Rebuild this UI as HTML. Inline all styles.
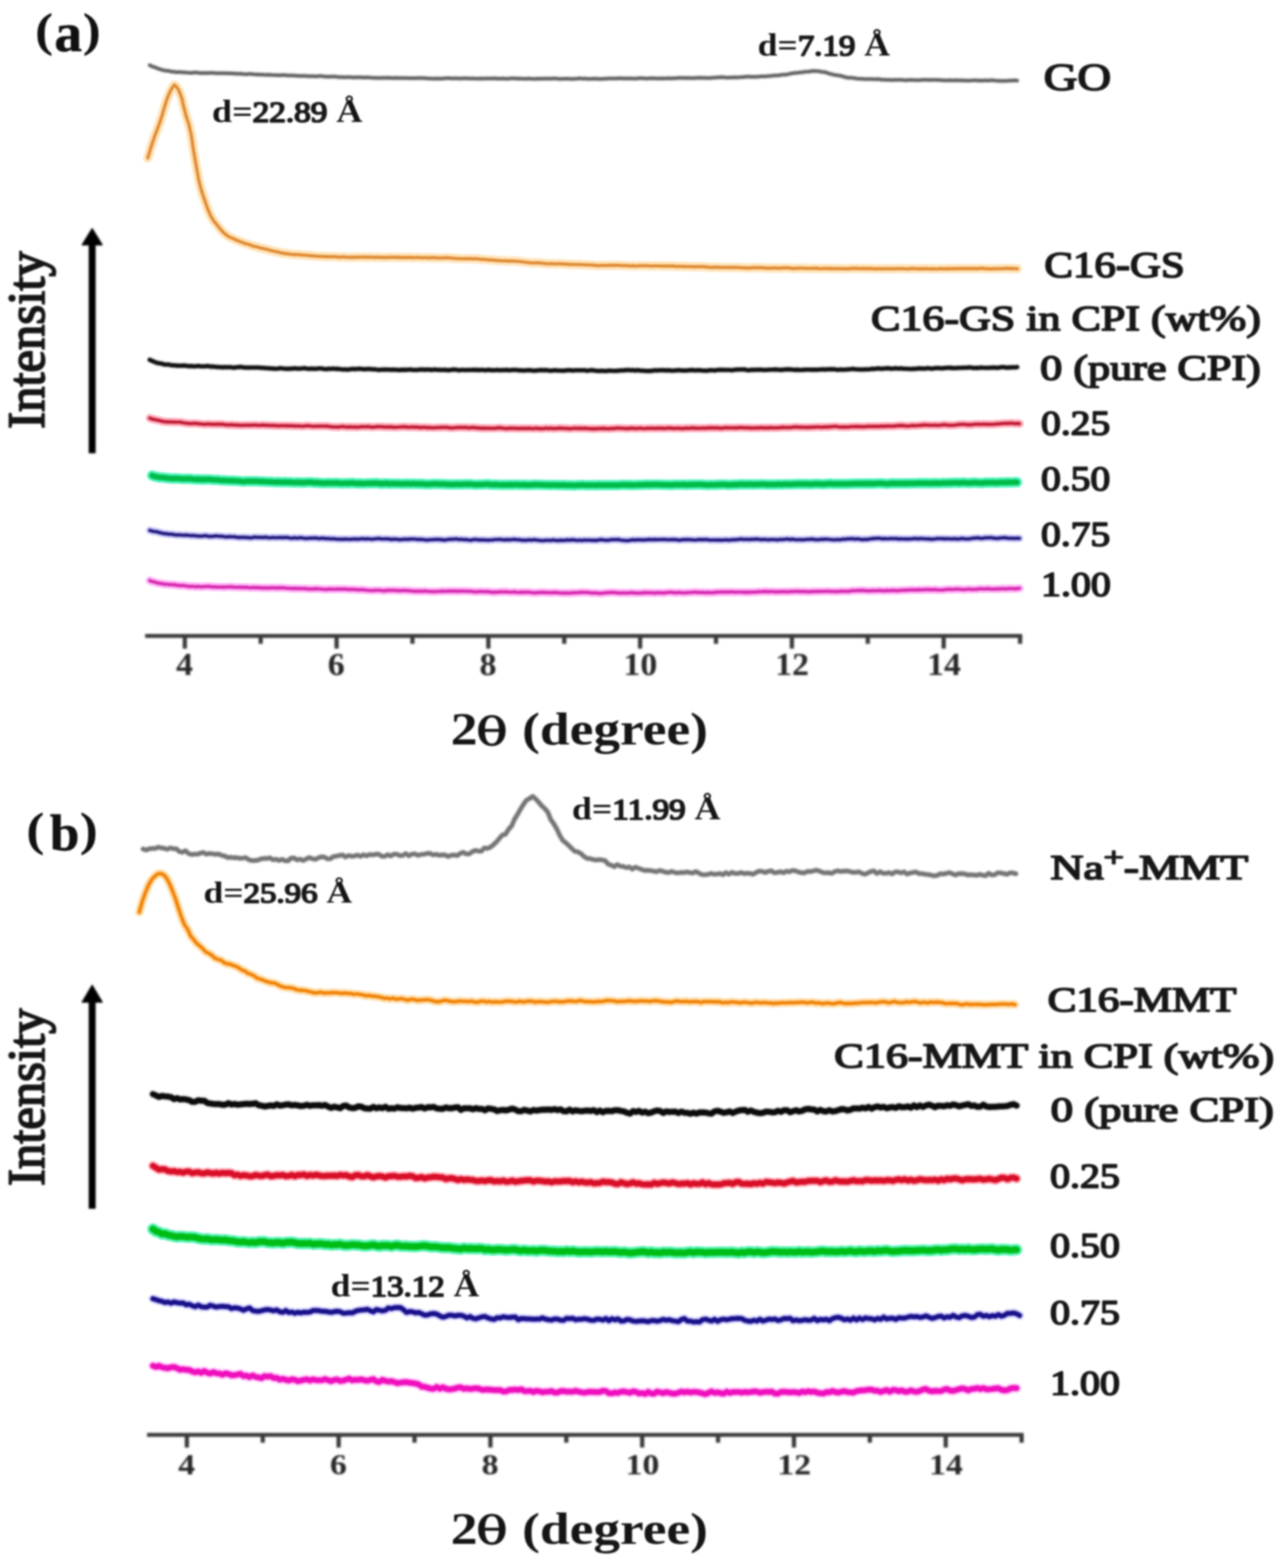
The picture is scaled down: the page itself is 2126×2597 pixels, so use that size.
<!DOCTYPE html>
<html lang="en"><head><meta charset="utf-8"><title>XRD patterns</title>
<style>
html,body{margin:0;padding:0;background:#fff;}
body{width:2126px;height:2597px;overflow:hidden;}
svg{display:block;}
svg text{font-family:"Liberation Serif","DejaVu Serif",serif;font-weight:bold;}
svg .n{font-weight:normal;stroke:#1a1a1a;stroke-width:2.7px;stroke-linejoin:round;}
svg .b{font-weight:bold;stroke:#1a1a1a;stroke-width:2.4px;}
svg .i{font-weight:normal;stroke:#151515;stroke-width:3px;stroke-linejoin:round;}
svg .th{font-family:"DejaVu Serif","Liberation Serif",serif;font-weight:normal;stroke:#151515;stroke-width:1.6px;}
</style></head><body>
<svg width="2126" height="2597" viewBox="0 0 2126 2597">
<defs><filter id="soft" x="0" y="0" width="2126" height="2597" filterUnits="userSpaceOnUse" color-interpolation-filters="sRGB"><feGaussianBlur stdDeviation="1.5"/></filter><filter id="soft2" x="0" y="0" width="2126" height="2597" filterUnits="userSpaceOnUse" color-interpolation-filters="sRGB"><feGaussianBlur stdDeviation="1.1"/></filter></defs>
<rect width="2126" height="2597" fill="#ffffff"/>
<g filter="url(#soft)">
<g id="curves" fill="none" stroke-linejoin="round" stroke-linecap="round">
<path d="M248.0 108.0 252.0 110.0 256.0 111.3 260.0 112.9 264.0 114.3 268.0 115.6 272.0 116.7 276.0 117.1 280.0 117.6 284.0 118.6 288.0 119.0 292.0 119.4 296.0 119.2 300.0 119.5 304.0 120.0 308.0 119.9 312.0 120.5 316.0 120.8 320.0 120.3 324.0 120.1 328.0 120.5 332.0 121.0 336.0 120.9 340.0 120.8 344.0 120.9 348.0 120.7 352.0 120.8 356.0 121.1 360.0 121.3 364.0 121.2 368.0 121.2 372.0 121.3 376.0 121.5 380.0 121.5 384.0 121.4 388.0 122.0 392.0 122.1 396.0 122.3 400.0 122.1 404.0 122.7 408.0 123.0 412.0 122.6 416.0 122.6 420.0 123.0 424.0 123.2 428.0 123.6 432.0 123.5 436.0 123.8 440.0 123.9 444.0 123.7 448.0 123.9 452.0 124.3 456.0 124.6 460.0 124.5 464.0 124.7 468.0 124.3 472.0 124.4 476.0 124.9 480.0 125.0 484.0 124.9 488.0 125.2 492.0 125.5 496.0 125.8 500.0 125.7 504.0 125.8 508.0 125.9 512.0 126.3 516.0 126.3 520.0 126.3 524.0 126.4 528.0 126.1 532.0 126.0 536.0 126.5 540.0 127.1 544.0 127.1 548.0 127.0 552.0 126.8 556.0 127.0 560.0 127.6 564.0 127.7 568.0 127.7 572.0 128.0 576.0 127.7 580.0 127.8 584.0 128.2 588.0 128.2 592.0 128.1 596.0 128.0 600.0 128.2 604.0 128.6 608.0 128.1 612.0 128.5 616.0 128.8 620.0 129.1 624.0 129.1 628.0 129.2 632.0 129.1 636.0 129.1 640.0 129.0 644.0 128.7 648.0 129.2 652.0 129.2 656.0 129.0 660.0 129.2 664.0 129.2 668.0 129.2 672.0 129.2 676.0 129.4 680.0 129.5 684.0 129.6 688.0 129.6 692.0 129.2 696.0 129.2 700.0 129.2 704.0 129.5 708.0 129.9 712.0 130.1 716.0 130.2 720.0 130.3 724.0 130.0 728.0 130.2 732.0 130.3 736.0 129.8 740.0 129.6 744.0 129.4 748.0 129.9 752.0 129.8 756.0 129.7 760.0 130.0 764.0 130.0 768.0 129.8 772.0 129.7 776.0 130.0 780.0 129.9 784.0 129.9 788.0 130.2 792.0 130.2 796.0 130.1 800.0 130.2 804.0 129.9 808.0 130.0 812.0 130.1 816.0 129.9 820.0 129.8 824.0 130.3 828.0 130.3 832.0 130.1 836.0 130.3 840.0 130.5 844.0 130.0 848.0 129.8 852.0 129.7 856.0 130.2 860.0 130.0 864.0 130.3 868.0 130.4 872.0 130.4 876.0 130.1 880.0 130.6 884.0 130.7 888.0 130.5 892.0 130.2 896.0 130.4 900.0 130.3 904.0 130.3 908.0 130.2 912.0 130.3 916.0 130.0 920.0 130.0 924.0 130.5 928.0 130.7 932.0 130.4 936.0 130.6 940.0 130.3 944.0 130.7 948.0 130.7 952.0 130.4 956.0 130.2 960.0 129.8 964.0 130.4 968.0 130.0 972.0 130.4 976.0 130.7 980.0 130.6 984.0 130.2 988.0 130.5 992.0 130.8 996.0 130.7 1000.0 130.5 1004.0 130.2 1008.0 130.1 1012.0 129.9 1016.0 130.1 1020.0 130.1 1024.0 129.8 1028.0 129.6 1032.0 129.9 1036.0 129.8 1040.0 129.9 1044.0 129.7 1048.0 130.1 1052.0 130.3 1056.0 129.7 1060.0 129.5 1064.0 129.5 1068.0 130.0 1072.0 130.1 1076.0 129.8 1080.0 129.5 1084.0 129.7 1088.0 129.9 1092.0 130.1 1096.0 129.7 1100.0 129.9 1104.0 129.8 1108.0 129.6 1112.0 129.9 1116.0 129.4 1120.0 129.5 1124.0 129.1 1128.0 128.9 1132.0 129.3 1136.0 129.0 1140.0 129.3 1144.0 129.2 1148.0 129.4 1152.0 129.1 1156.0 128.9 1160.0 128.7 1164.0 129.0 1168.0 129.0 1172.0 129.2 1176.0 129.3 1180.0 128.7 1184.0 128.6 1188.0 128.2 1192.0 127.9 1196.0 127.8 1200.0 128.3 1204.0 128.5 1208.0 128.5 1212.0 128.2 1216.0 128.1 1220.0 128.2 1224.0 127.9 1228.0 127.8 1232.0 127.4 1236.0 127.1 1240.0 127.0 1244.0 127.3 1248.0 127.2 1252.0 127.3 1256.0 127.0 1260.0 126.5 1264.0 126.6 1268.0 126.6 1272.0 125.9 1276.0 125.9 1280.0 125.3 1284.0 124.9 1288.0 125.1 1292.0 124.3 1296.0 123.8 1300.0 123.8 1304.0 123.1 1308.0 122.2 1312.0 121.4 1316.0 120.8 1320.0 120.7 1324.0 119.9 1328.0 119.8 1332.0 119.0 1336.0 118.8 1340.0 118.5 1344.0 117.8 1348.0 117.5 1352.0 117.8 1356.0 118.0 1360.0 118.9 1364.0 119.3 1368.0 120.0 1372.0 121.7 1376.0 122.6 1380.0 123.7 1384.0 124.4 1388.0 125.1 1392.0 125.5 1396.0 126.8 1400.0 127.8 1404.0 128.7 1408.0 128.7 1412.0 129.0 1416.0 129.7 1420.0 130.4 1424.0 130.6 1428.0 130.8 1432.0 131.0 1436.0 130.9 1440.0 131.1 1444.0 131.1 1448.0 131.2 1452.0 131.1 1456.0 131.3 1460.0 132.0 1464.0 132.0 1468.0 132.2 1472.0 132.3 1476.0 132.6 1480.0 132.4 1484.0 132.2 1488.0 132.2 1492.0 132.2 1496.0 132.6 1500.0 132.9 1504.0 132.6 1508.0 132.4 1512.0 132.6 1516.0 132.7 1520.0 132.7 1524.0 132.5 1528.0 132.2 1532.0 132.3 1536.0 132.2 1540.0 132.5 1544.0 132.3 1548.0 132.2 1552.0 132.6 1556.0 132.6 1560.0 133.0 1564.0 132.9 1568.0 133.2 1572.0 132.8 1576.0 132.9 1580.0 133.2 1584.0 132.8 1588.0 133.2 1592.0 132.9 1596.0 133.2 1600.0 133.5 1604.0 133.6 1608.0 133.3 1612.0 132.9 1616.0 133.0 1620.0 133.4 1624.0 133.2 1628.0 133.5 1632.0 133.1 1636.0 133.5 1640.0 133.0 1644.0 133.0 1648.0 133.5 1652.0 133.7 1656.0 133.9 1660.0 133.9 1664.0 133.9 1668.0 133.8 1672.0 133.4 1676.0 133.4 1680.0 133.1 1684.0 133.5" stroke="#9a9a9a" stroke-width="9" stroke-opacity="0.5"/>
<path d="M248.0 108.0 252.0 110.0 256.0 111.3 260.0 112.9 264.0 114.3 268.0 115.6 272.0 116.7 276.0 117.1 280.0 117.6 284.0 118.6 288.0 119.0 292.0 119.4 296.0 119.2 300.0 119.5 304.0 120.0 308.0 119.9 312.0 120.5 316.0 120.8 320.0 120.3 324.0 120.1 328.0 120.5 332.0 121.0 336.0 120.9 340.0 120.8 344.0 120.9 348.0 120.7 352.0 120.8 356.0 121.1 360.0 121.3 364.0 121.2 368.0 121.2 372.0 121.3 376.0 121.5 380.0 121.5 384.0 121.4 388.0 122.0 392.0 122.1 396.0 122.3 400.0 122.1 404.0 122.7 408.0 123.0 412.0 122.6 416.0 122.6 420.0 123.0 424.0 123.2 428.0 123.6 432.0 123.5 436.0 123.8 440.0 123.9 444.0 123.7 448.0 123.9 452.0 124.3 456.0 124.6 460.0 124.5 464.0 124.7 468.0 124.3 472.0 124.4 476.0 124.9 480.0 125.0 484.0 124.9 488.0 125.2 492.0 125.5 496.0 125.8 500.0 125.7 504.0 125.8 508.0 125.9 512.0 126.3 516.0 126.3 520.0 126.3 524.0 126.4 528.0 126.1 532.0 126.0 536.0 126.5 540.0 127.1 544.0 127.1 548.0 127.0 552.0 126.8 556.0 127.0 560.0 127.6 564.0 127.7 568.0 127.7 572.0 128.0 576.0 127.7 580.0 127.8 584.0 128.2 588.0 128.2 592.0 128.1 596.0 128.0 600.0 128.2 604.0 128.6 608.0 128.1 612.0 128.5 616.0 128.8 620.0 129.1 624.0 129.1 628.0 129.2 632.0 129.1 636.0 129.1 640.0 129.0 644.0 128.7 648.0 129.2 652.0 129.2 656.0 129.0 660.0 129.2 664.0 129.2 668.0 129.2 672.0 129.2 676.0 129.4 680.0 129.5 684.0 129.6 688.0 129.6 692.0 129.2 696.0 129.2 700.0 129.2 704.0 129.5 708.0 129.9 712.0 130.1 716.0 130.2 720.0 130.3 724.0 130.0 728.0 130.2 732.0 130.3 736.0 129.8 740.0 129.6 744.0 129.4 748.0 129.9 752.0 129.8 756.0 129.7 760.0 130.0 764.0 130.0 768.0 129.8 772.0 129.7 776.0 130.0 780.0 129.9 784.0 129.9 788.0 130.2 792.0 130.2 796.0 130.1 800.0 130.2 804.0 129.9 808.0 130.0 812.0 130.1 816.0 129.9 820.0 129.8 824.0 130.3 828.0 130.3 832.0 130.1 836.0 130.3 840.0 130.5 844.0 130.0 848.0 129.8 852.0 129.7 856.0 130.2 860.0 130.0 864.0 130.3 868.0 130.4 872.0 130.4 876.0 130.1 880.0 130.6 884.0 130.7 888.0 130.5 892.0 130.2 896.0 130.4 900.0 130.3 904.0 130.3 908.0 130.2 912.0 130.3 916.0 130.0 920.0 130.0 924.0 130.5 928.0 130.7 932.0 130.4 936.0 130.6 940.0 130.3 944.0 130.7 948.0 130.7 952.0 130.4 956.0 130.2 960.0 129.8 964.0 130.4 968.0 130.0 972.0 130.4 976.0 130.7 980.0 130.6 984.0 130.2 988.0 130.5 992.0 130.8 996.0 130.7 1000.0 130.5 1004.0 130.2 1008.0 130.1 1012.0 129.9 1016.0 130.1 1020.0 130.1 1024.0 129.8 1028.0 129.6 1032.0 129.9 1036.0 129.8 1040.0 129.9 1044.0 129.7 1048.0 130.1 1052.0 130.3 1056.0 129.7 1060.0 129.5 1064.0 129.5 1068.0 130.0 1072.0 130.1 1076.0 129.8 1080.0 129.5 1084.0 129.7 1088.0 129.9 1092.0 130.1 1096.0 129.7 1100.0 129.9 1104.0 129.8 1108.0 129.6 1112.0 129.9 1116.0 129.4 1120.0 129.5 1124.0 129.1 1128.0 128.9 1132.0 129.3 1136.0 129.0 1140.0 129.3 1144.0 129.2 1148.0 129.4 1152.0 129.1 1156.0 128.9 1160.0 128.7 1164.0 129.0 1168.0 129.0 1172.0 129.2 1176.0 129.3 1180.0 128.7 1184.0 128.6 1188.0 128.2 1192.0 127.9 1196.0 127.8 1200.0 128.3 1204.0 128.5 1208.0 128.5 1212.0 128.2 1216.0 128.1 1220.0 128.2 1224.0 127.9 1228.0 127.8 1232.0 127.4 1236.0 127.1 1240.0 127.0 1244.0 127.3 1248.0 127.2 1252.0 127.3 1256.0 127.0 1260.0 126.5 1264.0 126.6 1268.0 126.6 1272.0 125.9 1276.0 125.9 1280.0 125.3 1284.0 124.9 1288.0 125.1 1292.0 124.3 1296.0 123.8 1300.0 123.8 1304.0 123.1 1308.0 122.2 1312.0 121.4 1316.0 120.8 1320.0 120.7 1324.0 119.9 1328.0 119.8 1332.0 119.0 1336.0 118.8 1340.0 118.5 1344.0 117.8 1348.0 117.5 1352.0 117.8 1356.0 118.0 1360.0 118.9 1364.0 119.3 1368.0 120.0 1372.0 121.7 1376.0 122.6 1380.0 123.7 1384.0 124.4 1388.0 125.1 1392.0 125.5 1396.0 126.8 1400.0 127.8 1404.0 128.7 1408.0 128.7 1412.0 129.0 1416.0 129.7 1420.0 130.4 1424.0 130.6 1428.0 130.8 1432.0 131.0 1436.0 130.9 1440.0 131.1 1444.0 131.1 1448.0 131.2 1452.0 131.1 1456.0 131.3 1460.0 132.0 1464.0 132.0 1468.0 132.2 1472.0 132.3 1476.0 132.6 1480.0 132.4 1484.0 132.2 1488.0 132.2 1492.0 132.2 1496.0 132.6 1500.0 132.9 1504.0 132.6 1508.0 132.4 1512.0 132.6 1516.0 132.7 1520.0 132.7 1524.0 132.5 1528.0 132.2 1532.0 132.3 1536.0 132.2 1540.0 132.5 1544.0 132.3 1548.0 132.2 1552.0 132.6 1556.0 132.6 1560.0 133.0 1564.0 132.9 1568.0 133.2 1572.0 132.8 1576.0 132.9 1580.0 133.2 1584.0 132.8 1588.0 133.2 1592.0 132.9 1596.0 133.2 1600.0 133.5 1604.0 133.6 1608.0 133.3 1612.0 132.9 1616.0 133.0 1620.0 133.4 1624.0 133.2 1628.0 133.5 1632.0 133.1 1636.0 133.5 1640.0 133.0 1644.0 133.0 1648.0 133.5 1652.0 133.7 1656.0 133.9 1660.0 133.9 1664.0 133.9 1668.0 133.8 1672.0 133.4 1676.0 133.4 1680.0 133.1 1684.0 133.5" stroke="#666666" stroke-width="5"/>
<path d="M244.6 261.7 248.6 248.8 252.6 235.8 256.6 224.2 260.6 213.8 264.6 202.8 268.6 190.5 272.6 176.4 276.6 163.8 280.6 153.9 284.6 146.2 288.6 140.8 292.6 144.0 296.6 150.8 300.6 161.4 304.6 178.7 308.6 193.6 312.6 205.5 316.6 223.4 320.6 250.0 324.6 273.0 328.6 295.8 332.6 312.4 336.6 325.1 340.6 336.7 344.6 347.9 348.6 357.0 352.6 364.0 356.6 369.3 360.6 374.0 364.6 379.1 368.6 383.7 372.6 387.5 376.6 390.6 380.6 392.9 384.6 394.4 388.6 396.5 392.6 398.2 396.6 399.6 400.6 401.3 404.6 402.7 408.6 404.0 412.6 405.0 416.6 406.6 420.6 408.0 424.6 408.6 428.6 409.9 432.6 411.0 436.6 411.8 440.6 412.8 444.6 413.7 448.6 415.0 452.6 415.7 456.6 416.8 460.6 417.4 464.6 418.5 468.6 419.4 472.6 419.8 476.6 420.3 480.6 421.0 484.6 421.4 488.6 421.6 492.6 421.6 496.6 421.9 500.6 422.5 504.6 422.5 508.6 423.2 512.6 423.2 516.6 423.9 520.6 423.8 524.6 424.5 528.6 424.7 532.6 424.7 536.6 424.8 540.6 425.1 544.6 425.2 548.6 425.1 552.6 425.0 556.6 425.3 560.6 425.8 564.6 425.8 568.6 425.4 572.6 425.8 576.6 426.0 580.6 426.3 584.6 425.9 588.6 426.1 592.6 425.7 596.6 426.0 600.6 425.8 604.6 425.7 608.6 426.2 612.6 425.9 616.6 426.0 620.6 426.4 624.6 426.1 628.6 426.0 632.6 426.4 636.6 426.3 640.6 426.5 644.6 426.1 648.6 426.1 652.6 426.0 656.6 426.4 660.6 426.1 664.6 426.7 668.6 426.3 672.6 426.6 676.6 426.3 680.6 426.3 684.6 426.8 688.6 426.5 692.6 426.4 696.6 426.8 700.6 426.8 704.6 426.5 708.6 427.2 712.6 426.9 716.6 426.6 720.6 426.8 724.6 427.1 728.6 427.4 732.6 427.1 736.6 427.1 740.6 426.9 744.6 427.2 748.6 427.6 752.6 427.9 756.6 428.2 760.6 428.3 764.6 428.5 768.6 428.5 772.6 428.4 776.6 428.3 780.6 428.7 784.6 428.7 788.6 428.7 792.6 429.0 796.6 429.7 800.6 429.6 804.6 430.0 808.6 430.3 812.6 430.6 816.6 430.6 820.6 431.4 824.6 431.4 828.6 431.8 832.6 432.0 836.6 431.9 840.6 432.4 844.6 432.4 848.6 432.4 852.6 432.5 856.6 432.8 860.6 433.0 864.6 433.6 868.6 434.0 872.6 434.7 876.6 435.1 880.6 435.5 884.6 435.3 888.6 435.4 892.6 435.4 896.6 435.8 900.6 436.1 904.6 436.6 908.6 436.8 912.6 436.7 916.6 436.8 920.6 437.1 924.6 436.9 928.6 436.9 932.6 437.3 936.6 437.3 940.6 437.9 944.6 437.9 948.6 437.9 952.6 438.0 956.6 438.1 960.6 438.2 964.6 438.5 968.6 438.7 972.6 438.7 976.6 439.0 980.6 438.9 984.6 439.4 988.6 439.8 992.6 439.8 996.6 439.6 1000.6 439.6 1004.6 439.7 1008.6 439.3 1012.6 439.4 1016.6 439.6 1020.6 439.4 1024.6 439.3 1028.6 439.8 1032.6 439.8 1036.6 439.9 1040.6 440.3 1044.6 440.3 1048.6 440.1 1052.6 440.5 1056.6 440.3 1060.6 439.9 1064.6 440.3 1068.6 440.0 1072.6 440.1 1076.6 440.5 1080.6 440.7 1084.6 440.3 1088.6 440.4 1092.6 440.5 1096.6 440.6 1100.6 440.5 1104.6 440.8 1108.6 440.6 1112.6 440.6 1116.6 440.8 1120.6 441.4 1124.6 441.0 1128.6 441.4 1132.6 441.2 1136.6 441.5 1140.6 441.5 1144.6 441.6 1148.6 441.9 1152.6 441.9 1156.6 441.7 1160.6 441.6 1164.6 441.6 1168.6 442.2 1172.6 442.4 1176.6 442.8 1180.6 442.8 1184.6 442.4 1188.6 442.6 1192.6 442.9 1196.6 443.0 1200.6 443.0 1204.6 442.8 1208.6 442.9 1212.6 443.2 1216.6 442.9 1220.6 443.0 1224.6 443.1 1228.6 443.5 1232.6 443.7 1236.6 443.9 1240.6 443.9 1244.6 443.5 1248.6 443.3 1252.6 443.4 1256.6 443.3 1260.6 443.4 1264.6 443.7 1268.6 444.1 1272.6 444.0 1276.6 444.2 1280.6 443.8 1284.6 443.7 1288.6 444.3 1292.6 443.9 1296.6 443.9 1300.6 443.7 1304.6 443.6 1308.6 444.2 1312.6 444.6 1316.6 444.6 1320.6 444.2 1324.6 444.1 1328.6 444.0 1332.6 444.4 1336.6 444.6 1340.6 444.5 1344.6 444.5 1348.6 444.3 1352.6 444.4 1356.6 444.9 1360.6 445.0 1364.6 444.5 1368.6 444.6 1372.6 444.8 1376.6 444.6 1380.6 445.0 1384.6 444.9 1388.6 445.0 1392.6 444.8 1396.6 445.2 1400.6 445.2 1404.6 445.1 1408.6 444.7 1412.6 444.7 1416.6 444.4 1420.6 444.7 1424.6 445.0 1428.6 444.7 1432.6 444.8 1436.6 444.8 1440.6 444.7 1444.6 445.0 1448.6 445.3 1452.6 445.2 1456.6 445.1 1460.6 445.3 1464.6 445.0 1468.6 445.1 1472.6 445.1 1476.6 445.2 1480.6 445.4 1484.6 444.9 1488.6 445.0 1492.6 444.9 1496.6 445.0 1500.6 445.3 1504.6 445.3 1508.6 444.7 1512.6 444.8 1516.6 445.0 1520.6 445.3 1524.6 445.2 1528.6 445.3 1532.6 444.8 1536.6 445.2 1540.6 445.3 1544.6 445.2 1548.6 445.4 1552.6 445.5 1556.6 444.9 1560.6 445.2 1564.6 445.3 1568.6 444.9 1572.6 445.1 1576.6 445.1 1580.6 444.8 1584.6 445.1 1588.6 444.7 1592.6 444.9 1596.6 444.9 1600.6 444.7 1604.6 444.9 1608.6 444.9 1612.6 444.7 1616.6 445.2 1620.6 444.7 1624.6 444.4 1628.6 444.7 1632.6 445.1 1636.6 445.2 1640.6 445.3 1644.6 445.1 1648.6 445.2 1652.6 445.0 1656.6 444.8 1660.6 444.9 1664.6 444.6 1668.6 444.4 1672.6 444.9 1676.6 444.7 1680.6 445.0 1684.6 445.2" stroke="#ffd9a0" stroke-width="15.2" stroke-opacity="0.75"/>
<path d="M244.6 261.7 248.6 248.8 252.6 235.8 256.6 224.2 260.6 213.8 264.6 202.8 268.6 190.5 272.6 176.4 276.6 163.8 280.6 153.9 284.6 146.2 288.6 140.8 292.6 144.0 296.6 150.8 300.6 161.4 304.6 178.7 308.6 193.6 312.6 205.5 316.6 223.4 320.6 250.0 324.6 273.0 328.6 295.8 332.6 312.4 336.6 325.1 340.6 336.7 344.6 347.9 348.6 357.0 352.6 364.0 356.6 369.3 360.6 374.0 364.6 379.1 368.6 383.7 372.6 387.5 376.6 390.6 380.6 392.9 384.6 394.4 388.6 396.5 392.6 398.2 396.6 399.6 400.6 401.3 404.6 402.7 408.6 404.0 412.6 405.0 416.6 406.6 420.6 408.0 424.6 408.6 428.6 409.9 432.6 411.0 436.6 411.8 440.6 412.8 444.6 413.7 448.6 415.0 452.6 415.7 456.6 416.8 460.6 417.4 464.6 418.5 468.6 419.4 472.6 419.8 476.6 420.3 480.6 421.0 484.6 421.4 488.6 421.6 492.6 421.6 496.6 421.9 500.6 422.5 504.6 422.5 508.6 423.2 512.6 423.2 516.6 423.9 520.6 423.8 524.6 424.5 528.6 424.7 532.6 424.7 536.6 424.8 540.6 425.1 544.6 425.2 548.6 425.1 552.6 425.0 556.6 425.3 560.6 425.8 564.6 425.8 568.6 425.4 572.6 425.8 576.6 426.0 580.6 426.3 584.6 425.9 588.6 426.1 592.6 425.7 596.6 426.0 600.6 425.8 604.6 425.7 608.6 426.2 612.6 425.9 616.6 426.0 620.6 426.4 624.6 426.1 628.6 426.0 632.6 426.4 636.6 426.3 640.6 426.5 644.6 426.1 648.6 426.1 652.6 426.0 656.6 426.4 660.6 426.1 664.6 426.7 668.6 426.3 672.6 426.6 676.6 426.3 680.6 426.3 684.6 426.8 688.6 426.5 692.6 426.4 696.6 426.8 700.6 426.8 704.6 426.5 708.6 427.2 712.6 426.9 716.6 426.6 720.6 426.8 724.6 427.1 728.6 427.4 732.6 427.1 736.6 427.1 740.6 426.9 744.6 427.2 748.6 427.6 752.6 427.9 756.6 428.2 760.6 428.3 764.6 428.5 768.6 428.5 772.6 428.4 776.6 428.3 780.6 428.7 784.6 428.7 788.6 428.7 792.6 429.0 796.6 429.7 800.6 429.6 804.6 430.0 808.6 430.3 812.6 430.6 816.6 430.6 820.6 431.4 824.6 431.4 828.6 431.8 832.6 432.0 836.6 431.9 840.6 432.4 844.6 432.4 848.6 432.4 852.6 432.5 856.6 432.8 860.6 433.0 864.6 433.6 868.6 434.0 872.6 434.7 876.6 435.1 880.6 435.5 884.6 435.3 888.6 435.4 892.6 435.4 896.6 435.8 900.6 436.1 904.6 436.6 908.6 436.8 912.6 436.7 916.6 436.8 920.6 437.1 924.6 436.9 928.6 436.9 932.6 437.3 936.6 437.3 940.6 437.9 944.6 437.9 948.6 437.9 952.6 438.0 956.6 438.1 960.6 438.2 964.6 438.5 968.6 438.7 972.6 438.7 976.6 439.0 980.6 438.9 984.6 439.4 988.6 439.8 992.6 439.8 996.6 439.6 1000.6 439.6 1004.6 439.7 1008.6 439.3 1012.6 439.4 1016.6 439.6 1020.6 439.4 1024.6 439.3 1028.6 439.8 1032.6 439.8 1036.6 439.9 1040.6 440.3 1044.6 440.3 1048.6 440.1 1052.6 440.5 1056.6 440.3 1060.6 439.9 1064.6 440.3 1068.6 440.0 1072.6 440.1 1076.6 440.5 1080.6 440.7 1084.6 440.3 1088.6 440.4 1092.6 440.5 1096.6 440.6 1100.6 440.5 1104.6 440.8 1108.6 440.6 1112.6 440.6 1116.6 440.8 1120.6 441.4 1124.6 441.0 1128.6 441.4 1132.6 441.2 1136.6 441.5 1140.6 441.5 1144.6 441.6 1148.6 441.9 1152.6 441.9 1156.6 441.7 1160.6 441.6 1164.6 441.6 1168.6 442.2 1172.6 442.4 1176.6 442.8 1180.6 442.8 1184.6 442.4 1188.6 442.6 1192.6 442.9 1196.6 443.0 1200.6 443.0 1204.6 442.8 1208.6 442.9 1212.6 443.2 1216.6 442.9 1220.6 443.0 1224.6 443.1 1228.6 443.5 1232.6 443.7 1236.6 443.9 1240.6 443.9 1244.6 443.5 1248.6 443.3 1252.6 443.4 1256.6 443.3 1260.6 443.4 1264.6 443.7 1268.6 444.1 1272.6 444.0 1276.6 444.2 1280.6 443.8 1284.6 443.7 1288.6 444.3 1292.6 443.9 1296.6 443.9 1300.6 443.7 1304.6 443.6 1308.6 444.2 1312.6 444.6 1316.6 444.6 1320.6 444.2 1324.6 444.1 1328.6 444.0 1332.6 444.4 1336.6 444.6 1340.6 444.5 1344.6 444.5 1348.6 444.3 1352.6 444.4 1356.6 444.9 1360.6 445.0 1364.6 444.5 1368.6 444.6 1372.6 444.8 1376.6 444.6 1380.6 445.0 1384.6 444.9 1388.6 445.0 1392.6 444.8 1396.6 445.2 1400.6 445.2 1404.6 445.1 1408.6 444.7 1412.6 444.7 1416.6 444.4 1420.6 444.7 1424.6 445.0 1428.6 444.7 1432.6 444.8 1436.6 444.8 1440.6 444.7 1444.6 445.0 1448.6 445.3 1452.6 445.2 1456.6 445.1 1460.6 445.3 1464.6 445.0 1468.6 445.1 1472.6 445.1 1476.6 445.2 1480.6 445.4 1484.6 444.9 1488.6 445.0 1492.6 444.9 1496.6 445.0 1500.6 445.3 1504.6 445.3 1508.6 444.7 1512.6 444.8 1516.6 445.0 1520.6 445.3 1524.6 445.2 1528.6 445.3 1532.6 444.8 1536.6 445.2 1540.6 445.3 1544.6 445.2 1548.6 445.4 1552.6 445.5 1556.6 444.9 1560.6 445.2 1564.6 445.3 1568.6 444.9 1572.6 445.1 1576.6 445.1 1580.6 444.8 1584.6 445.1 1588.6 444.7 1592.6 444.9 1596.6 444.9 1600.6 444.7 1604.6 444.9 1608.6 444.9 1612.6 444.7 1616.6 445.2 1620.6 444.7 1624.6 444.4 1628.6 444.7 1632.6 445.1 1636.6 445.2 1640.6 445.3 1644.6 445.1 1648.6 445.2 1652.6 445.0 1656.6 444.8 1660.6 444.9 1664.6 444.6 1668.6 444.4 1672.6 444.9 1676.6 444.7 1680.6 445.0 1684.6 445.2" stroke="#e08a32" stroke-width="5.2"/>
<path d="M248.0 596.0 252.0 597.7 256.0 599.5 260.0 601.0 264.0 601.7 268.0 602.3 272.0 603.6 276.0 603.8 280.0 603.9 284.0 605.0 288.0 605.1 292.0 605.6 296.0 605.6 300.0 605.8 304.0 605.4 308.0 605.8 312.0 606.4 316.0 606.3 320.0 606.6 324.0 606.7 328.0 606.1 332.0 606.7 336.0 606.8 340.0 606.6 344.0 606.2 348.0 607.1 352.0 607.1 356.0 607.5 360.0 607.9 364.0 608.0 368.0 608.4 372.0 608.0 376.0 608.3 380.0 608.1 384.0 608.6 388.0 608.9 392.0 608.2 396.0 607.9 400.0 607.8 404.0 608.7 408.0 608.7 412.0 608.9 416.0 608.7 420.0 608.8 424.0 608.8 428.0 608.8 432.0 609.1 436.0 609.3 440.0 609.8 444.0 609.9 448.0 610.3 452.0 610.4 456.0 610.7 460.0 610.5 464.0 609.8 468.0 610.2 472.0 610.7 476.0 610.9 480.0 610.6 484.0 610.6 488.0 610.1 492.0 610.6 496.0 610.5 500.0 610.2 504.0 609.8 508.0 610.5 512.0 611.1 516.0 610.4 520.0 610.9 524.0 610.7 528.0 610.3 532.0 610.3 536.0 610.9 540.0 611.4 544.0 610.7 548.0 611.0 552.0 610.5 556.0 611.1 560.0 610.9 564.0 611.5 568.0 612.0 572.0 611.7 576.0 612.2 580.0 611.6 584.0 611.1 588.0 611.4 592.0 610.9 596.0 610.9 600.0 611.2 604.0 611.6 608.0 611.2 612.0 611.0 616.0 611.8 620.0 611.6 624.0 612.3 628.0 612.6 632.0 612.2 636.0 612.1 640.0 612.1 644.0 612.3 648.0 612.4 652.0 612.4 656.0 612.4 660.0 612.9 664.0 612.6 668.0 612.4 672.0 612.6 676.0 612.2 680.0 612.1 684.0 612.8 688.0 612.7 692.0 612.6 696.0 612.0 700.0 612.1 704.0 612.4 708.0 611.9 712.0 612.4 716.0 612.6 720.0 612.1 724.0 612.5 728.0 612.6 732.0 612.8 736.0 612.6 740.0 612.9 744.0 613.1 748.0 612.4 752.0 612.1 756.0 612.6 760.0 613.3 764.0 612.8 768.0 612.8 772.0 613.0 776.0 612.7 780.0 612.7 784.0 612.6 788.0 612.6 792.0 612.9 796.0 612.7 800.0 612.7 804.0 613.2 808.0 612.6 812.0 612.9 816.0 613.3 820.0 613.0 824.0 612.8 828.0 613.3 832.0 613.0 836.0 612.7 840.0 612.9 844.0 613.3 848.0 612.8 852.0 612.8 856.0 612.8 860.0 613.5 864.0 613.3 868.0 613.8 872.0 613.2 876.0 613.1 880.0 613.4 884.0 613.9 888.0 613.6 892.0 613.2 896.0 612.9 900.0 613.2 904.0 612.9 908.0 613.5 912.0 613.9 916.0 613.4 920.0 613.2 924.0 613.7 928.0 613.8 932.0 614.0 936.0 613.6 940.0 613.2 944.0 613.1 948.0 613.7 952.0 613.3 956.0 613.3 960.0 613.3 964.0 613.3 968.0 613.3 972.0 614.0 976.0 613.4 980.0 612.9 984.0 613.7 988.0 614.1 992.0 614.5 996.0 614.0 1000.0 614.4 1004.0 614.5 1008.0 613.8 1012.0 614.0 1016.0 614.2 1020.0 614.1 1024.0 613.9 1028.0 613.5 1032.0 613.4 1036.0 613.1 1040.0 612.8 1044.0 613.3 1048.0 613.1 1052.0 613.7 1056.0 613.1 1060.0 613.8 1064.0 613.9 1068.0 614.2 1072.0 614.4 1076.0 614.4 1080.0 614.1 1084.0 613.2 1088.0 613.6 1092.0 613.2 1096.0 613.0 1100.0 613.4 1104.0 613.4 1108.0 613.3 1112.0 613.9 1116.0 613.8 1120.0 613.4 1124.0 613.1 1128.0 613.6 1132.0 613.5 1136.0 613.7 1140.0 613.3 1144.0 612.9 1148.0 613.1 1152.0 613.5 1156.0 613.0 1160.0 613.4 1164.0 613.8 1168.0 613.9 1172.0 613.9 1176.0 613.0 1180.0 613.2 1184.0 613.6 1188.0 612.8 1192.0 612.6 1196.0 612.5 1200.0 612.8 1204.0 612.8 1208.0 612.8 1212.0 613.2 1216.0 612.5 1220.0 612.1 1224.0 612.0 1228.0 612.0 1232.0 611.8 1236.0 612.8 1240.0 613.2 1244.0 612.5 1248.0 612.6 1252.0 612.5 1256.0 612.4 1260.0 612.3 1264.0 612.7 1268.0 612.8 1272.0 612.5 1276.0 612.2 1280.0 612.2 1284.0 611.9 1288.0 612.3 1292.0 612.6 1296.0 612.4 1300.0 611.9 1304.0 611.8 1308.0 611.9 1312.0 612.3 1316.0 612.6 1320.0 612.4 1324.0 612.7 1328.0 612.7 1332.0 612.4 1336.0 612.2 1340.0 612.2 1344.0 612.4 1348.0 612.2 1352.0 612.4 1356.0 612.2 1360.0 611.8 1364.0 611.9 1368.0 612.1 1372.0 611.5 1376.0 611.6 1380.0 611.6 1384.0 612.1 1388.0 612.5 1392.0 612.0 1396.0 612.3 1400.0 612.3 1404.0 611.7 1408.0 611.6 1412.0 611.1 1416.0 611.6 1420.0 611.7 1424.0 612.0 1428.0 612.0 1432.0 611.9 1436.0 611.8 1440.0 611.6 1444.0 610.9 1448.0 611.1 1452.0 610.4 1456.0 610.2 1460.0 610.9 1464.0 610.3 1468.0 610.1 1472.0 609.9 1476.0 610.7 1480.0 610.3 1484.0 609.9 1488.0 610.6 1492.0 610.1 1496.0 610.7 1500.0 610.8 1504.0 611.0 1508.0 611.3 1512.0 610.9 1516.0 611.0 1520.0 610.1 1524.0 610.4 1528.0 610.3 1532.0 610.5 1536.0 609.8 1540.0 610.2 1544.0 610.6 1548.0 609.7 1552.0 609.6 1556.0 609.7 1560.0 610.1 1564.0 609.6 1568.0 609.2 1572.0 609.1 1576.0 609.4 1580.0 609.7 1584.0 609.5 1588.0 609.3 1592.0 609.2 1596.0 609.0 1600.0 609.0 1604.0 608.6 1608.0 608.8 1612.0 609.5 1616.0 609.2 1620.0 609.4 1624.0 608.7 1628.0 609.0 1632.0 609.2 1636.0 609.2 1640.0 609.0 1644.0 608.8 1648.0 608.9 1652.0 609.2 1656.0 608.5 1660.0 608.0 1664.0 608.4 1668.0 608.9 1672.0 608.6 1676.0 608.4 1680.0 608.5 1684.0 608.0" stroke="#8a8a8a" stroke-width="10.6" stroke-opacity="0.5"/>
<path d="M248.0 596.0 252.0 597.7 256.0 599.5 260.0 601.0 264.0 601.7 268.0 602.3 272.0 603.6 276.0 603.8 280.0 603.9 284.0 605.0 288.0 605.1 292.0 605.6 296.0 605.6 300.0 605.8 304.0 605.4 308.0 605.8 312.0 606.4 316.0 606.3 320.0 606.6 324.0 606.7 328.0 606.1 332.0 606.7 336.0 606.8 340.0 606.6 344.0 606.2 348.0 607.1 352.0 607.1 356.0 607.5 360.0 607.9 364.0 608.0 368.0 608.4 372.0 608.0 376.0 608.3 380.0 608.1 384.0 608.6 388.0 608.9 392.0 608.2 396.0 607.9 400.0 607.8 404.0 608.7 408.0 608.7 412.0 608.9 416.0 608.7 420.0 608.8 424.0 608.8 428.0 608.8 432.0 609.1 436.0 609.3 440.0 609.8 444.0 609.9 448.0 610.3 452.0 610.4 456.0 610.7 460.0 610.5 464.0 609.8 468.0 610.2 472.0 610.7 476.0 610.9 480.0 610.6 484.0 610.6 488.0 610.1 492.0 610.6 496.0 610.5 500.0 610.2 504.0 609.8 508.0 610.5 512.0 611.1 516.0 610.4 520.0 610.9 524.0 610.7 528.0 610.3 532.0 610.3 536.0 610.9 540.0 611.4 544.0 610.7 548.0 611.0 552.0 610.5 556.0 611.1 560.0 610.9 564.0 611.5 568.0 612.0 572.0 611.7 576.0 612.2 580.0 611.6 584.0 611.1 588.0 611.4 592.0 610.9 596.0 610.9 600.0 611.2 604.0 611.6 608.0 611.2 612.0 611.0 616.0 611.8 620.0 611.6 624.0 612.3 628.0 612.6 632.0 612.2 636.0 612.1 640.0 612.1 644.0 612.3 648.0 612.4 652.0 612.4 656.0 612.4 660.0 612.9 664.0 612.6 668.0 612.4 672.0 612.6 676.0 612.2 680.0 612.1 684.0 612.8 688.0 612.7 692.0 612.6 696.0 612.0 700.0 612.1 704.0 612.4 708.0 611.9 712.0 612.4 716.0 612.6 720.0 612.1 724.0 612.5 728.0 612.6 732.0 612.8 736.0 612.6 740.0 612.9 744.0 613.1 748.0 612.4 752.0 612.1 756.0 612.6 760.0 613.3 764.0 612.8 768.0 612.8 772.0 613.0 776.0 612.7 780.0 612.7 784.0 612.6 788.0 612.6 792.0 612.9 796.0 612.7 800.0 612.7 804.0 613.2 808.0 612.6 812.0 612.9 816.0 613.3 820.0 613.0 824.0 612.8 828.0 613.3 832.0 613.0 836.0 612.7 840.0 612.9 844.0 613.3 848.0 612.8 852.0 612.8 856.0 612.8 860.0 613.5 864.0 613.3 868.0 613.8 872.0 613.2 876.0 613.1 880.0 613.4 884.0 613.9 888.0 613.6 892.0 613.2 896.0 612.9 900.0 613.2 904.0 612.9 908.0 613.5 912.0 613.9 916.0 613.4 920.0 613.2 924.0 613.7 928.0 613.8 932.0 614.0 936.0 613.6 940.0 613.2 944.0 613.1 948.0 613.7 952.0 613.3 956.0 613.3 960.0 613.3 964.0 613.3 968.0 613.3 972.0 614.0 976.0 613.4 980.0 612.9 984.0 613.7 988.0 614.1 992.0 614.5 996.0 614.0 1000.0 614.4 1004.0 614.5 1008.0 613.8 1012.0 614.0 1016.0 614.2 1020.0 614.1 1024.0 613.9 1028.0 613.5 1032.0 613.4 1036.0 613.1 1040.0 612.8 1044.0 613.3 1048.0 613.1 1052.0 613.7 1056.0 613.1 1060.0 613.8 1064.0 613.9 1068.0 614.2 1072.0 614.4 1076.0 614.4 1080.0 614.1 1084.0 613.2 1088.0 613.6 1092.0 613.2 1096.0 613.0 1100.0 613.4 1104.0 613.4 1108.0 613.3 1112.0 613.9 1116.0 613.8 1120.0 613.4 1124.0 613.1 1128.0 613.6 1132.0 613.5 1136.0 613.7 1140.0 613.3 1144.0 612.9 1148.0 613.1 1152.0 613.5 1156.0 613.0 1160.0 613.4 1164.0 613.8 1168.0 613.9 1172.0 613.9 1176.0 613.0 1180.0 613.2 1184.0 613.6 1188.0 612.8 1192.0 612.6 1196.0 612.5 1200.0 612.8 1204.0 612.8 1208.0 612.8 1212.0 613.2 1216.0 612.5 1220.0 612.1 1224.0 612.0 1228.0 612.0 1232.0 611.8 1236.0 612.8 1240.0 613.2 1244.0 612.5 1248.0 612.6 1252.0 612.5 1256.0 612.4 1260.0 612.3 1264.0 612.7 1268.0 612.8 1272.0 612.5 1276.0 612.2 1280.0 612.2 1284.0 611.9 1288.0 612.3 1292.0 612.6 1296.0 612.4 1300.0 611.9 1304.0 611.8 1308.0 611.9 1312.0 612.3 1316.0 612.6 1320.0 612.4 1324.0 612.7 1328.0 612.7 1332.0 612.4 1336.0 612.2 1340.0 612.2 1344.0 612.4 1348.0 612.2 1352.0 612.4 1356.0 612.2 1360.0 611.8 1364.0 611.9 1368.0 612.1 1372.0 611.5 1376.0 611.6 1380.0 611.6 1384.0 612.1 1388.0 612.5 1392.0 612.0 1396.0 612.3 1400.0 612.3 1404.0 611.7 1408.0 611.6 1412.0 611.1 1416.0 611.6 1420.0 611.7 1424.0 612.0 1428.0 612.0 1432.0 611.9 1436.0 611.8 1440.0 611.6 1444.0 610.9 1448.0 611.1 1452.0 610.4 1456.0 610.2 1460.0 610.9 1464.0 610.3 1468.0 610.1 1472.0 609.9 1476.0 610.7 1480.0 610.3 1484.0 609.9 1488.0 610.6 1492.0 610.1 1496.0 610.7 1500.0 610.8 1504.0 611.0 1508.0 611.3 1512.0 610.9 1516.0 611.0 1520.0 610.1 1524.0 610.4 1528.0 610.3 1532.0 610.5 1536.0 609.8 1540.0 610.2 1544.0 610.6 1548.0 609.7 1552.0 609.6 1556.0 609.7 1560.0 610.1 1564.0 609.6 1568.0 609.2 1572.0 609.1 1576.0 609.4 1580.0 609.7 1584.0 609.5 1588.0 609.3 1592.0 609.2 1596.0 609.0 1600.0 609.0 1604.0 608.6 1608.0 608.8 1612.0 609.5 1616.0 609.2 1620.0 609.4 1624.0 608.7 1628.0 609.0 1632.0 609.2 1636.0 609.2 1640.0 609.0 1644.0 608.8 1648.0 608.9 1652.0 609.2 1656.0 608.5 1660.0 608.0 1664.0 608.4 1668.0 608.9 1672.0 608.6 1676.0 608.4 1680.0 608.5 1684.0 608.0" stroke="#141414" stroke-width="6.6"/>
<path d="M248.0 692.5 252.0 694.0 256.0 694.9 260.0 695.6 264.0 696.5 268.0 697.6 272.0 698.3 276.0 698.8 280.0 698.6 284.0 699.0 288.0 699.0 292.0 699.1 296.0 699.1 300.0 699.4 304.0 700.3 308.0 700.9 312.0 701.3 316.0 701.6 320.0 701.3 324.0 701.3 328.0 701.7 332.0 702.1 336.0 702.5 340.0 702.8 344.0 702.2 348.0 702.5 352.0 702.8 356.0 702.8 360.0 702.5 364.0 702.8 368.0 702.5 372.0 703.3 376.0 703.7 380.0 703.7 384.0 703.5 388.0 704.0 392.0 704.0 396.0 704.3 400.0 704.5 404.0 704.3 408.0 704.2 412.0 704.3 416.0 704.3 420.0 704.0 424.0 704.0 428.0 704.6 432.0 704.2 436.0 704.0 440.0 704.5 444.0 704.4 448.0 704.7 452.0 704.8 456.0 704.8 460.0 705.4 464.0 705.0 468.0 705.1 472.0 704.9 476.0 705.3 480.0 705.1 484.0 705.2 488.0 705.6 492.0 705.5 496.0 705.6 500.0 706.1 504.0 705.6 508.0 705.3 512.0 705.3 516.0 705.9 520.0 706.1 524.0 705.9 528.0 705.9 532.0 705.7 536.0 705.9 540.0 705.7 544.0 706.2 548.0 706.7 552.0 707.1 556.0 707.1 560.0 707.3 564.0 706.6 568.0 706.4 572.0 707.1 576.0 707.2 580.0 707.0 584.0 707.4 588.0 707.3 592.0 707.5 596.0 707.1 600.0 706.8 604.0 706.9 608.0 706.7 612.0 706.8 616.0 707.5 620.0 707.2 624.0 706.8 628.0 706.6 632.0 706.7 636.0 707.3 640.0 707.3 644.0 707.2 648.0 707.0 652.0 707.8 656.0 707.6 660.0 707.4 664.0 707.1 668.0 707.0 672.0 707.0 676.0 707.6 680.0 707.4 684.0 707.2 688.0 707.5 692.0 707.5 696.0 708.2 700.0 707.8 704.0 707.9 708.0 708.3 712.0 708.1 716.0 708.6 720.0 708.4 724.0 708.1 728.0 708.1 732.0 707.7 736.0 707.9 740.0 707.8 744.0 708.5 748.0 708.8 752.0 708.6 756.0 708.1 760.0 708.0 764.0 708.0 768.0 708.0 772.0 708.0 776.0 708.6 780.0 708.3 784.0 708.0 788.0 708.7 792.0 708.8 796.0 709.3 800.0 709.0 804.0 709.3 808.0 709.2 812.0 709.4 816.0 709.4 820.0 709.2 824.0 708.7 828.0 708.5 832.0 709.1 836.0 709.5 840.0 709.7 844.0 709.3 848.0 709.3 852.0 709.5 856.0 709.5 860.0 709.7 864.0 709.5 868.0 709.5 872.0 709.6 876.0 709.2 880.0 709.7 884.0 709.9 888.0 709.2 892.0 709.8 896.0 710.0 900.0 709.9 904.0 709.2 908.0 709.7 912.0 709.2 916.0 709.8 920.0 709.8 924.0 709.2 928.0 709.0 932.0 709.4 936.0 709.5 940.0 709.8 944.0 710.1 948.0 709.6 952.0 709.1 956.0 709.7 960.0 709.2 964.0 709.7 968.0 709.3 972.0 709.7 976.0 709.9 980.0 710.2 984.0 710.0 988.0 710.2 992.0 709.6 996.0 709.8 1000.0 709.5 1004.0 710.0 1008.0 710.1 1012.0 709.8 1016.0 709.7 1020.0 709.2 1024.0 708.9 1028.0 709.3 1032.0 709.4 1036.0 709.8 1040.0 709.8 1044.0 709.3 1048.0 709.3 1052.0 709.7 1056.0 709.6 1060.0 709.1 1064.0 709.6 1068.0 709.9 1072.0 709.3 1076.0 709.4 1080.0 709.3 1084.0 709.6 1088.0 709.3 1092.0 709.1 1096.0 709.2 1100.0 709.7 1104.0 709.1 1108.0 708.8 1112.0 709.2 1116.0 709.6 1120.0 709.4 1124.0 709.3 1128.0 709.6 1132.0 709.7 1136.0 709.0 1140.0 709.4 1144.0 709.0 1148.0 708.8 1152.0 709.3 1156.0 709.1 1160.0 709.4 1164.0 708.9 1168.0 709.3 1172.0 708.8 1176.0 708.5 1180.0 708.7 1184.0 708.6 1188.0 708.7 1192.0 709.2 1196.0 709.2 1200.0 708.5 1204.0 708.4 1208.0 708.6 1212.0 708.6 1216.0 708.8 1220.0 708.7 1224.0 708.2 1228.0 708.1 1232.0 708.6 1236.0 708.4 1240.0 708.7 1244.0 709.0 1248.0 708.9 1252.0 708.8 1256.0 708.7 1260.0 708.3 1264.0 708.7 1268.0 708.5 1272.0 708.7 1276.0 708.3 1280.0 708.6 1284.0 708.6 1288.0 708.5 1292.0 708.2 1296.0 707.8 1300.0 708.1 1304.0 707.9 1308.0 708.1 1312.0 707.6 1316.0 707.3 1320.0 707.1 1324.0 707.7 1328.0 707.4 1332.0 707.9 1336.0 707.6 1340.0 707.7 1344.0 707.4 1348.0 707.5 1352.0 707.1 1356.0 707.1 1360.0 707.6 1364.0 707.1 1368.0 707.3 1372.0 707.0 1376.0 706.8 1380.0 706.4 1384.0 706.2 1388.0 706.9 1392.0 707.2 1396.0 707.3 1400.0 707.3 1404.0 707.4 1408.0 706.7 1412.0 706.6 1416.0 706.5 1420.0 706.5 1424.0 706.8 1428.0 706.8 1432.0 706.9 1436.0 706.1 1440.0 706.2 1444.0 706.2 1448.0 706.3 1452.0 706.2 1456.0 706.3 1460.0 705.8 1464.0 706.1 1468.0 705.7 1472.0 705.7 1476.0 705.9 1480.0 705.8 1484.0 705.3 1488.0 705.0 1492.0 704.8 1496.0 705.0 1500.0 705.5 1504.0 705.6 1508.0 705.1 1512.0 704.8 1516.0 705.1 1520.0 704.6 1524.0 704.5 1528.0 704.0 1532.0 703.8 1536.0 704.1 1540.0 704.3 1544.0 704.4 1548.0 704.1 1552.0 704.5 1556.0 704.4 1560.0 703.8 1564.0 703.3 1568.0 704.0 1572.0 704.3 1576.0 704.4 1580.0 704.1 1584.0 703.6 1588.0 703.0 1592.0 702.9 1596.0 702.7 1600.0 703.3 1604.0 703.5 1608.0 703.5 1612.0 702.9 1616.0 702.6 1620.0 702.4 1624.0 702.9 1628.0 702.4 1632.0 702.7 1636.0 702.7 1640.0 702.6 1644.0 702.9 1648.0 702.3 1652.0 702.2 1656.0 701.8 1660.0 701.4 1664.0 701.1 1668.0 701.2 1672.0 701.0 1676.0 700.9 1680.0 701.6 1684.0 701.3 1688.0 701.7" stroke="#ff8ea0" stroke-width="13.4" stroke-opacity="0.75"/>
<path d="M248.0 692.5 252.0 694.0 256.0 694.9 260.0 695.6 264.0 696.5 268.0 697.6 272.0 698.3 276.0 698.8 280.0 698.6 284.0 699.0 288.0 699.0 292.0 699.1 296.0 699.1 300.0 699.4 304.0 700.3 308.0 700.9 312.0 701.3 316.0 701.6 320.0 701.3 324.0 701.3 328.0 701.7 332.0 702.1 336.0 702.5 340.0 702.8 344.0 702.2 348.0 702.5 352.0 702.8 356.0 702.8 360.0 702.5 364.0 702.8 368.0 702.5 372.0 703.3 376.0 703.7 380.0 703.7 384.0 703.5 388.0 704.0 392.0 704.0 396.0 704.3 400.0 704.5 404.0 704.3 408.0 704.2 412.0 704.3 416.0 704.3 420.0 704.0 424.0 704.0 428.0 704.6 432.0 704.2 436.0 704.0 440.0 704.5 444.0 704.4 448.0 704.7 452.0 704.8 456.0 704.8 460.0 705.4 464.0 705.0 468.0 705.1 472.0 704.9 476.0 705.3 480.0 705.1 484.0 705.2 488.0 705.6 492.0 705.5 496.0 705.6 500.0 706.1 504.0 705.6 508.0 705.3 512.0 705.3 516.0 705.9 520.0 706.1 524.0 705.9 528.0 705.9 532.0 705.7 536.0 705.9 540.0 705.7 544.0 706.2 548.0 706.7 552.0 707.1 556.0 707.1 560.0 707.3 564.0 706.6 568.0 706.4 572.0 707.1 576.0 707.2 580.0 707.0 584.0 707.4 588.0 707.3 592.0 707.5 596.0 707.1 600.0 706.8 604.0 706.9 608.0 706.7 612.0 706.8 616.0 707.5 620.0 707.2 624.0 706.8 628.0 706.6 632.0 706.7 636.0 707.3 640.0 707.3 644.0 707.2 648.0 707.0 652.0 707.8 656.0 707.6 660.0 707.4 664.0 707.1 668.0 707.0 672.0 707.0 676.0 707.6 680.0 707.4 684.0 707.2 688.0 707.5 692.0 707.5 696.0 708.2 700.0 707.8 704.0 707.9 708.0 708.3 712.0 708.1 716.0 708.6 720.0 708.4 724.0 708.1 728.0 708.1 732.0 707.7 736.0 707.9 740.0 707.8 744.0 708.5 748.0 708.8 752.0 708.6 756.0 708.1 760.0 708.0 764.0 708.0 768.0 708.0 772.0 708.0 776.0 708.6 780.0 708.3 784.0 708.0 788.0 708.7 792.0 708.8 796.0 709.3 800.0 709.0 804.0 709.3 808.0 709.2 812.0 709.4 816.0 709.4 820.0 709.2 824.0 708.7 828.0 708.5 832.0 709.1 836.0 709.5 840.0 709.7 844.0 709.3 848.0 709.3 852.0 709.5 856.0 709.5 860.0 709.7 864.0 709.5 868.0 709.5 872.0 709.6 876.0 709.2 880.0 709.7 884.0 709.9 888.0 709.2 892.0 709.8 896.0 710.0 900.0 709.9 904.0 709.2 908.0 709.7 912.0 709.2 916.0 709.8 920.0 709.8 924.0 709.2 928.0 709.0 932.0 709.4 936.0 709.5 940.0 709.8 944.0 710.1 948.0 709.6 952.0 709.1 956.0 709.7 960.0 709.2 964.0 709.7 968.0 709.3 972.0 709.7 976.0 709.9 980.0 710.2 984.0 710.0 988.0 710.2 992.0 709.6 996.0 709.8 1000.0 709.5 1004.0 710.0 1008.0 710.1 1012.0 709.8 1016.0 709.7 1020.0 709.2 1024.0 708.9 1028.0 709.3 1032.0 709.4 1036.0 709.8 1040.0 709.8 1044.0 709.3 1048.0 709.3 1052.0 709.7 1056.0 709.6 1060.0 709.1 1064.0 709.6 1068.0 709.9 1072.0 709.3 1076.0 709.4 1080.0 709.3 1084.0 709.6 1088.0 709.3 1092.0 709.1 1096.0 709.2 1100.0 709.7 1104.0 709.1 1108.0 708.8 1112.0 709.2 1116.0 709.6 1120.0 709.4 1124.0 709.3 1128.0 709.6 1132.0 709.7 1136.0 709.0 1140.0 709.4 1144.0 709.0 1148.0 708.8 1152.0 709.3 1156.0 709.1 1160.0 709.4 1164.0 708.9 1168.0 709.3 1172.0 708.8 1176.0 708.5 1180.0 708.7 1184.0 708.6 1188.0 708.7 1192.0 709.2 1196.0 709.2 1200.0 708.5 1204.0 708.4 1208.0 708.6 1212.0 708.6 1216.0 708.8 1220.0 708.7 1224.0 708.2 1228.0 708.1 1232.0 708.6 1236.0 708.4 1240.0 708.7 1244.0 709.0 1248.0 708.9 1252.0 708.8 1256.0 708.7 1260.0 708.3 1264.0 708.7 1268.0 708.5 1272.0 708.7 1276.0 708.3 1280.0 708.6 1284.0 708.6 1288.0 708.5 1292.0 708.2 1296.0 707.8 1300.0 708.1 1304.0 707.9 1308.0 708.1 1312.0 707.6 1316.0 707.3 1320.0 707.1 1324.0 707.7 1328.0 707.4 1332.0 707.9 1336.0 707.6 1340.0 707.7 1344.0 707.4 1348.0 707.5 1352.0 707.1 1356.0 707.1 1360.0 707.6 1364.0 707.1 1368.0 707.3 1372.0 707.0 1376.0 706.8 1380.0 706.4 1384.0 706.2 1388.0 706.9 1392.0 707.2 1396.0 707.3 1400.0 707.3 1404.0 707.4 1408.0 706.7 1412.0 706.6 1416.0 706.5 1420.0 706.5 1424.0 706.8 1428.0 706.8 1432.0 706.9 1436.0 706.1 1440.0 706.2 1444.0 706.2 1448.0 706.3 1452.0 706.2 1456.0 706.3 1460.0 705.8 1464.0 706.1 1468.0 705.7 1472.0 705.7 1476.0 705.9 1480.0 705.8 1484.0 705.3 1488.0 705.0 1492.0 704.8 1496.0 705.0 1500.0 705.5 1504.0 705.6 1508.0 705.1 1512.0 704.8 1516.0 705.1 1520.0 704.6 1524.0 704.5 1528.0 704.0 1532.0 703.8 1536.0 704.1 1540.0 704.3 1544.0 704.4 1548.0 704.1 1552.0 704.5 1556.0 704.4 1560.0 703.8 1564.0 703.3 1568.0 704.0 1572.0 704.3 1576.0 704.4 1580.0 704.1 1584.0 703.6 1588.0 703.0 1592.0 702.9 1596.0 702.7 1600.0 703.3 1604.0 703.5 1608.0 703.5 1612.0 702.9 1616.0 702.6 1620.0 702.4 1624.0 702.9 1628.0 702.4 1632.0 702.7 1636.0 702.7 1640.0 702.6 1644.0 702.9 1648.0 702.3 1652.0 702.2 1656.0 701.8 1660.0 701.4 1664.0 701.1 1668.0 701.2 1672.0 701.0 1676.0 700.9 1680.0 701.6 1684.0 701.3 1688.0 701.7" stroke="#c01c36" stroke-width="5.4"/>
<path d="M252.0 787.6 256.0 789.1 260.0 789.9 264.0 790.7 268.0 790.7 272.0 791.1 276.0 791.8 280.0 792.1 284.0 792.6 288.0 792.3 292.0 792.6 296.0 792.6 300.0 792.9 304.0 793.2 308.0 792.9 312.0 793.0 316.0 793.1 320.0 793.8 324.0 794.0 328.0 793.8 332.0 794.2 336.0 794.0 340.0 794.3 344.0 794.1 348.0 794.0 352.0 794.7 356.0 794.7 360.0 794.7 364.0 795.4 368.0 795.8 372.0 795.6 376.0 796.1 380.0 796.1 384.0 796.3 388.0 796.1 392.0 796.6 396.0 796.8 400.0 797.2 404.0 797.4 408.0 797.1 412.0 797.1 416.0 797.0 420.0 796.9 424.0 796.9 428.0 797.2 432.0 797.6 436.0 797.4 440.0 797.8 444.0 797.9 448.0 797.9 452.0 798.3 456.0 798.4 460.0 798.3 464.0 798.4 468.0 798.7 472.0 798.3 476.0 798.9 480.0 798.5 484.0 798.9 488.0 799.2 492.0 798.8 496.0 799.2 500.0 799.1 504.0 799.2 508.0 798.9 512.0 798.8 516.0 798.8 520.0 799.5 524.0 799.3 528.0 799.7 532.0 800.0 536.0 800.3 540.0 799.9 544.0 799.8 548.0 799.9 552.0 800.1 556.0 799.8 560.0 800.1 564.0 800.4 568.0 800.6 572.0 800.1 576.0 800.5 580.0 800.1 584.0 800.1 588.0 800.4 592.0 800.7 596.0 800.5 600.0 800.9 604.0 800.8 608.0 800.6 612.0 800.5 616.0 800.4 620.0 800.2 624.0 800.2 628.0 800.7 632.0 801.2 636.0 800.8 640.0 800.5 644.0 801.2 648.0 801.1 652.0 801.1 656.0 800.9 660.0 801.1 664.0 801.4 668.0 801.3 672.0 801.2 676.0 800.9 680.0 801.5 684.0 801.1 688.0 801.2 692.0 801.6 696.0 801.3 700.0 801.6 704.0 801.9 708.0 801.9 712.0 802.0 716.0 801.5 720.0 801.6 724.0 801.4 728.0 801.8 732.0 801.7 736.0 801.7 740.0 802.2 744.0 802.3 748.0 802.5 752.0 802.3 756.0 802.1 760.0 802.3 764.0 802.2 768.0 802.0 772.0 802.0 776.0 801.8 780.0 801.9 784.0 802.4 788.0 802.7 792.0 802.6 796.0 802.5 800.0 802.3 804.0 802.0 808.0 802.0 812.0 802.5 816.0 802.8 820.0 802.6 824.0 802.8 828.0 802.9 832.0 802.9 836.0 802.9 840.0 803.0 844.0 802.8 848.0 802.9 852.0 802.7 856.0 802.7 860.0 803.0 864.0 803.1 868.0 802.8 872.0 803.2 876.0 803.2 880.0 803.1 884.0 802.7 888.0 802.8 892.0 802.7 896.0 803.0 900.0 803.0 904.0 803.3 908.0 803.3 912.0 803.4 916.0 803.2 920.0 803.3 924.0 803.4 928.0 803.6 932.0 803.3 936.0 803.5 940.0 803.7 944.0 803.6 948.0 803.8 952.0 803.9 956.0 803.6 960.0 803.5 964.0 803.1 968.0 803.5 972.0 803.7 976.0 803.5 980.0 803.6 984.0 803.6 988.0 803.7 992.0 803.2 996.0 803.5 1000.0 803.5 1004.0 803.5 1008.0 803.4 1012.0 803.4 1016.0 803.6 1020.0 803.6 1024.0 803.6 1028.0 803.1 1032.0 802.9 1036.0 803.0 1040.0 803.2 1044.0 803.0 1048.0 803.3 1052.0 803.4 1056.0 802.9 1060.0 803.0 1064.0 802.9 1068.0 802.7 1072.0 802.6 1076.0 802.7 1080.0 802.7 1084.0 802.6 1088.0 802.5 1092.0 802.7 1096.0 802.8 1100.0 803.0 1104.0 803.1 1108.0 802.9 1112.0 803.3 1116.0 802.7 1120.0 802.8 1124.0 802.7 1128.0 802.7 1132.0 802.5 1136.0 803.0 1140.0 802.8 1144.0 802.5 1148.0 802.7 1152.0 802.5 1156.0 802.6 1160.0 802.6 1164.0 802.7 1168.0 803.1 1172.0 803.2 1176.0 802.9 1180.0 803.0 1184.0 803.0 1188.0 802.7 1192.0 802.4 1196.0 802.5 1200.0 802.6 1204.0 802.9 1208.0 803.1 1212.0 802.9 1216.0 802.6 1220.0 802.8 1224.0 802.3 1228.0 802.0 1232.0 802.2 1236.0 802.4 1240.0 802.1 1244.0 802.3 1248.0 802.6 1252.0 802.3 1256.0 802.2 1260.0 802.0 1264.0 801.9 1268.0 802.4 1272.0 802.2 1276.0 802.5 1280.0 802.6 1284.0 802.5 1288.0 802.1 1292.0 802.4 1296.0 802.2 1300.0 802.0 1304.0 801.9 1308.0 802.3 1312.0 802.1 1316.0 801.8 1320.0 801.8 1324.0 801.5 1328.0 801.7 1332.0 801.7 1336.0 801.6 1340.0 801.9 1344.0 802.0 1348.0 801.5 1352.0 801.6 1356.0 801.4 1360.0 801.8 1364.0 801.9 1368.0 801.5 1372.0 801.3 1376.0 801.1 1380.0 801.6 1384.0 801.4 1388.0 801.5 1392.0 801.4 1396.0 801.5 1400.0 801.5 1404.0 801.6 1408.0 801.1 1412.0 801.3 1416.0 801.1 1420.0 801.1 1424.0 801.0 1428.0 800.9 1432.0 801.0 1436.0 800.9 1440.0 800.8 1444.0 801.1 1448.0 801.1 1452.0 800.6 1456.0 800.5 1460.0 800.6 1464.0 801.0 1468.0 801.2 1472.0 801.0 1476.0 800.5 1480.0 800.8 1484.0 800.6 1488.0 800.7 1492.0 800.8 1496.0 800.7 1500.0 800.6 1504.0 800.8 1508.0 800.6 1512.0 800.4 1516.0 800.6 1520.0 800.2 1524.0 800.1 1528.0 800.4 1532.0 800.0 1536.0 800.3 1540.0 800.4 1544.0 800.2 1548.0 800.0 1552.0 800.2 1556.0 800.4 1560.0 799.9 1564.0 799.9 1568.0 799.9 1572.0 799.9 1576.0 799.7 1580.0 799.5 1584.0 799.6 1588.0 799.9 1592.0 799.5 1596.0 799.3 1600.0 799.7 1604.0 799.9 1608.0 799.8 1612.0 799.3 1616.0 799.5 1620.0 799.8 1624.0 800.0 1628.0 799.9 1632.0 799.2 1636.0 799.5 1640.0 799.2 1644.0 799.3 1648.0 799.6 1652.0 799.5 1656.0 799.0 1660.0 798.9 1664.0 799.3 1668.0 798.8 1672.0 799.0 1676.0 798.9 1680.0 798.6 1684.0 798.8" stroke="#1ff0a8" stroke-width="17" stroke-opacity="0.8"/>
<path d="M252.0 787.6 256.0 789.1 260.0 789.9 264.0 790.7 268.0 790.7 272.0 791.1 276.0 791.8 280.0 792.1 284.0 792.6 288.0 792.3 292.0 792.6 296.0 792.6 300.0 792.9 304.0 793.2 308.0 792.9 312.0 793.0 316.0 793.1 320.0 793.8 324.0 794.0 328.0 793.8 332.0 794.2 336.0 794.0 340.0 794.3 344.0 794.1 348.0 794.0 352.0 794.7 356.0 794.7 360.0 794.7 364.0 795.4 368.0 795.8 372.0 795.6 376.0 796.1 380.0 796.1 384.0 796.3 388.0 796.1 392.0 796.6 396.0 796.8 400.0 797.2 404.0 797.4 408.0 797.1 412.0 797.1 416.0 797.0 420.0 796.9 424.0 796.9 428.0 797.2 432.0 797.6 436.0 797.4 440.0 797.8 444.0 797.9 448.0 797.9 452.0 798.3 456.0 798.4 460.0 798.3 464.0 798.4 468.0 798.7 472.0 798.3 476.0 798.9 480.0 798.5 484.0 798.9 488.0 799.2 492.0 798.8 496.0 799.2 500.0 799.1 504.0 799.2 508.0 798.9 512.0 798.8 516.0 798.8 520.0 799.5 524.0 799.3 528.0 799.7 532.0 800.0 536.0 800.3 540.0 799.9 544.0 799.8 548.0 799.9 552.0 800.1 556.0 799.8 560.0 800.1 564.0 800.4 568.0 800.6 572.0 800.1 576.0 800.5 580.0 800.1 584.0 800.1 588.0 800.4 592.0 800.7 596.0 800.5 600.0 800.9 604.0 800.8 608.0 800.6 612.0 800.5 616.0 800.4 620.0 800.2 624.0 800.2 628.0 800.7 632.0 801.2 636.0 800.8 640.0 800.5 644.0 801.2 648.0 801.1 652.0 801.1 656.0 800.9 660.0 801.1 664.0 801.4 668.0 801.3 672.0 801.2 676.0 800.9 680.0 801.5 684.0 801.1 688.0 801.2 692.0 801.6 696.0 801.3 700.0 801.6 704.0 801.9 708.0 801.9 712.0 802.0 716.0 801.5 720.0 801.6 724.0 801.4 728.0 801.8 732.0 801.7 736.0 801.7 740.0 802.2 744.0 802.3 748.0 802.5 752.0 802.3 756.0 802.1 760.0 802.3 764.0 802.2 768.0 802.0 772.0 802.0 776.0 801.8 780.0 801.9 784.0 802.4 788.0 802.7 792.0 802.6 796.0 802.5 800.0 802.3 804.0 802.0 808.0 802.0 812.0 802.5 816.0 802.8 820.0 802.6 824.0 802.8 828.0 802.9 832.0 802.9 836.0 802.9 840.0 803.0 844.0 802.8 848.0 802.9 852.0 802.7 856.0 802.7 860.0 803.0 864.0 803.1 868.0 802.8 872.0 803.2 876.0 803.2 880.0 803.1 884.0 802.7 888.0 802.8 892.0 802.7 896.0 803.0 900.0 803.0 904.0 803.3 908.0 803.3 912.0 803.4 916.0 803.2 920.0 803.3 924.0 803.4 928.0 803.6 932.0 803.3 936.0 803.5 940.0 803.7 944.0 803.6 948.0 803.8 952.0 803.9 956.0 803.6 960.0 803.5 964.0 803.1 968.0 803.5 972.0 803.7 976.0 803.5 980.0 803.6 984.0 803.6 988.0 803.7 992.0 803.2 996.0 803.5 1000.0 803.5 1004.0 803.5 1008.0 803.4 1012.0 803.4 1016.0 803.6 1020.0 803.6 1024.0 803.6 1028.0 803.1 1032.0 802.9 1036.0 803.0 1040.0 803.2 1044.0 803.0 1048.0 803.3 1052.0 803.4 1056.0 802.9 1060.0 803.0 1064.0 802.9 1068.0 802.7 1072.0 802.6 1076.0 802.7 1080.0 802.7 1084.0 802.6 1088.0 802.5 1092.0 802.7 1096.0 802.8 1100.0 803.0 1104.0 803.1 1108.0 802.9 1112.0 803.3 1116.0 802.7 1120.0 802.8 1124.0 802.7 1128.0 802.7 1132.0 802.5 1136.0 803.0 1140.0 802.8 1144.0 802.5 1148.0 802.7 1152.0 802.5 1156.0 802.6 1160.0 802.6 1164.0 802.7 1168.0 803.1 1172.0 803.2 1176.0 802.9 1180.0 803.0 1184.0 803.0 1188.0 802.7 1192.0 802.4 1196.0 802.5 1200.0 802.6 1204.0 802.9 1208.0 803.1 1212.0 802.9 1216.0 802.6 1220.0 802.8 1224.0 802.3 1228.0 802.0 1232.0 802.2 1236.0 802.4 1240.0 802.1 1244.0 802.3 1248.0 802.6 1252.0 802.3 1256.0 802.2 1260.0 802.0 1264.0 801.9 1268.0 802.4 1272.0 802.2 1276.0 802.5 1280.0 802.6 1284.0 802.5 1288.0 802.1 1292.0 802.4 1296.0 802.2 1300.0 802.0 1304.0 801.9 1308.0 802.3 1312.0 802.1 1316.0 801.8 1320.0 801.8 1324.0 801.5 1328.0 801.7 1332.0 801.7 1336.0 801.6 1340.0 801.9 1344.0 802.0 1348.0 801.5 1352.0 801.6 1356.0 801.4 1360.0 801.8 1364.0 801.9 1368.0 801.5 1372.0 801.3 1376.0 801.1 1380.0 801.6 1384.0 801.4 1388.0 801.5 1392.0 801.4 1396.0 801.5 1400.0 801.5 1404.0 801.6 1408.0 801.1 1412.0 801.3 1416.0 801.1 1420.0 801.1 1424.0 801.0 1428.0 800.9 1432.0 801.0 1436.0 800.9 1440.0 800.8 1444.0 801.1 1448.0 801.1 1452.0 800.6 1456.0 800.5 1460.0 800.6 1464.0 801.0 1468.0 801.2 1472.0 801.0 1476.0 800.5 1480.0 800.8 1484.0 800.6 1488.0 800.7 1492.0 800.8 1496.0 800.7 1500.0 800.6 1504.0 800.8 1508.0 800.6 1512.0 800.4 1516.0 800.6 1520.0 800.2 1524.0 800.1 1528.0 800.4 1532.0 800.0 1536.0 800.3 1540.0 800.4 1544.0 800.2 1548.0 800.0 1552.0 800.2 1556.0 800.4 1560.0 799.9 1564.0 799.9 1568.0 799.9 1572.0 799.9 1576.0 799.7 1580.0 799.5 1584.0 799.6 1588.0 799.9 1592.0 799.5 1596.0 799.3 1600.0 799.7 1604.0 799.9 1608.0 799.8 1612.0 799.3 1616.0 799.5 1620.0 799.8 1624.0 800.0 1628.0 799.9 1632.0 799.2 1636.0 799.5 1640.0 799.2 1644.0 799.3 1648.0 799.6 1652.0 799.5 1656.0 799.0 1660.0 798.9 1664.0 799.3 1668.0 798.8 1672.0 799.0 1676.0 798.9 1680.0 798.6 1684.0 798.8" stroke="#00bb48" stroke-width="9"/>
<path d="M248.0 878.5 252.0 879.6 256.0 880.4 260.0 880.7 264.0 882.1 268.0 882.9 272.0 883.9 276.0 884.0 280.0 884.8 284.0 884.7 288.0 885.5 292.0 886.0 296.0 885.9 300.0 886.1 304.0 886.6 308.0 886.2 312.0 886.6 316.0 887.2 320.0 886.9 324.0 887.5 328.0 887.7 332.0 888.1 336.0 887.7 340.0 887.2 344.0 888.0 348.0 888.5 352.0 888.3 356.0 887.8 360.0 887.7 364.0 888.3 368.0 888.2 372.0 889.1 376.0 889.2 380.0 888.7 384.0 889.1 388.0 889.0 392.0 889.8 396.0 890.2 400.0 889.9 404.0 890.0 408.0 890.2 412.0 890.5 416.0 890.9 420.0 889.8 424.0 889.8 428.0 890.1 432.0 889.9 436.0 890.2 440.0 889.7 444.0 890.6 448.0 890.6 452.0 890.1 456.0 890.6 460.0 890.4 464.0 890.2 468.0 890.5 472.0 890.2 476.0 890.2 480.0 891.1 484.0 891.4 488.0 890.6 492.0 891.3 496.0 890.6 500.0 890.8 504.0 891.6 508.0 891.7 512.0 891.4 516.0 891.3 520.0 891.3 524.0 891.0 528.0 892.1 532.0 891.4 536.0 891.5 540.0 892.1 544.0 891.9 548.0 892.7 552.0 892.1 556.0 892.8 560.0 893.1 564.0 893.0 568.0 893.2 572.0 892.8 576.0 893.1 580.0 893.2 584.0 892.9 588.0 892.7 592.0 893.0 596.0 892.7 600.0 892.1 604.0 892.8 608.0 892.5 612.0 892.6 616.0 893.1 620.0 892.6 624.0 892.1 628.0 892.0 632.0 892.6 636.0 892.6 640.0 892.5 644.0 892.7 648.0 893.5 652.0 893.0 656.0 893.0 660.0 893.7 664.0 893.7 668.0 893.2 672.0 893.2 676.0 893.3 680.0 892.8 684.0 892.9 688.0 892.9 692.0 893.6 696.0 893.3 700.0 893.6 704.0 894.2 708.0 894.5 712.0 893.9 716.0 893.9 720.0 893.5 724.0 893.5 728.0 893.5 732.0 894.0 736.0 894.5 740.0 893.9 744.0 893.1 748.0 893.3 752.0 892.9 756.0 892.7 760.0 893.6 764.0 893.2 768.0 893.8 772.0 893.6 776.0 894.4 780.0 894.7 784.0 893.7 788.0 893.4 792.0 894.3 796.0 894.3 800.0 894.1 804.0 894.4 808.0 894.7 812.0 894.4 816.0 894.2 820.0 893.6 824.0 893.6 828.0 893.4 832.0 893.9 836.0 894.2 840.0 893.7 844.0 894.1 848.0 893.6 852.0 893.3 856.0 893.9 860.0 894.0 864.0 894.7 868.0 894.7 872.0 894.8 876.0 894.1 880.0 894.6 884.0 893.9 888.0 894.3 892.0 894.9 896.0 895.2 900.0 895.4 904.0 894.9 908.0 894.9 912.0 895.1 916.0 894.3 920.0 895.0 924.0 895.3 928.0 894.8 932.0 895.0 936.0 894.7 940.0 894.3 944.0 894.7 948.0 894.0 952.0 894.6 956.0 895.2 960.0 894.6 964.0 895.2 968.0 894.3 972.0 894.9 976.0 894.4 980.0 895.1 984.0 894.7 988.0 895.2 992.0 894.2 996.0 893.8 1000.0 894.5 1004.0 894.7 1008.0 894.7 1012.0 893.9 1016.0 893.7 1020.0 893.9 1024.0 893.5 1028.0 894.6 1032.0 894.9 1036.0 895.4 1040.0 895.2 1044.0 894.7 1048.0 894.0 1052.0 894.5 1056.0 893.9 1060.0 894.2 1064.0 894.3 1068.0 894.3 1072.0 893.8 1076.0 893.5 1080.0 893.9 1084.0 893.5 1088.0 893.9 1092.0 893.6 1096.0 893.6 1100.0 893.5 1104.0 893.9 1108.0 893.9 1112.0 893.7 1116.0 893.6 1120.0 894.0 1124.0 894.7 1128.0 894.3 1132.0 893.8 1136.0 893.7 1140.0 893.6 1144.0 893.9 1148.0 894.4 1152.0 894.4 1156.0 893.8 1160.0 893.7 1164.0 893.7 1168.0 893.8 1172.0 893.8 1176.0 894.6 1180.0 894.4 1184.0 894.4 1188.0 894.5 1192.0 894.5 1196.0 894.7 1200.0 894.1 1204.0 894.3 1208.0 894.7 1212.0 893.9 1216.0 894.0 1220.0 893.8 1224.0 893.2 1228.0 892.8 1232.0 893.6 1236.0 893.1 1240.0 893.7 1244.0 893.2 1248.0 893.2 1252.0 892.8 1256.0 893.2 1260.0 893.8 1264.0 893.4 1268.0 893.6 1272.0 894.2 1276.0 893.6 1280.0 893.6 1284.0 893.9 1288.0 894.2 1292.0 893.4 1296.0 893.7 1300.0 893.1 1304.0 892.7 1308.0 893.7 1312.0 893.0 1316.0 893.7 1320.0 893.9 1324.0 893.9 1328.0 894.0 1332.0 893.9 1336.0 893.4 1340.0 893.3 1344.0 892.9 1348.0 893.5 1352.0 893.8 1356.0 893.9 1360.0 893.2 1364.0 893.3 1368.0 892.9 1372.0 893.4 1376.0 893.6 1380.0 894.1 1384.0 893.9 1388.0 893.8 1392.0 893.9 1396.0 892.9 1400.0 893.1 1404.0 892.4 1408.0 892.5 1412.0 892.2 1416.0 893.1 1420.0 892.4 1424.0 893.2 1428.0 893.7 1432.0 893.2 1436.0 893.5 1440.0 892.6 1444.0 892.2 1448.0 891.8 1452.0 891.6 1456.0 891.4 1460.0 892.5 1464.0 892.0 1468.0 892.4 1472.0 892.2 1476.0 891.9 1480.0 892.1 1484.0 891.9 1488.0 892.8 1492.0 892.5 1496.0 892.6 1500.0 892.7 1504.0 892.7 1508.0 892.6 1512.0 892.2 1516.0 891.8 1520.0 892.5 1524.0 892.0 1528.0 892.1 1532.0 892.6 1536.0 892.5 1540.0 893.0 1544.0 893.0 1548.0 892.6 1552.0 891.9 1556.0 892.1 1560.0 892.0 1564.0 892.5 1568.0 892.3 1572.0 892.4 1576.0 892.6 1580.0 892.2 1584.0 892.5 1588.0 892.7 1592.0 891.8 1596.0 892.3 1600.0 892.5 1604.0 892.6 1608.0 891.9 1612.0 891.4 1616.0 891.0 1620.0 891.0 1624.0 891.7 1628.0 891.4 1632.0 890.7 1636.0 890.7 1640.0 890.4 1644.0 891.0 1648.0 891.5 1652.0 891.9 1656.0 891.0 1660.0 890.9 1664.0 890.5 1668.0 891.3 1672.0 891.6 1676.0 891.4 1680.0 891.8 1684.0 891.4 1688.0 891.6" stroke="#a59ff0" stroke-width="12.4" stroke-opacity="0.65"/>
<path d="M248.0 878.5 252.0 879.6 256.0 880.4 260.0 880.7 264.0 882.1 268.0 882.9 272.0 883.9 276.0 884.0 280.0 884.8 284.0 884.7 288.0 885.5 292.0 886.0 296.0 885.9 300.0 886.1 304.0 886.6 308.0 886.2 312.0 886.6 316.0 887.2 320.0 886.9 324.0 887.5 328.0 887.7 332.0 888.1 336.0 887.7 340.0 887.2 344.0 888.0 348.0 888.5 352.0 888.3 356.0 887.8 360.0 887.7 364.0 888.3 368.0 888.2 372.0 889.1 376.0 889.2 380.0 888.7 384.0 889.1 388.0 889.0 392.0 889.8 396.0 890.2 400.0 889.9 404.0 890.0 408.0 890.2 412.0 890.5 416.0 890.9 420.0 889.8 424.0 889.8 428.0 890.1 432.0 889.9 436.0 890.2 440.0 889.7 444.0 890.6 448.0 890.6 452.0 890.1 456.0 890.6 460.0 890.4 464.0 890.2 468.0 890.5 472.0 890.2 476.0 890.2 480.0 891.1 484.0 891.4 488.0 890.6 492.0 891.3 496.0 890.6 500.0 890.8 504.0 891.6 508.0 891.7 512.0 891.4 516.0 891.3 520.0 891.3 524.0 891.0 528.0 892.1 532.0 891.4 536.0 891.5 540.0 892.1 544.0 891.9 548.0 892.7 552.0 892.1 556.0 892.8 560.0 893.1 564.0 893.0 568.0 893.2 572.0 892.8 576.0 893.1 580.0 893.2 584.0 892.9 588.0 892.7 592.0 893.0 596.0 892.7 600.0 892.1 604.0 892.8 608.0 892.5 612.0 892.6 616.0 893.1 620.0 892.6 624.0 892.1 628.0 892.0 632.0 892.6 636.0 892.6 640.0 892.5 644.0 892.7 648.0 893.5 652.0 893.0 656.0 893.0 660.0 893.7 664.0 893.7 668.0 893.2 672.0 893.2 676.0 893.3 680.0 892.8 684.0 892.9 688.0 892.9 692.0 893.6 696.0 893.3 700.0 893.6 704.0 894.2 708.0 894.5 712.0 893.9 716.0 893.9 720.0 893.5 724.0 893.5 728.0 893.5 732.0 894.0 736.0 894.5 740.0 893.9 744.0 893.1 748.0 893.3 752.0 892.9 756.0 892.7 760.0 893.6 764.0 893.2 768.0 893.8 772.0 893.6 776.0 894.4 780.0 894.7 784.0 893.7 788.0 893.4 792.0 894.3 796.0 894.3 800.0 894.1 804.0 894.4 808.0 894.7 812.0 894.4 816.0 894.2 820.0 893.6 824.0 893.6 828.0 893.4 832.0 893.9 836.0 894.2 840.0 893.7 844.0 894.1 848.0 893.6 852.0 893.3 856.0 893.9 860.0 894.0 864.0 894.7 868.0 894.7 872.0 894.8 876.0 894.1 880.0 894.6 884.0 893.9 888.0 894.3 892.0 894.9 896.0 895.2 900.0 895.4 904.0 894.9 908.0 894.9 912.0 895.1 916.0 894.3 920.0 895.0 924.0 895.3 928.0 894.8 932.0 895.0 936.0 894.7 940.0 894.3 944.0 894.7 948.0 894.0 952.0 894.6 956.0 895.2 960.0 894.6 964.0 895.2 968.0 894.3 972.0 894.9 976.0 894.4 980.0 895.1 984.0 894.7 988.0 895.2 992.0 894.2 996.0 893.8 1000.0 894.5 1004.0 894.7 1008.0 894.7 1012.0 893.9 1016.0 893.7 1020.0 893.9 1024.0 893.5 1028.0 894.6 1032.0 894.9 1036.0 895.4 1040.0 895.2 1044.0 894.7 1048.0 894.0 1052.0 894.5 1056.0 893.9 1060.0 894.2 1064.0 894.3 1068.0 894.3 1072.0 893.8 1076.0 893.5 1080.0 893.9 1084.0 893.5 1088.0 893.9 1092.0 893.6 1096.0 893.6 1100.0 893.5 1104.0 893.9 1108.0 893.9 1112.0 893.7 1116.0 893.6 1120.0 894.0 1124.0 894.7 1128.0 894.3 1132.0 893.8 1136.0 893.7 1140.0 893.6 1144.0 893.9 1148.0 894.4 1152.0 894.4 1156.0 893.8 1160.0 893.7 1164.0 893.7 1168.0 893.8 1172.0 893.8 1176.0 894.6 1180.0 894.4 1184.0 894.4 1188.0 894.5 1192.0 894.5 1196.0 894.7 1200.0 894.1 1204.0 894.3 1208.0 894.7 1212.0 893.9 1216.0 894.0 1220.0 893.8 1224.0 893.2 1228.0 892.8 1232.0 893.6 1236.0 893.1 1240.0 893.7 1244.0 893.2 1248.0 893.2 1252.0 892.8 1256.0 893.2 1260.0 893.8 1264.0 893.4 1268.0 893.6 1272.0 894.2 1276.0 893.6 1280.0 893.6 1284.0 893.9 1288.0 894.2 1292.0 893.4 1296.0 893.7 1300.0 893.1 1304.0 892.7 1308.0 893.7 1312.0 893.0 1316.0 893.7 1320.0 893.9 1324.0 893.9 1328.0 894.0 1332.0 893.9 1336.0 893.4 1340.0 893.3 1344.0 892.9 1348.0 893.5 1352.0 893.8 1356.0 893.9 1360.0 893.2 1364.0 893.3 1368.0 892.9 1372.0 893.4 1376.0 893.6 1380.0 894.1 1384.0 893.9 1388.0 893.8 1392.0 893.9 1396.0 892.9 1400.0 893.1 1404.0 892.4 1408.0 892.5 1412.0 892.2 1416.0 893.1 1420.0 892.4 1424.0 893.2 1428.0 893.7 1432.0 893.2 1436.0 893.5 1440.0 892.6 1444.0 892.2 1448.0 891.8 1452.0 891.6 1456.0 891.4 1460.0 892.5 1464.0 892.0 1468.0 892.4 1472.0 892.2 1476.0 891.9 1480.0 892.1 1484.0 891.9 1488.0 892.8 1492.0 892.5 1496.0 892.6 1500.0 892.7 1504.0 892.7 1508.0 892.6 1512.0 892.2 1516.0 891.8 1520.0 892.5 1524.0 892.0 1528.0 892.1 1532.0 892.6 1536.0 892.5 1540.0 893.0 1544.0 893.0 1548.0 892.6 1552.0 891.9 1556.0 892.1 1560.0 892.0 1564.0 892.5 1568.0 892.3 1572.0 892.4 1576.0 892.6 1580.0 892.2 1584.0 892.5 1588.0 892.7 1592.0 891.8 1596.0 892.3 1600.0 892.5 1604.0 892.6 1608.0 891.9 1612.0 891.4 1616.0 891.0 1620.0 891.0 1624.0 891.7 1628.0 891.4 1632.0 890.7 1636.0 890.7 1640.0 890.4 1644.0 891.0 1648.0 891.5 1652.0 891.9 1656.0 891.0 1660.0 890.9 1664.0 890.5 1668.0 891.3 1672.0 891.6 1676.0 891.4 1680.0 891.8 1684.0 891.4 1688.0 891.6" stroke="#241c7c" stroke-width="5.4"/>
<path d="M248.0 961.5 252.0 963.2 256.0 964.0 260.0 965.3 264.0 966.2 268.0 966.6 272.0 967.5 276.0 967.6 280.0 968.2 284.0 968.3 288.0 968.5 292.0 969.0 296.0 969.8 300.0 969.7 304.0 969.8 308.0 970.4 312.0 971.1 316.0 971.2 320.0 971.2 324.0 971.8 328.0 971.3 332.0 971.9 336.0 971.7 340.0 971.4 344.0 971.3 348.0 971.5 352.0 972.1 356.0 971.9 360.0 972.2 364.0 972.4 368.0 972.3 372.0 972.5 376.0 972.1 380.0 971.9 384.0 972.0 388.0 972.5 392.0 972.6 396.0 972.5 400.0 972.8 404.0 972.8 408.0 972.7 412.0 973.2 416.0 973.4 420.0 973.0 424.0 973.2 428.0 973.3 432.0 973.7 436.0 973.8 440.0 973.5 444.0 974.0 448.0 973.5 452.0 973.5 456.0 973.9 460.0 973.5 464.0 973.7 468.0 973.4 472.0 973.9 476.0 974.3 480.0 974.4 484.0 974.8 488.0 974.5 492.0 974.7 496.0 974.8 500.0 974.9 504.0 974.8 508.0 975.2 512.0 975.6 516.0 975.4 520.0 975.5 524.0 975.0 528.0 975.4 532.0 975.6 536.0 976.1 540.0 976.3 544.0 975.8 548.0 975.8 552.0 976.1 556.0 975.6 560.0 975.8 564.0 975.7 568.0 975.7 572.0 975.6 576.0 976.3 580.0 976.1 584.0 976.2 588.0 976.4 592.0 977.0 596.0 976.6 600.0 976.8 604.0 977.1 608.0 977.6 612.0 977.9 616.0 978.1 620.0 977.7 624.0 977.6 628.0 977.6 632.0 978.1 636.0 978.5 640.0 978.0 644.0 977.7 648.0 977.7 652.0 977.7 656.0 978.0 660.0 978.3 664.0 978.2 668.0 977.9 672.0 978.1 676.0 978.3 680.0 978.6 684.0 979.1 688.0 979.2 692.0 979.1 696.0 979.2 700.0 979.3 704.0 978.8 708.0 979.4 712.0 979.6 716.0 979.8 720.0 979.9 724.0 979.6 728.0 979.4 732.0 979.0 736.0 979.4 740.0 979.1 744.0 978.9 748.0 979.0 752.0 979.0 756.0 979.2 760.0 979.1 764.0 978.9 768.0 979.1 772.0 979.1 776.0 979.4 780.0 979.3 784.0 980.0 788.0 980.2 792.0 979.9 796.0 979.8 800.0 979.9 804.0 980.0 808.0 979.8 812.0 980.5 816.0 981.0 820.0 980.8 824.0 980.7 828.0 980.3 832.0 980.1 836.0 980.3 840.0 980.3 844.0 980.9 848.0 980.6 852.0 980.3 856.0 981.1 860.0 981.1 864.0 980.7 868.0 981.0 872.0 980.6 876.0 980.9 880.0 981.5 884.0 981.8 888.0 981.8 892.0 981.3 896.0 981.2 900.0 981.0 904.0 981.5 908.0 981.5 912.0 981.8 916.0 981.5 920.0 981.2 924.0 981.7 928.0 982.1 932.0 982.3 936.0 982.3 940.0 982.3 944.0 982.3 948.0 981.7 952.0 981.7 956.0 981.6 960.0 981.2 964.0 981.0 968.0 981.1 972.0 981.2 976.0 981.6 980.0 982.2 984.0 981.9 988.0 982.3 992.0 982.6 996.0 982.7 1000.0 982.1 1004.0 981.7 1008.0 981.5 1012.0 981.3 1016.0 981.2 1020.0 981.6 1024.0 982.1 1028.0 982.3 1032.0 982.0 1036.0 982.1 1040.0 982.2 1044.0 981.6 1048.0 981.8 1052.0 982.2 1056.0 982.2 1060.0 982.2 1064.0 982.0 1068.0 981.5 1072.0 981.8 1076.0 981.6 1080.0 981.9 1084.0 982.2 1088.0 981.8 1092.0 981.6 1096.0 982.0 1100.0 982.0 1104.0 981.4 1108.0 981.1 1112.0 980.9 1116.0 981.5 1120.0 981.8 1124.0 981.2 1128.0 981.6 1132.0 981.9 1136.0 981.8 1140.0 981.4 1144.0 981.4 1148.0 980.9 1152.0 980.6 1156.0 981.3 1160.0 981.3 1164.0 981.3 1168.0 981.6 1172.0 981.3 1176.0 981.5 1180.0 981.6 1184.0 981.0 1188.0 980.7 1192.0 980.6 1196.0 980.4 1200.0 980.7 1204.0 980.5 1208.0 980.5 1212.0 980.2 1216.0 980.8 1220.0 980.6 1224.0 980.6 1228.0 980.6 1232.0 981.0 1236.0 980.7 1240.0 981.0 1244.0 980.7 1248.0 980.6 1252.0 980.5 1256.0 980.0 1260.0 980.1 1264.0 979.8 1268.0 979.5 1272.0 980.1 1276.0 979.8 1280.0 979.9 1284.0 980.2 1288.0 980.2 1292.0 980.0 1296.0 980.0 1300.0 980.0 1304.0 980.3 1308.0 979.7 1312.0 979.8 1316.0 979.6 1320.0 979.4 1324.0 979.8 1328.0 979.8 1332.0 979.8 1336.0 980.0 1340.0 980.2 1344.0 979.8 1348.0 979.8 1352.0 979.6 1356.0 979.5 1360.0 979.6 1364.0 979.4 1368.0 979.4 1372.0 979.3 1376.0 979.6 1380.0 979.6 1384.0 979.7 1388.0 979.8 1392.0 979.2 1396.0 979.1 1400.0 979.4 1404.0 979.5 1408.0 978.8 1412.0 978.3 1416.0 978.4 1420.0 978.0 1424.0 978.0 1428.0 977.8 1432.0 978.2 1436.0 978.5 1440.0 978.8 1444.0 978.2 1448.0 978.4 1452.0 978.4 1456.0 977.9 1460.0 978.3 1464.0 978.6 1468.0 978.0 1472.0 978.4 1476.0 978.0 1480.0 977.9 1484.0 978.2 1488.0 978.3 1492.0 977.6 1496.0 977.5 1500.0 977.5 1504.0 977.3 1508.0 977.0 1512.0 976.9 1516.0 977.3 1520.0 976.8 1524.0 977.0 1528.0 976.9 1532.0 976.5 1536.0 976.5 1540.0 976.8 1544.0 976.8 1548.0 976.4 1552.0 977.0 1556.0 977.1 1560.0 977.3 1564.0 976.6 1568.0 976.3 1572.0 975.9 1576.0 976.4 1580.0 976.1 1584.0 975.8 1588.0 975.9 1592.0 976.4 1596.0 976.5 1600.0 976.1 1604.0 975.6 1608.0 976.2 1612.0 976.1 1616.0 976.1 1620.0 975.5 1624.0 975.1 1628.0 975.5 1632.0 975.4 1636.0 975.0 1640.0 975.6 1644.0 975.6 1648.0 975.8 1652.0 975.1 1656.0 975.5 1660.0 974.9 1664.0 975.3 1668.0 975.1 1672.0 974.8 1676.0 974.9 1680.0 975.3 1684.0 974.8 1688.0 974.4" stroke="#ff98f2" stroke-width="13.4" stroke-opacity="0.75"/>
<path d="M248.0 961.5 252.0 963.2 256.0 964.0 260.0 965.3 264.0 966.2 268.0 966.6 272.0 967.5 276.0 967.6 280.0 968.2 284.0 968.3 288.0 968.5 292.0 969.0 296.0 969.8 300.0 969.7 304.0 969.8 308.0 970.4 312.0 971.1 316.0 971.2 320.0 971.2 324.0 971.8 328.0 971.3 332.0 971.9 336.0 971.7 340.0 971.4 344.0 971.3 348.0 971.5 352.0 972.1 356.0 971.9 360.0 972.2 364.0 972.4 368.0 972.3 372.0 972.5 376.0 972.1 380.0 971.9 384.0 972.0 388.0 972.5 392.0 972.6 396.0 972.5 400.0 972.8 404.0 972.8 408.0 972.7 412.0 973.2 416.0 973.4 420.0 973.0 424.0 973.2 428.0 973.3 432.0 973.7 436.0 973.8 440.0 973.5 444.0 974.0 448.0 973.5 452.0 973.5 456.0 973.9 460.0 973.5 464.0 973.7 468.0 973.4 472.0 973.9 476.0 974.3 480.0 974.4 484.0 974.8 488.0 974.5 492.0 974.7 496.0 974.8 500.0 974.9 504.0 974.8 508.0 975.2 512.0 975.6 516.0 975.4 520.0 975.5 524.0 975.0 528.0 975.4 532.0 975.6 536.0 976.1 540.0 976.3 544.0 975.8 548.0 975.8 552.0 976.1 556.0 975.6 560.0 975.8 564.0 975.7 568.0 975.7 572.0 975.6 576.0 976.3 580.0 976.1 584.0 976.2 588.0 976.4 592.0 977.0 596.0 976.6 600.0 976.8 604.0 977.1 608.0 977.6 612.0 977.9 616.0 978.1 620.0 977.7 624.0 977.6 628.0 977.6 632.0 978.1 636.0 978.5 640.0 978.0 644.0 977.7 648.0 977.7 652.0 977.7 656.0 978.0 660.0 978.3 664.0 978.2 668.0 977.9 672.0 978.1 676.0 978.3 680.0 978.6 684.0 979.1 688.0 979.2 692.0 979.1 696.0 979.2 700.0 979.3 704.0 978.8 708.0 979.4 712.0 979.6 716.0 979.8 720.0 979.9 724.0 979.6 728.0 979.4 732.0 979.0 736.0 979.4 740.0 979.1 744.0 978.9 748.0 979.0 752.0 979.0 756.0 979.2 760.0 979.1 764.0 978.9 768.0 979.1 772.0 979.1 776.0 979.4 780.0 979.3 784.0 980.0 788.0 980.2 792.0 979.9 796.0 979.8 800.0 979.9 804.0 980.0 808.0 979.8 812.0 980.5 816.0 981.0 820.0 980.8 824.0 980.7 828.0 980.3 832.0 980.1 836.0 980.3 840.0 980.3 844.0 980.9 848.0 980.6 852.0 980.3 856.0 981.1 860.0 981.1 864.0 980.7 868.0 981.0 872.0 980.6 876.0 980.9 880.0 981.5 884.0 981.8 888.0 981.8 892.0 981.3 896.0 981.2 900.0 981.0 904.0 981.5 908.0 981.5 912.0 981.8 916.0 981.5 920.0 981.2 924.0 981.7 928.0 982.1 932.0 982.3 936.0 982.3 940.0 982.3 944.0 982.3 948.0 981.7 952.0 981.7 956.0 981.6 960.0 981.2 964.0 981.0 968.0 981.1 972.0 981.2 976.0 981.6 980.0 982.2 984.0 981.9 988.0 982.3 992.0 982.6 996.0 982.7 1000.0 982.1 1004.0 981.7 1008.0 981.5 1012.0 981.3 1016.0 981.2 1020.0 981.6 1024.0 982.1 1028.0 982.3 1032.0 982.0 1036.0 982.1 1040.0 982.2 1044.0 981.6 1048.0 981.8 1052.0 982.2 1056.0 982.2 1060.0 982.2 1064.0 982.0 1068.0 981.5 1072.0 981.8 1076.0 981.6 1080.0 981.9 1084.0 982.2 1088.0 981.8 1092.0 981.6 1096.0 982.0 1100.0 982.0 1104.0 981.4 1108.0 981.1 1112.0 980.9 1116.0 981.5 1120.0 981.8 1124.0 981.2 1128.0 981.6 1132.0 981.9 1136.0 981.8 1140.0 981.4 1144.0 981.4 1148.0 980.9 1152.0 980.6 1156.0 981.3 1160.0 981.3 1164.0 981.3 1168.0 981.6 1172.0 981.3 1176.0 981.5 1180.0 981.6 1184.0 981.0 1188.0 980.7 1192.0 980.6 1196.0 980.4 1200.0 980.7 1204.0 980.5 1208.0 980.5 1212.0 980.2 1216.0 980.8 1220.0 980.6 1224.0 980.6 1228.0 980.6 1232.0 981.0 1236.0 980.7 1240.0 981.0 1244.0 980.7 1248.0 980.6 1252.0 980.5 1256.0 980.0 1260.0 980.1 1264.0 979.8 1268.0 979.5 1272.0 980.1 1276.0 979.8 1280.0 979.9 1284.0 980.2 1288.0 980.2 1292.0 980.0 1296.0 980.0 1300.0 980.0 1304.0 980.3 1308.0 979.7 1312.0 979.8 1316.0 979.6 1320.0 979.4 1324.0 979.8 1328.0 979.8 1332.0 979.8 1336.0 980.0 1340.0 980.2 1344.0 979.8 1348.0 979.8 1352.0 979.6 1356.0 979.5 1360.0 979.6 1364.0 979.4 1368.0 979.4 1372.0 979.3 1376.0 979.6 1380.0 979.6 1384.0 979.7 1388.0 979.8 1392.0 979.2 1396.0 979.1 1400.0 979.4 1404.0 979.5 1408.0 978.8 1412.0 978.3 1416.0 978.4 1420.0 978.0 1424.0 978.0 1428.0 977.8 1432.0 978.2 1436.0 978.5 1440.0 978.8 1444.0 978.2 1448.0 978.4 1452.0 978.4 1456.0 977.9 1460.0 978.3 1464.0 978.6 1468.0 978.0 1472.0 978.4 1476.0 978.0 1480.0 977.9 1484.0 978.2 1488.0 978.3 1492.0 977.6 1496.0 977.5 1500.0 977.5 1504.0 977.3 1508.0 977.0 1512.0 976.9 1516.0 977.3 1520.0 976.8 1524.0 977.0 1528.0 976.9 1532.0 976.5 1536.0 976.5 1540.0 976.8 1544.0 976.8 1548.0 976.4 1552.0 977.0 1556.0 977.1 1560.0 977.3 1564.0 976.6 1568.0 976.3 1572.0 975.9 1576.0 976.4 1580.0 976.1 1584.0 975.8 1588.0 975.9 1592.0 976.4 1596.0 976.5 1600.0 976.1 1604.0 975.6 1608.0 976.2 1612.0 976.1 1616.0 976.1 1620.0 975.5 1624.0 975.1 1628.0 975.5 1632.0 975.4 1636.0 975.0 1640.0 975.6 1644.0 975.6 1648.0 975.8 1652.0 975.1 1656.0 975.5 1660.0 974.9 1664.0 975.3 1668.0 975.1 1672.0 974.8 1676.0 974.9 1680.0 975.3 1684.0 974.8 1688.0 974.4" stroke="#d62cb0" stroke-width="5.4"/>
<path d="M237.0 1406.2 242.0 1407.8 247.0 1405.9 252.0 1405.3 257.0 1405.3 262.0 1403.2 267.0 1404.2 272.0 1405.1 277.0 1406.6 282.0 1404.4 287.0 1405.7 292.0 1405.9 297.0 1410.3 302.0 1411.5 307.0 1409.1 312.0 1413.5 317.0 1415.3 322.0 1414.7 327.0 1414.8 332.0 1412.9 337.0 1412.1 342.0 1414.7 347.0 1413.5 352.0 1414.2 357.0 1414.9 362.0 1414.5 367.0 1416.8 372.0 1417.7 377.0 1420.3 382.0 1419.9 387.0 1420.6 392.0 1420.5 397.0 1421.6 402.0 1421.2 407.0 1420.5 412.0 1424.0 417.0 1425.3 422.0 1425.2 427.0 1424.6 432.0 1422.7 437.0 1421.8 442.0 1421.9 447.0 1420.9 452.0 1424.0 457.0 1423.2 462.0 1425.1 467.0 1423.3 472.0 1425.6 477.0 1425.6 482.0 1421.4 487.0 1421.1 492.0 1424.3 497.0 1423.0 502.0 1425.1 507.0 1422.7 512.0 1420.3 517.0 1422.2 522.0 1423.3 527.0 1420.9 532.0 1419.1 537.0 1419.5 542.0 1422.5 547.0 1422.2 552.0 1418.7 557.0 1418.0 562.0 1416.9 567.0 1416.1 572.0 1419.3 577.0 1417.1 582.0 1418.1 587.0 1417.7 592.0 1416.2 597.0 1418.3 602.0 1415.8 607.0 1417.4 612.0 1415.2 617.0 1415.9 622.0 1414.9 627.0 1414.8 632.0 1418.1 637.0 1418.2 642.0 1415.6 647.0 1417.6 652.0 1414.8 657.0 1414.8 662.0 1417.1 667.0 1416.7 672.0 1413.9 677.0 1417.4 682.0 1414.7 687.0 1414.2 692.0 1416.6 697.0 1415.3 702.0 1414.8 707.0 1413.6 712.0 1413.4 717.0 1415.9 722.0 1415.0 727.0 1416.5 732.0 1415.9 737.0 1416.1 742.0 1418.4 747.0 1416.6 752.0 1416.1 757.0 1417.0 762.0 1413.5 767.0 1411.7 772.0 1414.4 777.0 1414.1 782.0 1410.6 787.0 1408.6 792.0 1409.6 797.0 1409.7 802.0 1404.5 807.0 1405.1 812.0 1403.1 817.0 1399.1 822.0 1394.5 827.0 1388.5 832.0 1382.9 837.0 1381.8 842.0 1373.6 847.0 1368.2 852.0 1356.7 857.0 1348.7 862.0 1339.9 867.0 1331.7 872.0 1325.1 877.0 1322.5 882.0 1319.1 887.0 1323.3 892.0 1328.7 897.0 1334.6 902.0 1339.1 907.0 1345.1 912.0 1357.5 917.0 1364.5 922.0 1373.2 927.0 1383.9 932.0 1392.1 937.0 1396.0 942.0 1400.7 947.0 1405.6 952.0 1410.1 957.0 1411.0 962.0 1413.8 967.0 1418.6 972.0 1421.7 977.0 1422.1 982.0 1423.5 987.0 1424.5 992.0 1423.8 997.0 1424.3 1002.0 1425.5 1007.0 1431.3 1012.0 1432.9 1017.0 1435.4 1022.0 1432.0 1027.0 1434.6 1032.0 1435.1 1037.0 1437.0 1042.0 1436.0 1047.0 1439.4 1052.0 1436.3 1057.0 1438.0 1062.0 1439.9 1067.0 1441.6 1072.0 1441.6 1077.0 1441.8 1082.0 1442.7 1087.0 1443.8 1092.0 1441.7 1097.0 1443.0 1102.0 1444.6 1107.0 1445.2 1112.0 1443.4 1117.0 1444.9 1122.0 1445.9 1127.0 1445.0 1132.0 1445.3 1137.0 1444.3 1142.0 1445.3 1147.0 1445.9 1152.0 1443.6 1157.0 1445.9 1162.0 1448.5 1167.0 1448.8 1172.0 1448.3 1177.0 1446.6 1182.0 1447.9 1187.0 1447.6 1192.0 1446.9 1197.0 1448.6 1202.0 1445.4 1207.0 1447.7 1212.0 1444.8 1217.0 1446.7 1222.0 1446.6 1227.0 1445.2 1232.0 1446.9 1237.0 1446.3 1242.0 1446.6 1247.0 1448.0 1252.0 1445.0 1257.0 1442.7 1262.0 1443.3 1267.0 1445.1 1272.0 1443.2 1277.0 1442.2 1282.0 1445.4 1287.0 1445.0 1292.0 1443.7 1297.0 1445.4 1302.0 1443.0 1307.0 1443.9 1312.0 1441.8 1317.0 1442.3 1322.0 1444.3 1327.0 1445.4 1332.0 1445.6 1337.0 1443.3 1342.0 1443.6 1347.0 1442.4 1352.0 1441.3 1357.0 1442.8 1362.0 1445.0 1367.0 1445.7 1372.0 1445.4 1377.0 1446.5 1382.0 1443.6 1387.0 1442.3 1392.0 1443.4 1397.0 1442.9 1402.0 1442.6 1407.0 1443.5 1412.0 1444.9 1417.0 1444.8 1422.0 1443.9 1427.0 1446.4 1432.0 1447.9 1437.0 1445.8 1442.0 1443.4 1447.0 1442.6 1452.0 1446.6 1457.0 1443.8 1462.0 1446.3 1467.0 1446.5 1472.0 1445.3 1477.0 1447.4 1482.0 1444.3 1487.0 1444.1 1492.0 1445.6 1497.0 1444.1 1502.0 1447.6 1507.0 1445.9 1512.0 1444.9 1517.0 1444.3 1522.0 1447.0 1527.0 1447.0 1532.0 1448.0 1537.0 1448.5 1542.0 1449.5 1547.0 1450.6 1552.0 1449.7 1557.0 1447.1 1562.0 1447.7 1567.0 1446.5 1572.0 1445.3 1577.0 1447.3 1582.0 1449.1 1587.0 1447.1 1592.0 1446.9 1597.0 1447.3 1602.0 1449.1 1607.0 1448.8 1612.0 1449.1 1617.0 1449.8 1622.0 1448.1 1627.0 1449.5 1632.0 1450.3 1637.0 1446.3 1642.0 1449.1 1647.0 1448.7 1652.0 1445.5 1657.0 1445.9 1662.0 1446.7 1667.0 1448.1 1672.0 1445.7 1677.0 1445.8 1682.0 1447.2" stroke="#a8a8a8" stroke-width="10.6" stroke-opacity="0.5"/>
<path d="M237.0 1406.2 242.0 1407.8 247.0 1405.9 252.0 1405.3 257.0 1405.3 262.0 1403.2 267.0 1404.2 272.0 1405.1 277.0 1406.6 282.0 1404.4 287.0 1405.7 292.0 1405.9 297.0 1410.3 302.0 1411.5 307.0 1409.1 312.0 1413.5 317.0 1415.3 322.0 1414.7 327.0 1414.8 332.0 1412.9 337.0 1412.1 342.0 1414.7 347.0 1413.5 352.0 1414.2 357.0 1414.9 362.0 1414.5 367.0 1416.8 372.0 1417.7 377.0 1420.3 382.0 1419.9 387.0 1420.6 392.0 1420.5 397.0 1421.6 402.0 1421.2 407.0 1420.5 412.0 1424.0 417.0 1425.3 422.0 1425.2 427.0 1424.6 432.0 1422.7 437.0 1421.8 442.0 1421.9 447.0 1420.9 452.0 1424.0 457.0 1423.2 462.0 1425.1 467.0 1423.3 472.0 1425.6 477.0 1425.6 482.0 1421.4 487.0 1421.1 492.0 1424.3 497.0 1423.0 502.0 1425.1 507.0 1422.7 512.0 1420.3 517.0 1422.2 522.0 1423.3 527.0 1420.9 532.0 1419.1 537.0 1419.5 542.0 1422.5 547.0 1422.2 552.0 1418.7 557.0 1418.0 562.0 1416.9 567.0 1416.1 572.0 1419.3 577.0 1417.1 582.0 1418.1 587.0 1417.7 592.0 1416.2 597.0 1418.3 602.0 1415.8 607.0 1417.4 612.0 1415.2 617.0 1415.9 622.0 1414.9 627.0 1414.8 632.0 1418.1 637.0 1418.2 642.0 1415.6 647.0 1417.6 652.0 1414.8 657.0 1414.8 662.0 1417.1 667.0 1416.7 672.0 1413.9 677.0 1417.4 682.0 1414.7 687.0 1414.2 692.0 1416.6 697.0 1415.3 702.0 1414.8 707.0 1413.6 712.0 1413.4 717.0 1415.9 722.0 1415.0 727.0 1416.5 732.0 1415.9 737.0 1416.1 742.0 1418.4 747.0 1416.6 752.0 1416.1 757.0 1417.0 762.0 1413.5 767.0 1411.7 772.0 1414.4 777.0 1414.1 782.0 1410.6 787.0 1408.6 792.0 1409.6 797.0 1409.7 802.0 1404.5 807.0 1405.1 812.0 1403.1 817.0 1399.1 822.0 1394.5 827.0 1388.5 832.0 1382.9 837.0 1381.8 842.0 1373.6 847.0 1368.2 852.0 1356.7 857.0 1348.7 862.0 1339.9 867.0 1331.7 872.0 1325.1 877.0 1322.5 882.0 1319.1 887.0 1323.3 892.0 1328.7 897.0 1334.6 902.0 1339.1 907.0 1345.1 912.0 1357.5 917.0 1364.5 922.0 1373.2 927.0 1383.9 932.0 1392.1 937.0 1396.0 942.0 1400.7 947.0 1405.6 952.0 1410.1 957.0 1411.0 962.0 1413.8 967.0 1418.6 972.0 1421.7 977.0 1422.1 982.0 1423.5 987.0 1424.5 992.0 1423.8 997.0 1424.3 1002.0 1425.5 1007.0 1431.3 1012.0 1432.9 1017.0 1435.4 1022.0 1432.0 1027.0 1434.6 1032.0 1435.1 1037.0 1437.0 1042.0 1436.0 1047.0 1439.4 1052.0 1436.3 1057.0 1438.0 1062.0 1439.9 1067.0 1441.6 1072.0 1441.6 1077.0 1441.8 1082.0 1442.7 1087.0 1443.8 1092.0 1441.7 1097.0 1443.0 1102.0 1444.6 1107.0 1445.2 1112.0 1443.4 1117.0 1444.9 1122.0 1445.9 1127.0 1445.0 1132.0 1445.3 1137.0 1444.3 1142.0 1445.3 1147.0 1445.9 1152.0 1443.6 1157.0 1445.9 1162.0 1448.5 1167.0 1448.8 1172.0 1448.3 1177.0 1446.6 1182.0 1447.9 1187.0 1447.6 1192.0 1446.9 1197.0 1448.6 1202.0 1445.4 1207.0 1447.7 1212.0 1444.8 1217.0 1446.7 1222.0 1446.6 1227.0 1445.2 1232.0 1446.9 1237.0 1446.3 1242.0 1446.6 1247.0 1448.0 1252.0 1445.0 1257.0 1442.7 1262.0 1443.3 1267.0 1445.1 1272.0 1443.2 1277.0 1442.2 1282.0 1445.4 1287.0 1445.0 1292.0 1443.7 1297.0 1445.4 1302.0 1443.0 1307.0 1443.9 1312.0 1441.8 1317.0 1442.3 1322.0 1444.3 1327.0 1445.4 1332.0 1445.6 1337.0 1443.3 1342.0 1443.6 1347.0 1442.4 1352.0 1441.3 1357.0 1442.8 1362.0 1445.0 1367.0 1445.7 1372.0 1445.4 1377.0 1446.5 1382.0 1443.6 1387.0 1442.3 1392.0 1443.4 1397.0 1442.9 1402.0 1442.6 1407.0 1443.5 1412.0 1444.9 1417.0 1444.8 1422.0 1443.9 1427.0 1446.4 1432.0 1447.9 1437.0 1445.8 1442.0 1443.4 1447.0 1442.6 1452.0 1446.6 1457.0 1443.8 1462.0 1446.3 1467.0 1446.5 1472.0 1445.3 1477.0 1447.4 1482.0 1444.3 1487.0 1444.1 1492.0 1445.6 1497.0 1444.1 1502.0 1447.6 1507.0 1445.9 1512.0 1444.9 1517.0 1444.3 1522.0 1447.0 1527.0 1447.0 1532.0 1448.0 1537.0 1448.5 1542.0 1449.5 1547.0 1450.6 1552.0 1449.7 1557.0 1447.1 1562.0 1447.7 1567.0 1446.5 1572.0 1445.3 1577.0 1447.3 1582.0 1449.1 1587.0 1447.1 1592.0 1446.9 1597.0 1447.3 1602.0 1449.1 1607.0 1448.8 1612.0 1449.1 1617.0 1449.8 1622.0 1448.1 1627.0 1449.5 1632.0 1450.3 1637.0 1446.3 1642.0 1449.1 1647.0 1448.7 1652.0 1445.5 1657.0 1445.9 1662.0 1446.7 1667.0 1448.1 1672.0 1445.7 1677.0 1445.8 1682.0 1447.2" stroke="#767676" stroke-width="6.6"/>
<path d="M230.6 1510.9 235.6 1493.0 240.6 1478.6 245.6 1466.5 250.6 1457.6 255.6 1452.1 260.6 1447.8 265.6 1446.6 270.6 1448.6 275.6 1453.8 280.6 1463.4 285.6 1475.7 290.6 1488.5 295.6 1504.5 300.6 1519.4 305.6 1531.9 310.6 1539.1 315.6 1550.2 320.6 1556.0 325.6 1562.4 330.6 1566.5 335.6 1571.1 340.6 1576.6 345.6 1578.9 350.6 1582.0 355.6 1586.8 360.6 1588.9 365.6 1590.1 370.6 1594.0 375.6 1596.5 380.6 1596.6 385.6 1598.9 390.6 1600.5 395.6 1603.2 400.6 1606.6 405.6 1608.4 410.6 1612.2 415.6 1613.6 420.6 1616.1 425.6 1620.0 430.6 1621.5 435.6 1623.2 440.6 1625.4 445.6 1626.8 450.6 1628.1 455.6 1628.5 460.6 1631.3 465.6 1633.7 470.6 1635.2 475.6 1635.7 480.6 1636.0 485.6 1636.9 490.6 1638.9 495.6 1640.2 500.6 1640.0 505.6 1640.9 510.6 1642.0 515.6 1643.1 520.6 1644.5 525.6 1644.3 530.6 1643.1 535.6 1644.8 540.6 1644.4 545.6 1644.6 550.6 1644.0 555.6 1644.3 560.6 1644.5 565.6 1645.6 570.6 1644.5 575.6 1645.5 580.6 1645.3 585.6 1646.9 590.6 1646.1 595.6 1646.9 600.6 1647.8 605.6 1649.2 610.6 1648.7 615.6 1649.9 620.6 1650.1 625.6 1650.7 630.6 1651.7 635.6 1653.4 640.6 1653.1 645.6 1654.4 650.6 1653.2 655.6 1654.9 660.6 1654.3 665.6 1654.0 670.6 1655.5 675.6 1656.7 680.6 1655.0 685.6 1655.3 690.6 1656.9 695.6 1656.5 700.6 1656.2 705.6 1655.7 710.6 1655.8 715.6 1657.3 720.6 1658.7 725.6 1659.2 730.6 1658.2 735.6 1656.8 740.6 1657.2 745.6 1658.6 750.6 1659.1 755.6 1658.9 760.6 1657.9 765.6 1658.3 770.6 1658.4 775.6 1658.9 780.6 1658.1 785.6 1659.6 790.6 1660.0 795.6 1658.3 800.6 1658.2 805.6 1659.6 810.6 1658.6 815.6 1659.9 820.6 1659.3 825.6 1659.6 830.6 1659.7 835.6 1658.5 840.6 1658.3 845.6 1658.2 850.6 1659.2 855.6 1659.5 860.6 1658.1 865.6 1659.6 870.6 1658.8 875.6 1658.1 880.6 1658.3 885.6 1659.7 890.6 1659.0 895.6 1658.9 900.6 1659.6 905.6 1659.9 910.6 1659.4 915.6 1658.4 920.6 1658.5 925.6 1659.3 930.6 1659.2 935.6 1658.7 940.6 1657.9 945.6 1657.7 950.6 1658.6 955.6 1658.4 960.6 1657.0 965.6 1658.2 970.6 1659.1 975.6 1659.1 980.6 1659.3 985.6 1659.4 990.6 1658.5 995.6 1658.9 1000.6 1658.0 1005.6 1657.0 1010.6 1657.3 1015.6 1657.4 1020.6 1658.9 1025.6 1658.8 1030.6 1658.4 1035.6 1658.5 1040.6 1657.4 1045.6 1658.0 1050.6 1658.7 1055.6 1658.2 1060.6 1657.7 1065.6 1658.0 1070.6 1657.9 1075.6 1658.8 1080.6 1657.8 1085.6 1657.4 1090.6 1657.8 1095.6 1659.0 1100.6 1659.5 1105.6 1659.5 1110.6 1660.2 1115.6 1659.0 1120.6 1657.9 1125.6 1658.8 1130.6 1658.9 1135.6 1658.4 1140.6 1659.5 1145.6 1659.0 1150.6 1658.7 1155.6 1658.9 1160.6 1660.5 1165.6 1658.7 1170.6 1659.1 1175.6 1659.0 1180.6 1658.9 1185.6 1659.4 1190.6 1659.1 1195.6 1660.7 1200.6 1660.2 1205.6 1660.6 1210.6 1659.4 1215.6 1659.8 1220.6 1660.3 1225.6 1661.1 1230.6 1659.9 1235.6 1660.1 1240.6 1661.1 1245.6 1661.4 1250.6 1660.1 1255.6 1660.4 1260.6 1661.1 1265.6 1660.5 1270.6 1661.0 1275.6 1661.2 1280.6 1662.0 1285.6 1661.2 1290.6 1661.4 1295.6 1660.6 1300.6 1661.3 1305.6 1660.6 1310.6 1660.8 1315.6 1660.6 1320.6 1660.4 1325.6 1659.9 1330.6 1660.0 1335.6 1660.9 1340.6 1660.4 1345.6 1659.8 1350.6 1661.5 1355.6 1660.8 1360.6 1662.2 1365.6 1661.8 1370.6 1661.1 1375.6 1662.1 1380.6 1662.5 1385.6 1661.2 1390.6 1660.3 1395.6 1661.4 1400.6 1662.2 1405.6 1661.8 1410.6 1662.1 1415.6 1661.3 1420.6 1661.5 1425.6 1660.6 1430.6 1660.6 1435.6 1660.4 1440.6 1660.3 1445.6 1660.2 1450.6 1661.1 1455.6 1659.7 1460.6 1659.3 1465.6 1659.2 1470.6 1660.9 1475.6 1660.2 1480.6 1658.7 1485.6 1660.2 1490.6 1660.7 1495.6 1660.6 1500.6 1659.5 1505.6 1660.1 1510.6 1659.2 1515.6 1658.7 1520.6 1660.4 1525.6 1661.0 1530.6 1659.8 1535.6 1661.2 1540.6 1659.8 1545.6 1660.2 1550.6 1659.8 1555.6 1660.3 1560.6 1660.7 1565.6 1662.3 1570.6 1662.0 1575.6 1661.8 1580.6 1661.9 1585.6 1662.3 1590.6 1663.9 1595.6 1663.9 1600.6 1662.6 1605.6 1663.7 1610.6 1663.6 1615.6 1663.4 1620.6 1663.5 1625.6 1663.8 1630.6 1664.3 1635.6 1663.7 1640.6 1663.8 1645.6 1663.4 1650.6 1663.6 1655.6 1663.1 1660.6 1662.9 1665.6 1663.1 1670.6 1663.6 1675.6 1662.7 1680.6 1664.0" stroke="#ffd08a" stroke-width="14" stroke-opacity="0.7"/>
<path d="M230.6 1510.9 235.6 1493.0 240.6 1478.6 245.6 1466.5 250.6 1457.6 255.6 1452.1 260.6 1447.8 265.6 1446.6 270.6 1448.6 275.6 1453.8 280.6 1463.4 285.6 1475.7 290.6 1488.5 295.6 1504.5 300.6 1519.4 305.6 1531.9 310.6 1539.1 315.6 1550.2 320.6 1556.0 325.6 1562.4 330.6 1566.5 335.6 1571.1 340.6 1576.6 345.6 1578.9 350.6 1582.0 355.6 1586.8 360.6 1588.9 365.6 1590.1 370.6 1594.0 375.6 1596.5 380.6 1596.6 385.6 1598.9 390.6 1600.5 395.6 1603.2 400.6 1606.6 405.6 1608.4 410.6 1612.2 415.6 1613.6 420.6 1616.1 425.6 1620.0 430.6 1621.5 435.6 1623.2 440.6 1625.4 445.6 1626.8 450.6 1628.1 455.6 1628.5 460.6 1631.3 465.6 1633.7 470.6 1635.2 475.6 1635.7 480.6 1636.0 485.6 1636.9 490.6 1638.9 495.6 1640.2 500.6 1640.0 505.6 1640.9 510.6 1642.0 515.6 1643.1 520.6 1644.5 525.6 1644.3 530.6 1643.1 535.6 1644.8 540.6 1644.4 545.6 1644.6 550.6 1644.0 555.6 1644.3 560.6 1644.5 565.6 1645.6 570.6 1644.5 575.6 1645.5 580.6 1645.3 585.6 1646.9 590.6 1646.1 595.6 1646.9 600.6 1647.8 605.6 1649.2 610.6 1648.7 615.6 1649.9 620.6 1650.1 625.6 1650.7 630.6 1651.7 635.6 1653.4 640.6 1653.1 645.6 1654.4 650.6 1653.2 655.6 1654.9 660.6 1654.3 665.6 1654.0 670.6 1655.5 675.6 1656.7 680.6 1655.0 685.6 1655.3 690.6 1656.9 695.6 1656.5 700.6 1656.2 705.6 1655.7 710.6 1655.8 715.6 1657.3 720.6 1658.7 725.6 1659.2 730.6 1658.2 735.6 1656.8 740.6 1657.2 745.6 1658.6 750.6 1659.1 755.6 1658.9 760.6 1657.9 765.6 1658.3 770.6 1658.4 775.6 1658.9 780.6 1658.1 785.6 1659.6 790.6 1660.0 795.6 1658.3 800.6 1658.2 805.6 1659.6 810.6 1658.6 815.6 1659.9 820.6 1659.3 825.6 1659.6 830.6 1659.7 835.6 1658.5 840.6 1658.3 845.6 1658.2 850.6 1659.2 855.6 1659.5 860.6 1658.1 865.6 1659.6 870.6 1658.8 875.6 1658.1 880.6 1658.3 885.6 1659.7 890.6 1659.0 895.6 1658.9 900.6 1659.6 905.6 1659.9 910.6 1659.4 915.6 1658.4 920.6 1658.5 925.6 1659.3 930.6 1659.2 935.6 1658.7 940.6 1657.9 945.6 1657.7 950.6 1658.6 955.6 1658.4 960.6 1657.0 965.6 1658.2 970.6 1659.1 975.6 1659.1 980.6 1659.3 985.6 1659.4 990.6 1658.5 995.6 1658.9 1000.6 1658.0 1005.6 1657.0 1010.6 1657.3 1015.6 1657.4 1020.6 1658.9 1025.6 1658.8 1030.6 1658.4 1035.6 1658.5 1040.6 1657.4 1045.6 1658.0 1050.6 1658.7 1055.6 1658.2 1060.6 1657.7 1065.6 1658.0 1070.6 1657.9 1075.6 1658.8 1080.6 1657.8 1085.6 1657.4 1090.6 1657.8 1095.6 1659.0 1100.6 1659.5 1105.6 1659.5 1110.6 1660.2 1115.6 1659.0 1120.6 1657.9 1125.6 1658.8 1130.6 1658.9 1135.6 1658.4 1140.6 1659.5 1145.6 1659.0 1150.6 1658.7 1155.6 1658.9 1160.6 1660.5 1165.6 1658.7 1170.6 1659.1 1175.6 1659.0 1180.6 1658.9 1185.6 1659.4 1190.6 1659.1 1195.6 1660.7 1200.6 1660.2 1205.6 1660.6 1210.6 1659.4 1215.6 1659.8 1220.6 1660.3 1225.6 1661.1 1230.6 1659.9 1235.6 1660.1 1240.6 1661.1 1245.6 1661.4 1250.6 1660.1 1255.6 1660.4 1260.6 1661.1 1265.6 1660.5 1270.6 1661.0 1275.6 1661.2 1280.6 1662.0 1285.6 1661.2 1290.6 1661.4 1295.6 1660.6 1300.6 1661.3 1305.6 1660.6 1310.6 1660.8 1315.6 1660.6 1320.6 1660.4 1325.6 1659.9 1330.6 1660.0 1335.6 1660.9 1340.6 1660.4 1345.6 1659.8 1350.6 1661.5 1355.6 1660.8 1360.6 1662.2 1365.6 1661.8 1370.6 1661.1 1375.6 1662.1 1380.6 1662.5 1385.6 1661.2 1390.6 1660.3 1395.6 1661.4 1400.6 1662.2 1405.6 1661.8 1410.6 1662.1 1415.6 1661.3 1420.6 1661.5 1425.6 1660.6 1430.6 1660.6 1435.6 1660.4 1440.6 1660.3 1445.6 1660.2 1450.6 1661.1 1455.6 1659.7 1460.6 1659.3 1465.6 1659.2 1470.6 1660.9 1475.6 1660.2 1480.6 1658.7 1485.6 1660.2 1490.6 1660.7 1495.6 1660.6 1500.6 1659.5 1505.6 1660.1 1510.6 1659.2 1515.6 1658.7 1520.6 1660.4 1525.6 1661.0 1530.6 1659.8 1535.6 1661.2 1540.6 1659.8 1545.6 1660.2 1550.6 1659.8 1555.6 1660.3 1560.6 1660.7 1565.6 1662.3 1570.6 1662.0 1575.6 1661.8 1580.6 1661.9 1585.6 1662.3 1590.6 1663.9 1595.6 1663.9 1600.6 1662.6 1605.6 1663.7 1610.6 1663.6 1615.6 1663.4 1620.6 1663.5 1625.6 1663.8 1630.6 1664.3 1635.6 1663.7 1640.6 1663.8 1645.6 1663.4 1650.6 1663.6 1655.6 1663.1 1660.6 1662.9 1665.6 1663.1 1670.6 1663.6 1675.6 1662.7 1680.6 1664.0" stroke="#f2850a" stroke-width="6"/>
<path d="M253.2 1812.1 258.2 1814.4 263.2 1816.7 268.2 1815.2 273.2 1815.8 278.2 1816.2 283.2 1817.2 288.2 1820.3 293.2 1818.9 298.2 1820.8 303.2 1820.4 308.2 1821.0 313.2 1822.2 318.2 1824.8 323.2 1824.8 328.2 1822.4 333.2 1823.2 338.2 1823.1 343.2 1826.7 348.2 1827.7 353.2 1828.3 358.2 1828.7 363.2 1828.7 368.2 1829.8 373.2 1829.5 378.2 1827.2 383.2 1829.3 388.2 1828.5 393.2 1829.6 398.2 1829.2 403.2 1828.6 408.2 1828.2 413.2 1828.5 418.2 1828.2 423.2 1827.3 428.2 1830.4 433.2 1831.3 438.2 1832.6 443.2 1831.7 448.2 1830.9 453.2 1831.7 458.2 1829.2 463.2 1831.0 468.2 1830.6 473.2 1829.4 478.2 1829.2 483.2 1830.7 488.2 1830.0 493.2 1830.9 498.2 1831.9 503.2 1831.3 508.2 1830.0 513.2 1831.4 518.2 1830.7 523.2 1830.6 528.2 1830.4 533.2 1831.3 538.2 1830.2 543.2 1832.7 548.2 1834.9 553.2 1833.0 558.2 1834.1 563.2 1835.4 568.2 1831.8 573.2 1831.2 578.2 1834.2 583.2 1835.3 588.2 1834.8 593.2 1832.5 598.2 1833.0 603.2 1835.4 608.2 1836.2 613.2 1836.1 618.2 1833.4 623.2 1835.6 628.2 1834.2 633.2 1835.4 638.2 1833.1 643.2 1836.3 648.2 1835.7 653.2 1836.1 658.2 1833.9 663.2 1835.2 668.2 1835.4 673.2 1835.6 678.2 1834.7 683.2 1836.2 688.2 1834.9 693.2 1834.4 698.2 1833.7 703.2 1835.9 708.2 1834.0 713.2 1834.0 718.2 1833.4 723.2 1835.9 728.2 1836.3 733.2 1836.5 738.2 1834.3 743.2 1835.5 748.2 1835.5 753.2 1834.4 758.2 1833.8 763.2 1838.2 768.2 1835.6 773.2 1835.7 778.2 1835.7 783.2 1837.2 788.2 1835.4 793.2 1836.7 798.2 1836.7 803.2 1838.9 808.2 1835.8 813.2 1836.5 818.2 1837.5 823.2 1840.0 828.2 1838.8 833.2 1838.3 838.2 1839.1 843.2 1837.7 848.2 1836.1 853.2 1837.8 858.2 1840.3 863.2 1840.3 868.2 1838.2 873.2 1839.5 878.2 1840.8 883.2 1838.5 888.2 1839.3 893.2 1838.6 898.2 1837.9 903.2 1838.0 908.2 1837.6 913.2 1838.3 918.2 1837.1 923.2 1838.5 928.2 1837.5 933.2 1840.4 938.2 1840.5 943.2 1837.9 948.2 1840.7 953.2 1839.0 958.2 1839.8 963.2 1840.5 968.2 1839.7 973.2 1839.3 978.2 1840.0 983.2 1838.8 988.2 1841.9 993.2 1839.4 998.2 1842.0 1003.2 1840.0 1008.2 1839.9 1013.2 1840.3 1018.2 1838.8 1023.2 1838.9 1028.2 1840.0 1033.2 1840.8 1038.2 1843.1 1043.2 1844.3 1048.2 1840.4 1053.2 1841.5 1058.2 1840.0 1063.2 1842.7 1068.2 1841.3 1073.2 1843.6 1078.2 1842.7 1083.2 1840.5 1088.2 1839.3 1093.2 1840.1 1098.2 1843.2 1103.2 1840.8 1108.2 1841.7 1113.2 1841.4 1118.2 1841.2 1123.2 1843.3 1128.2 1841.2 1133.2 1842.9 1138.2 1843.2 1143.2 1844.5 1148.2 1842.9 1153.2 1844.3 1158.2 1842.5 1163.2 1842.5 1168.2 1842.7 1173.2 1843.8 1178.2 1844.3 1183.2 1840.8 1188.2 1839.8 1193.2 1841.3 1198.2 1843.0 1203.2 1842.2 1208.2 1840.8 1213.2 1843.4 1218.2 1841.1 1223.2 1839.4 1228.2 1838.6 1233.2 1838.3 1238.2 1841.3 1243.2 1839.3 1248.2 1841.5 1253.2 1842.8 1258.2 1843.7 1263.2 1843.1 1268.2 1841.1 1273.2 1841.3 1278.2 1842.3 1283.2 1842.0 1288.2 1839.9 1293.2 1841.4 1298.2 1838.8 1303.2 1838.8 1308.2 1842.0 1313.2 1840.4 1318.2 1838.9 1323.2 1840.8 1328.2 1839.7 1333.2 1837.3 1338.2 1836.6 1343.2 1837.4 1348.2 1837.8 1353.2 1840.7 1358.2 1838.3 1363.2 1840.3 1368.2 1840.8 1373.2 1838.8 1378.2 1840.8 1383.2 1840.2 1388.2 1838.6 1393.2 1837.0 1398.2 1837.3 1403.2 1839.2 1408.2 1838.0 1413.2 1835.8 1418.2 1835.8 1423.2 1836.1 1428.2 1834.7 1433.2 1835.8 1438.2 1833.5 1443.2 1836.2 1448.2 1833.8 1453.2 1832.6 1458.2 1834.3 1463.2 1833.3 1468.2 1835.5 1473.2 1834.2 1478.2 1833.7 1483.2 1834.9 1488.2 1832.3 1493.2 1833.8 1498.2 1833.7 1503.2 1832.6 1508.2 1834.6 1513.2 1830.9 1518.2 1833.6 1523.2 1831.0 1528.2 1833.4 1533.2 1830.9 1538.2 1829.6 1543.2 1831.3 1548.2 1833.7 1553.2 1831.3 1558.2 1831.6 1563.2 1832.2 1568.2 1830.6 1573.2 1831.5 1578.2 1829.3 1583.2 1830.6 1588.2 1832.4 1593.2 1831.0 1598.2 1830.0 1603.2 1828.9 1608.2 1831.5 1613.2 1831.0 1618.2 1833.1 1623.2 1832.9 1628.2 1829.8 1633.2 1832.6 1638.2 1833.5 1643.2 1833.2 1648.2 1833.2 1653.2 1832.5 1658.2 1832.4 1663.2 1832.1 1668.2 1831.6 1673.2 1829.9 1678.2 1828.8 1683.2 1831.1" stroke="#777777" stroke-width="13.3" stroke-opacity="0.5"/>
<path d="M253.2 1812.1 258.2 1814.4 263.2 1816.7 268.2 1815.2 273.2 1815.8 278.2 1816.2 283.2 1817.2 288.2 1820.3 293.2 1818.9 298.2 1820.8 303.2 1820.4 308.2 1821.0 313.2 1822.2 318.2 1824.8 323.2 1824.8 328.2 1822.4 333.2 1823.2 338.2 1823.1 343.2 1826.7 348.2 1827.7 353.2 1828.3 358.2 1828.7 363.2 1828.7 368.2 1829.8 373.2 1829.5 378.2 1827.2 383.2 1829.3 388.2 1828.5 393.2 1829.6 398.2 1829.2 403.2 1828.6 408.2 1828.2 413.2 1828.5 418.2 1828.2 423.2 1827.3 428.2 1830.4 433.2 1831.3 438.2 1832.6 443.2 1831.7 448.2 1830.9 453.2 1831.7 458.2 1829.2 463.2 1831.0 468.2 1830.6 473.2 1829.4 478.2 1829.2 483.2 1830.7 488.2 1830.0 493.2 1830.9 498.2 1831.9 503.2 1831.3 508.2 1830.0 513.2 1831.4 518.2 1830.7 523.2 1830.6 528.2 1830.4 533.2 1831.3 538.2 1830.2 543.2 1832.7 548.2 1834.9 553.2 1833.0 558.2 1834.1 563.2 1835.4 568.2 1831.8 573.2 1831.2 578.2 1834.2 583.2 1835.3 588.2 1834.8 593.2 1832.5 598.2 1833.0 603.2 1835.4 608.2 1836.2 613.2 1836.1 618.2 1833.4 623.2 1835.6 628.2 1834.2 633.2 1835.4 638.2 1833.1 643.2 1836.3 648.2 1835.7 653.2 1836.1 658.2 1833.9 663.2 1835.2 668.2 1835.4 673.2 1835.6 678.2 1834.7 683.2 1836.2 688.2 1834.9 693.2 1834.4 698.2 1833.7 703.2 1835.9 708.2 1834.0 713.2 1834.0 718.2 1833.4 723.2 1835.9 728.2 1836.3 733.2 1836.5 738.2 1834.3 743.2 1835.5 748.2 1835.5 753.2 1834.4 758.2 1833.8 763.2 1838.2 768.2 1835.6 773.2 1835.7 778.2 1835.7 783.2 1837.2 788.2 1835.4 793.2 1836.7 798.2 1836.7 803.2 1838.9 808.2 1835.8 813.2 1836.5 818.2 1837.5 823.2 1840.0 828.2 1838.8 833.2 1838.3 838.2 1839.1 843.2 1837.7 848.2 1836.1 853.2 1837.8 858.2 1840.3 863.2 1840.3 868.2 1838.2 873.2 1839.5 878.2 1840.8 883.2 1838.5 888.2 1839.3 893.2 1838.6 898.2 1837.9 903.2 1838.0 908.2 1837.6 913.2 1838.3 918.2 1837.1 923.2 1838.5 928.2 1837.5 933.2 1840.4 938.2 1840.5 943.2 1837.9 948.2 1840.7 953.2 1839.0 958.2 1839.8 963.2 1840.5 968.2 1839.7 973.2 1839.3 978.2 1840.0 983.2 1838.8 988.2 1841.9 993.2 1839.4 998.2 1842.0 1003.2 1840.0 1008.2 1839.9 1013.2 1840.3 1018.2 1838.8 1023.2 1838.9 1028.2 1840.0 1033.2 1840.8 1038.2 1843.1 1043.2 1844.3 1048.2 1840.4 1053.2 1841.5 1058.2 1840.0 1063.2 1842.7 1068.2 1841.3 1073.2 1843.6 1078.2 1842.7 1083.2 1840.5 1088.2 1839.3 1093.2 1840.1 1098.2 1843.2 1103.2 1840.8 1108.2 1841.7 1113.2 1841.4 1118.2 1841.2 1123.2 1843.3 1128.2 1841.2 1133.2 1842.9 1138.2 1843.2 1143.2 1844.5 1148.2 1842.9 1153.2 1844.3 1158.2 1842.5 1163.2 1842.5 1168.2 1842.7 1173.2 1843.8 1178.2 1844.3 1183.2 1840.8 1188.2 1839.8 1193.2 1841.3 1198.2 1843.0 1203.2 1842.2 1208.2 1840.8 1213.2 1843.4 1218.2 1841.1 1223.2 1839.4 1228.2 1838.6 1233.2 1838.3 1238.2 1841.3 1243.2 1839.3 1248.2 1841.5 1253.2 1842.8 1258.2 1843.7 1263.2 1843.1 1268.2 1841.1 1273.2 1841.3 1278.2 1842.3 1283.2 1842.0 1288.2 1839.9 1293.2 1841.4 1298.2 1838.8 1303.2 1838.8 1308.2 1842.0 1313.2 1840.4 1318.2 1838.9 1323.2 1840.8 1328.2 1839.7 1333.2 1837.3 1338.2 1836.6 1343.2 1837.4 1348.2 1837.8 1353.2 1840.7 1358.2 1838.3 1363.2 1840.3 1368.2 1840.8 1373.2 1838.8 1378.2 1840.8 1383.2 1840.2 1388.2 1838.6 1393.2 1837.0 1398.2 1837.3 1403.2 1839.2 1408.2 1838.0 1413.2 1835.8 1418.2 1835.8 1423.2 1836.1 1428.2 1834.7 1433.2 1835.8 1438.2 1833.5 1443.2 1836.2 1448.2 1833.8 1453.2 1832.6 1458.2 1834.3 1463.2 1833.3 1468.2 1835.5 1473.2 1834.2 1478.2 1833.7 1483.2 1834.9 1488.2 1832.3 1493.2 1833.8 1498.2 1833.7 1503.2 1832.6 1508.2 1834.6 1513.2 1830.9 1518.2 1833.6 1523.2 1831.0 1528.2 1833.4 1533.2 1830.9 1538.2 1829.6 1543.2 1831.3 1548.2 1833.7 1553.2 1831.3 1558.2 1831.6 1563.2 1832.2 1568.2 1830.6 1573.2 1831.5 1578.2 1829.3 1583.2 1830.6 1588.2 1832.4 1593.2 1831.0 1598.2 1830.0 1603.2 1828.9 1608.2 1831.5 1613.2 1831.0 1618.2 1833.1 1623.2 1832.9 1628.2 1829.8 1633.2 1832.6 1638.2 1833.5 1643.2 1833.2 1648.2 1833.2 1653.2 1832.5 1658.2 1832.4 1663.2 1832.1 1668.2 1831.6 1673.2 1829.9 1678.2 1828.8 1683.2 1831.1" stroke="#0c0c0c" stroke-width="9.3"/>
<path d="M253.2 1930.9 258.2 1934.0 263.2 1937.3 268.2 1936.4 273.2 1936.8 278.2 1939.4 283.2 1940.3 288.2 1939.7 293.2 1941.2 298.2 1940.8 303.2 1942.3 308.2 1940.5 313.2 1940.4 318.2 1943.1 323.2 1942.0 328.2 1941.4 333.2 1943.3 338.2 1943.4 343.2 1941.7 348.2 1942.8 353.2 1943.7 358.2 1942.3 363.2 1943.8 368.2 1942.5 373.2 1943.1 378.2 1942.6 383.2 1943.1 388.2 1946.4 393.2 1945.5 398.2 1947.6 403.2 1946.4 408.2 1946.9 413.2 1948.2 418.2 1948.0 423.2 1946.0 428.2 1947.2 433.2 1947.8 438.2 1946.3 443.2 1945.5 448.2 1948.1 453.2 1947.6 458.2 1946.3 463.2 1946.8 468.2 1946.1 473.2 1948.0 478.2 1947.5 483.2 1945.9 488.2 1948.1 493.2 1946.0 498.2 1946.1 503.2 1945.2 508.2 1947.6 513.2 1946.0 518.2 1947.0 523.2 1945.7 528.2 1946.7 533.2 1947.8 538.2 1947.6 543.2 1947.2 548.2 1947.2 553.2 1947.1 558.2 1947.6 563.2 1946.0 568.2 1946.9 573.2 1946.3 578.2 1948.5 583.2 1949.5 588.2 1946.6 593.2 1946.1 598.2 1948.1 603.2 1948.2 608.2 1946.3 613.2 1948.3 618.2 1949.9 623.2 1948.5 628.2 1947.8 633.2 1948.6 638.2 1950.2 643.2 1948.3 648.2 1947.9 653.2 1947.5 658.2 1949.0 663.2 1949.0 668.2 1948.3 673.2 1948.6 678.2 1947.5 683.2 1948.3 688.2 1951.1 693.2 1950.6 698.2 1949.5 703.2 1951.7 708.2 1950.3 713.2 1949.7 718.2 1948.9 723.2 1949.2 728.2 1949.7 733.2 1950.1 738.2 1952.8 743.2 1951.5 748.2 1951.2 753.2 1952.7 758.2 1954.4 763.2 1952.8 768.2 1954.2 773.2 1953.4 778.2 1954.0 783.2 1954.4 788.2 1956.0 793.2 1955.9 798.2 1955.1 803.2 1956.2 808.2 1954.9 813.2 1954.6 818.2 1956.8 823.2 1956.0 828.2 1956.7 833.2 1955.3 838.2 1957.2 843.2 1956.7 848.2 1955.3 853.2 1957.4 858.2 1956.5 863.2 1955.8 868.2 1955.3 873.2 1954.7 878.2 1954.9 883.2 1956.9 888.2 1955.5 893.2 1955.5 898.2 1956.3 903.2 1957.0 908.2 1956.6 913.2 1958.1 918.2 1956.6 923.2 1956.7 928.2 1956.9 933.2 1956.0 938.2 1956.1 943.2 1955.9 948.2 1958.1 953.2 1956.6 958.2 1958.2 963.2 1957.1 968.2 1958.4 973.2 1958.8 978.2 1957.9 983.2 1959.9 988.2 1959.5 993.2 1959.1 998.2 1957.1 1003.2 1957.9 1008.2 1957.7 1013.2 1958.5 1018.2 1960.5 1023.2 1960.9 1028.2 1958.1 1033.2 1959.6 1038.2 1961.1 1043.2 1960.1 1048.2 1958.2 1053.2 1960.5 1058.2 1959.7 1063.2 1961.5 1068.2 1961.7 1073.2 1961.6 1078.2 1962.0 1083.2 1959.0 1088.2 1960.8 1093.2 1959.6 1098.2 1958.6 1103.2 1959.2 1108.2 1960.2 1113.2 1958.4 1118.2 1959.5 1123.2 1961.0 1128.2 1960.4 1133.2 1960.4 1138.2 1959.5 1143.2 1961.7 1148.2 1959.7 1153.2 1960.7 1158.2 1960.8 1163.2 1958.4 1168.2 1961.4 1173.2 1959.4 1178.2 1961.6 1183.2 1961.9 1188.2 1961.9 1193.2 1961.7 1198.2 1959.9 1203.2 1959.5 1208.2 1959.0 1213.2 1960.9 1218.2 1958.1 1223.2 1957.6 1228.2 1960.5 1233.2 1960.7 1238.2 1960.4 1243.2 1961.2 1248.2 1959.7 1253.2 1960.4 1258.2 1959.1 1263.2 1960.4 1268.2 1957.6 1273.2 1958.1 1278.2 1958.7 1283.2 1959.6 1288.2 1958.4 1293.2 1959.0 1298.2 1960.1 1303.2 1958.4 1308.2 1957.0 1313.2 1955.9 1318.2 1958.5 1323.2 1957.8 1328.2 1957.2 1333.2 1957.4 1338.2 1956.0 1343.2 1955.8 1348.2 1955.7 1353.2 1955.7 1358.2 1957.9 1363.2 1956.2 1368.2 1955.0 1373.2 1957.5 1378.2 1957.0 1383.2 1954.8 1388.2 1956.4 1393.2 1956.9 1398.2 1956.8 1403.2 1957.2 1408.2 1956.0 1413.2 1954.8 1418.2 1956.3 1423.2 1956.2 1428.2 1956.4 1433.2 1954.5 1438.2 1954.6 1443.2 1955.7 1448.2 1954.9 1453.2 1955.4 1458.2 1955.0 1463.2 1955.9 1468.2 1954.6 1473.2 1954.7 1478.2 1955.9 1483.2 1954.3 1488.2 1953.3 1493.2 1954.7 1498.2 1953.2 1503.2 1955.4 1508.2 1953.9 1513.2 1955.7 1518.2 1954.8 1523.2 1953.1 1528.2 1954.0 1533.2 1954.8 1538.2 1954.2 1543.2 1954.6 1548.2 1953.7 1553.2 1955.6 1558.2 1953.2 1563.2 1954.7 1568.2 1952.3 1573.2 1953.3 1578.2 1952.0 1583.2 1951.7 1588.2 1953.3 1593.2 1954.9 1598.2 1953.2 1603.2 1952.9 1608.2 1953.1 1613.2 1953.5 1618.2 1952.7 1623.2 1952.3 1628.2 1954.0 1633.2 1953.3 1638.2 1952.3 1643.2 1953.6 1648.2 1954.6 1653.2 1952.7 1658.2 1950.5 1663.2 1950.8 1668.2 1953.0 1673.2 1950.8 1678.2 1950.2 1683.2 1952.1" stroke="#ff7e90" stroke-width="15.6" stroke-opacity="0.7"/>
<path d="M253.2 1930.9 258.2 1934.0 263.2 1937.3 268.2 1936.4 273.2 1936.8 278.2 1939.4 283.2 1940.3 288.2 1939.7 293.2 1941.2 298.2 1940.8 303.2 1942.3 308.2 1940.5 313.2 1940.4 318.2 1943.1 323.2 1942.0 328.2 1941.4 333.2 1943.3 338.2 1943.4 343.2 1941.7 348.2 1942.8 353.2 1943.7 358.2 1942.3 363.2 1943.8 368.2 1942.5 373.2 1943.1 378.2 1942.6 383.2 1943.1 388.2 1946.4 393.2 1945.5 398.2 1947.6 403.2 1946.4 408.2 1946.9 413.2 1948.2 418.2 1948.0 423.2 1946.0 428.2 1947.2 433.2 1947.8 438.2 1946.3 443.2 1945.5 448.2 1948.1 453.2 1947.6 458.2 1946.3 463.2 1946.8 468.2 1946.1 473.2 1948.0 478.2 1947.5 483.2 1945.9 488.2 1948.1 493.2 1946.0 498.2 1946.1 503.2 1945.2 508.2 1947.6 513.2 1946.0 518.2 1947.0 523.2 1945.7 528.2 1946.7 533.2 1947.8 538.2 1947.6 543.2 1947.2 548.2 1947.2 553.2 1947.1 558.2 1947.6 563.2 1946.0 568.2 1946.9 573.2 1946.3 578.2 1948.5 583.2 1949.5 588.2 1946.6 593.2 1946.1 598.2 1948.1 603.2 1948.2 608.2 1946.3 613.2 1948.3 618.2 1949.9 623.2 1948.5 628.2 1947.8 633.2 1948.6 638.2 1950.2 643.2 1948.3 648.2 1947.9 653.2 1947.5 658.2 1949.0 663.2 1949.0 668.2 1948.3 673.2 1948.6 678.2 1947.5 683.2 1948.3 688.2 1951.1 693.2 1950.6 698.2 1949.5 703.2 1951.7 708.2 1950.3 713.2 1949.7 718.2 1948.9 723.2 1949.2 728.2 1949.7 733.2 1950.1 738.2 1952.8 743.2 1951.5 748.2 1951.2 753.2 1952.7 758.2 1954.4 763.2 1952.8 768.2 1954.2 773.2 1953.4 778.2 1954.0 783.2 1954.4 788.2 1956.0 793.2 1955.9 798.2 1955.1 803.2 1956.2 808.2 1954.9 813.2 1954.6 818.2 1956.8 823.2 1956.0 828.2 1956.7 833.2 1955.3 838.2 1957.2 843.2 1956.7 848.2 1955.3 853.2 1957.4 858.2 1956.5 863.2 1955.8 868.2 1955.3 873.2 1954.7 878.2 1954.9 883.2 1956.9 888.2 1955.5 893.2 1955.5 898.2 1956.3 903.2 1957.0 908.2 1956.6 913.2 1958.1 918.2 1956.6 923.2 1956.7 928.2 1956.9 933.2 1956.0 938.2 1956.1 943.2 1955.9 948.2 1958.1 953.2 1956.6 958.2 1958.2 963.2 1957.1 968.2 1958.4 973.2 1958.8 978.2 1957.9 983.2 1959.9 988.2 1959.5 993.2 1959.1 998.2 1957.1 1003.2 1957.9 1008.2 1957.7 1013.2 1958.5 1018.2 1960.5 1023.2 1960.9 1028.2 1958.1 1033.2 1959.6 1038.2 1961.1 1043.2 1960.1 1048.2 1958.2 1053.2 1960.5 1058.2 1959.7 1063.2 1961.5 1068.2 1961.7 1073.2 1961.6 1078.2 1962.0 1083.2 1959.0 1088.2 1960.8 1093.2 1959.6 1098.2 1958.6 1103.2 1959.2 1108.2 1960.2 1113.2 1958.4 1118.2 1959.5 1123.2 1961.0 1128.2 1960.4 1133.2 1960.4 1138.2 1959.5 1143.2 1961.7 1148.2 1959.7 1153.2 1960.7 1158.2 1960.8 1163.2 1958.4 1168.2 1961.4 1173.2 1959.4 1178.2 1961.6 1183.2 1961.9 1188.2 1961.9 1193.2 1961.7 1198.2 1959.9 1203.2 1959.5 1208.2 1959.0 1213.2 1960.9 1218.2 1958.1 1223.2 1957.6 1228.2 1960.5 1233.2 1960.7 1238.2 1960.4 1243.2 1961.2 1248.2 1959.7 1253.2 1960.4 1258.2 1959.1 1263.2 1960.4 1268.2 1957.6 1273.2 1958.1 1278.2 1958.7 1283.2 1959.6 1288.2 1958.4 1293.2 1959.0 1298.2 1960.1 1303.2 1958.4 1308.2 1957.0 1313.2 1955.9 1318.2 1958.5 1323.2 1957.8 1328.2 1957.2 1333.2 1957.4 1338.2 1956.0 1343.2 1955.8 1348.2 1955.7 1353.2 1955.7 1358.2 1957.9 1363.2 1956.2 1368.2 1955.0 1373.2 1957.5 1378.2 1957.0 1383.2 1954.8 1388.2 1956.4 1393.2 1956.9 1398.2 1956.8 1403.2 1957.2 1408.2 1956.0 1413.2 1954.8 1418.2 1956.3 1423.2 1956.2 1428.2 1956.4 1433.2 1954.5 1438.2 1954.6 1443.2 1955.7 1448.2 1954.9 1453.2 1955.4 1458.2 1955.0 1463.2 1955.9 1468.2 1954.6 1473.2 1954.7 1478.2 1955.9 1483.2 1954.3 1488.2 1953.3 1493.2 1954.7 1498.2 1953.2 1503.2 1955.4 1508.2 1953.9 1513.2 1955.7 1518.2 1954.8 1523.2 1953.1 1528.2 1954.0 1533.2 1954.8 1538.2 1954.2 1543.2 1954.6 1548.2 1953.7 1553.2 1955.6 1558.2 1953.2 1563.2 1954.7 1568.2 1952.3 1573.2 1953.3 1578.2 1952.0 1583.2 1951.7 1588.2 1953.3 1593.2 1954.9 1598.2 1953.2 1603.2 1952.9 1608.2 1953.1 1613.2 1953.5 1618.2 1952.7 1623.2 1952.3 1628.2 1954.0 1633.2 1953.3 1638.2 1952.3 1643.2 1953.6 1648.2 1954.6 1653.2 1952.7 1658.2 1950.5 1663.2 1950.8 1668.2 1953.0 1673.2 1950.8 1678.2 1950.2 1683.2 1952.1" stroke="#d80f28" stroke-width="9.6"/>
<path d="M253.2 2035.6 258.2 2039.3 263.2 2040.7 268.2 2043.8 273.2 2043.3 278.2 2045.5 283.2 2046.3 288.2 2047.5 293.2 2048.6 298.2 2047.7 303.2 2047.9 308.2 2049.0 313.2 2048.8 318.2 2049.0 323.2 2049.2 328.2 2050.9 333.2 2051.9 338.2 2052.4 343.2 2051.7 348.2 2053.2 353.2 2053.2 358.2 2052.9 363.2 2053.5 368.2 2053.9 373.2 2053.6 378.2 2054.7 383.2 2054.9 388.2 2055.6 393.2 2056.8 398.2 2056.9 403.2 2056.5 408.2 2057.4 413.2 2058.1 418.2 2057.4 423.2 2058.2 428.2 2056.7 433.2 2056.4 438.2 2056.4 443.2 2058.1 448.2 2058.3 453.2 2058.5 458.2 2057.8 463.2 2058.0 468.2 2059.0 473.2 2057.8 478.2 2057.4 483.2 2057.2 488.2 2058.2 493.2 2059.4 498.2 2059.4 503.2 2059.2 508.2 2059.5 513.2 2059.1 518.2 2060.7 523.2 2060.2 528.2 2059.9 533.2 2060.0 538.2 2061.3 543.2 2060.8 548.2 2062.0 553.2 2061.3 558.2 2061.4 563.2 2060.7 568.2 2062.2 573.2 2062.7 578.2 2062.3 583.2 2061.4 588.2 2061.9 593.2 2061.9 598.2 2063.0 603.2 2063.6 608.2 2063.5 613.2 2062.6 618.2 2061.7 623.2 2063.3 628.2 2064.0 633.2 2062.7 638.2 2063.0 643.2 2063.1 648.2 2064.2 653.2 2062.8 658.2 2062.3 663.2 2063.8 668.2 2064.0 673.2 2063.8 678.2 2064.5 683.2 2064.5 688.2 2064.8 693.2 2064.1 698.2 2063.6 703.2 2063.3 708.2 2064.0 713.2 2065.1 718.2 2065.1 723.2 2065.1 728.2 2065.9 733.2 2066.5 738.2 2066.6 743.2 2066.2 748.2 2067.3 753.2 2067.8 758.2 2068.3 763.2 2068.7 768.2 2067.1 773.2 2068.0 778.2 2067.8 783.2 2067.9 788.2 2068.3 793.2 2067.8 798.2 2068.0 803.2 2069.7 808.2 2069.1 813.2 2070.1 818.2 2070.2 823.2 2069.5 828.2 2069.4 833.2 2070.0 838.2 2070.5 843.2 2070.1 848.2 2069.4 853.2 2069.4 858.2 2071.0 863.2 2071.4 868.2 2070.4 873.2 2071.6 878.2 2071.6 883.2 2071.1 888.2 2072.2 893.2 2071.1 898.2 2070.7 903.2 2071.1 908.2 2072.1 913.2 2072.2 918.2 2072.2 923.2 2073.1 928.2 2072.5 933.2 2073.1 938.2 2071.7 943.2 2072.8 948.2 2072.0 953.2 2072.8 958.2 2073.5 963.2 2073.5 968.2 2073.3 973.2 2073.2 978.2 2073.7 983.2 2073.1 988.2 2072.6 993.2 2073.1 998.2 2073.3 1003.2 2072.6 1008.2 2073.2 1013.2 2073.3 1018.2 2072.8 1023.2 2073.7 1028.2 2074.3 1033.2 2073.6 1038.2 2074.5 1043.2 2075.2 1048.2 2074.7 1053.2 2074.1 1058.2 2073.5 1063.2 2073.1 1068.2 2073.2 1073.2 2074.8 1078.2 2073.5 1083.2 2074.8 1088.2 2074.8 1093.2 2075.1 1098.2 2073.7 1103.2 2074.4 1108.2 2073.7 1113.2 2074.4 1118.2 2075.0 1123.2 2075.0 1128.2 2074.7 1133.2 2075.3 1138.2 2074.1 1143.2 2073.5 1148.2 2074.7 1153.2 2073.5 1158.2 2073.8 1163.2 2073.9 1168.2 2074.9 1173.2 2074.2 1178.2 2074.3 1183.2 2074.2 1188.2 2074.1 1193.2 2074.1 1198.2 2074.0 1203.2 2074.2 1208.2 2074.0 1213.2 2073.8 1218.2 2074.8 1223.2 2075.3 1228.2 2073.9 1233.2 2074.8 1238.2 2073.2 1243.2 2073.2 1248.2 2074.4 1253.2 2073.3 1258.2 2073.9 1263.2 2074.8 1268.2 2074.4 1273.2 2073.8 1278.2 2072.7 1283.2 2073.1 1288.2 2073.3 1293.2 2074.0 1298.2 2073.4 1303.2 2074.1 1308.2 2073.4 1313.2 2073.7 1318.2 2074.0 1323.2 2072.8 1328.2 2074.0 1333.2 2073.4 1338.2 2073.2 1343.2 2074.1 1348.2 2073.6 1353.2 2073.2 1358.2 2072.4 1363.2 2072.1 1368.2 2073.1 1373.2 2072.9 1378.2 2073.1 1383.2 2073.2 1388.2 2073.2 1393.2 2072.4 1398.2 2073.2 1403.2 2072.6 1408.2 2071.8 1413.2 2072.9 1418.2 2073.3 1423.2 2071.8 1428.2 2072.8 1433.2 2072.8 1438.2 2071.8 1443.2 2072.0 1448.2 2072.8 1453.2 2071.5 1458.2 2072.0 1463.2 2071.3 1468.2 2070.7 1473.2 2072.1 1478.2 2072.8 1483.2 2072.2 1488.2 2072.2 1493.2 2071.4 1498.2 2071.0 1503.2 2071.2 1508.2 2071.6 1513.2 2071.5 1518.2 2070.9 1523.2 2070.9 1528.2 2070.4 1533.2 2071.0 1538.2 2071.3 1543.2 2071.1 1548.2 2070.1 1553.2 2069.7 1558.2 2070.8 1563.2 2069.9 1568.2 2070.1 1573.2 2069.0 1578.2 2068.6 1583.2 2068.6 1588.2 2069.5 1593.2 2068.9 1598.2 2069.6 1603.2 2068.6 1608.2 2069.6 1613.2 2070.0 1618.2 2069.2 1623.2 2068.8 1628.2 2068.7 1633.2 2069.2 1638.2 2068.7 1643.2 2068.6 1648.2 2069.8 1653.2 2070.5 1658.2 2069.2 1663.2 2069.4 1668.2 2069.8 1673.2 2070.6 1678.2 2070.1 1683.2 2069.8" stroke="#2af0a0" stroke-width="19" stroke-opacity="0.8"/>
<path d="M253.2 2035.6 258.2 2039.3 263.2 2040.7 268.2 2043.8 273.2 2043.3 278.2 2045.5 283.2 2046.3 288.2 2047.5 293.2 2048.6 298.2 2047.7 303.2 2047.9 308.2 2049.0 313.2 2048.8 318.2 2049.0 323.2 2049.2 328.2 2050.9 333.2 2051.9 338.2 2052.4 343.2 2051.7 348.2 2053.2 353.2 2053.2 358.2 2052.9 363.2 2053.5 368.2 2053.9 373.2 2053.6 378.2 2054.7 383.2 2054.9 388.2 2055.6 393.2 2056.8 398.2 2056.9 403.2 2056.5 408.2 2057.4 413.2 2058.1 418.2 2057.4 423.2 2058.2 428.2 2056.7 433.2 2056.4 438.2 2056.4 443.2 2058.1 448.2 2058.3 453.2 2058.5 458.2 2057.8 463.2 2058.0 468.2 2059.0 473.2 2057.8 478.2 2057.4 483.2 2057.2 488.2 2058.2 493.2 2059.4 498.2 2059.4 503.2 2059.2 508.2 2059.5 513.2 2059.1 518.2 2060.7 523.2 2060.2 528.2 2059.9 533.2 2060.0 538.2 2061.3 543.2 2060.8 548.2 2062.0 553.2 2061.3 558.2 2061.4 563.2 2060.7 568.2 2062.2 573.2 2062.7 578.2 2062.3 583.2 2061.4 588.2 2061.9 593.2 2061.9 598.2 2063.0 603.2 2063.6 608.2 2063.5 613.2 2062.6 618.2 2061.7 623.2 2063.3 628.2 2064.0 633.2 2062.7 638.2 2063.0 643.2 2063.1 648.2 2064.2 653.2 2062.8 658.2 2062.3 663.2 2063.8 668.2 2064.0 673.2 2063.8 678.2 2064.5 683.2 2064.5 688.2 2064.8 693.2 2064.1 698.2 2063.6 703.2 2063.3 708.2 2064.0 713.2 2065.1 718.2 2065.1 723.2 2065.1 728.2 2065.9 733.2 2066.5 738.2 2066.6 743.2 2066.2 748.2 2067.3 753.2 2067.8 758.2 2068.3 763.2 2068.7 768.2 2067.1 773.2 2068.0 778.2 2067.8 783.2 2067.9 788.2 2068.3 793.2 2067.8 798.2 2068.0 803.2 2069.7 808.2 2069.1 813.2 2070.1 818.2 2070.2 823.2 2069.5 828.2 2069.4 833.2 2070.0 838.2 2070.5 843.2 2070.1 848.2 2069.4 853.2 2069.4 858.2 2071.0 863.2 2071.4 868.2 2070.4 873.2 2071.6 878.2 2071.6 883.2 2071.1 888.2 2072.2 893.2 2071.1 898.2 2070.7 903.2 2071.1 908.2 2072.1 913.2 2072.2 918.2 2072.2 923.2 2073.1 928.2 2072.5 933.2 2073.1 938.2 2071.7 943.2 2072.8 948.2 2072.0 953.2 2072.8 958.2 2073.5 963.2 2073.5 968.2 2073.3 973.2 2073.2 978.2 2073.7 983.2 2073.1 988.2 2072.6 993.2 2073.1 998.2 2073.3 1003.2 2072.6 1008.2 2073.2 1013.2 2073.3 1018.2 2072.8 1023.2 2073.7 1028.2 2074.3 1033.2 2073.6 1038.2 2074.5 1043.2 2075.2 1048.2 2074.7 1053.2 2074.1 1058.2 2073.5 1063.2 2073.1 1068.2 2073.2 1073.2 2074.8 1078.2 2073.5 1083.2 2074.8 1088.2 2074.8 1093.2 2075.1 1098.2 2073.7 1103.2 2074.4 1108.2 2073.7 1113.2 2074.4 1118.2 2075.0 1123.2 2075.0 1128.2 2074.7 1133.2 2075.3 1138.2 2074.1 1143.2 2073.5 1148.2 2074.7 1153.2 2073.5 1158.2 2073.8 1163.2 2073.9 1168.2 2074.9 1173.2 2074.2 1178.2 2074.3 1183.2 2074.2 1188.2 2074.1 1193.2 2074.1 1198.2 2074.0 1203.2 2074.2 1208.2 2074.0 1213.2 2073.8 1218.2 2074.8 1223.2 2075.3 1228.2 2073.9 1233.2 2074.8 1238.2 2073.2 1243.2 2073.2 1248.2 2074.4 1253.2 2073.3 1258.2 2073.9 1263.2 2074.8 1268.2 2074.4 1273.2 2073.8 1278.2 2072.7 1283.2 2073.1 1288.2 2073.3 1293.2 2074.0 1298.2 2073.4 1303.2 2074.1 1308.2 2073.4 1313.2 2073.7 1318.2 2074.0 1323.2 2072.8 1328.2 2074.0 1333.2 2073.4 1338.2 2073.2 1343.2 2074.1 1348.2 2073.6 1353.2 2073.2 1358.2 2072.4 1363.2 2072.1 1368.2 2073.1 1373.2 2072.9 1378.2 2073.1 1383.2 2073.2 1388.2 2073.2 1393.2 2072.4 1398.2 2073.2 1403.2 2072.6 1408.2 2071.8 1413.2 2072.9 1418.2 2073.3 1423.2 2071.8 1428.2 2072.8 1433.2 2072.8 1438.2 2071.8 1443.2 2072.0 1448.2 2072.8 1453.2 2071.5 1458.2 2072.0 1463.2 2071.3 1468.2 2070.7 1473.2 2072.1 1478.2 2072.8 1483.2 2072.2 1488.2 2072.2 1493.2 2071.4 1498.2 2071.0 1503.2 2071.2 1508.2 2071.6 1513.2 2071.5 1518.2 2070.9 1523.2 2070.9 1528.2 2070.4 1533.2 2071.0 1538.2 2071.3 1543.2 2071.1 1548.2 2070.1 1553.2 2069.7 1558.2 2070.8 1563.2 2069.9 1568.2 2070.1 1573.2 2069.0 1578.2 2068.6 1583.2 2068.6 1588.2 2069.5 1593.2 2068.9 1598.2 2069.6 1603.2 2068.6 1608.2 2069.6 1613.2 2070.0 1618.2 2069.2 1623.2 2068.8 1628.2 2068.7 1633.2 2069.2 1638.2 2068.7 1643.2 2068.6 1648.2 2069.8 1653.2 2070.5 1658.2 2069.2 1663.2 2069.4 1668.2 2069.8 1673.2 2070.6 1678.2 2070.1 1683.2 2069.8" stroke="#00bd16" stroke-width="11"/>
<path d="M253.2 2150.9 258.2 2152.5 263.2 2154.2 268.2 2155.3 273.2 2157.3 278.2 2156.4 283.2 2158.4 288.2 2156.3 293.2 2157.5 298.2 2158.3 303.2 2157.9 308.2 2161.0 313.2 2160.1 318.2 2162.5 323.2 2164.3 328.2 2161.6 333.2 2164.3 338.2 2164.9 343.2 2164.7 348.2 2161.8 353.2 2163.3 358.2 2164.8 363.2 2163.9 368.2 2163.6 373.2 2164.1 378.2 2164.3 383.2 2167.2 388.2 2166.1 393.2 2166.4 398.2 2167.9 403.2 2170.1 408.2 2167.8 413.2 2166.2 418.2 2170.6 423.2 2171.5 428.2 2171.9 433.2 2170.9 438.2 2169.5 443.2 2168.9 448.2 2169.8 453.2 2171.0 458.2 2169.6 463.2 2172.5 468.2 2173.6 473.2 2170.6 478.2 2173.8 483.2 2173.1 488.2 2175.0 493.2 2173.4 498.2 2174.5 503.2 2173.2 508.2 2173.5 513.2 2173.1 518.2 2170.6 523.2 2170.4 528.2 2170.8 533.2 2171.8 538.2 2171.9 543.2 2172.7 548.2 2173.6 553.2 2172.5 558.2 2171.8 563.2 2172.5 568.2 2174.9 573.2 2174.8 578.2 2174.1 583.2 2174.6 588.2 2171.9 593.2 2170.4 598.2 2169.8 603.2 2169.5 608.2 2168.5 613.2 2170.9 618.2 2172.7 623.2 2168.9 628.2 2170.2 633.2 2171.2 638.2 2170.1 643.2 2166.3 648.2 2167.3 653.2 2165.7 658.2 2165.6 663.2 2165.7 668.2 2169.3 673.2 2173.7 678.2 2172.3 683.2 2172.7 688.2 2174.4 693.2 2173.7 698.2 2175.9 703.2 2178.2 708.2 2177.8 713.2 2175.9 718.2 2175.5 723.2 2176.5 728.2 2179.3 733.2 2181.6 738.2 2180.4 743.2 2178.3 748.2 2178.3 753.2 2179.5 758.2 2178.5 763.2 2178.4 768.2 2180.0 773.2 2182.7 778.2 2180.6 783.2 2183.4 788.2 2184.3 793.2 2182.5 798.2 2181.0 803.2 2180.5 808.2 2182.9 813.2 2184.5 818.2 2185.3 823.2 2182.4 828.2 2182.7 833.2 2180.9 838.2 2181.8 843.2 2182.2 848.2 2181.5 853.2 2181.2 858.2 2185.7 863.2 2183.7 868.2 2184.1 873.2 2184.5 878.2 2184.4 883.2 2184.9 888.2 2184.7 893.2 2184.7 898.2 2182.7 903.2 2184.8 908.2 2185.7 913.2 2186.3 918.2 2184.5 923.2 2184.7 928.2 2186.5 933.2 2186.7 938.2 2183.5 943.2 2184.0 948.2 2183.4 953.2 2185.9 958.2 2185.1 963.2 2184.9 968.2 2184.1 973.2 2185.0 978.2 2186.6 983.2 2186.7 988.2 2184.7 993.2 2185.0 998.2 2186.3 1003.2 2183.9 1008.2 2187.4 1013.2 2184.1 1018.2 2186.1 1023.2 2184.4 1028.2 2187.9 1033.2 2187.7 1038.2 2185.3 1043.2 2186.0 1048.2 2187.9 1053.2 2188.6 1058.2 2187.9 1063.2 2187.5 1068.2 2188.0 1073.2 2189.0 1078.2 2187.3 1083.2 2187.3 1088.2 2188.2 1093.2 2187.1 1098.2 2185.3 1103.2 2186.6 1108.2 2185.8 1113.2 2187.4 1118.2 2188.1 1123.2 2189.0 1128.2 2185.4 1133.2 2183.9 1138.2 2187.9 1143.2 2188.1 1148.2 2189.5 1153.2 2189.0 1158.2 2189.6 1163.2 2185.8 1168.2 2184.8 1173.2 2186.6 1178.2 2187.9 1183.2 2185.1 1188.2 2188.4 1193.2 2185.8 1198.2 2184.9 1203.2 2185.8 1208.2 2184.8 1213.2 2184.0 1218.2 2183.8 1223.2 2183.4 1228.2 2183.9 1233.2 2186.7 1238.2 2188.0 1243.2 2188.4 1248.2 2186.7 1253.2 2187.9 1258.2 2185.1 1263.2 2187.9 1268.2 2186.5 1273.2 2184.7 1278.2 2185.4 1283.2 2184.6 1288.2 2187.1 1293.2 2185.9 1298.2 2183.8 1303.2 2184.0 1308.2 2183.4 1313.2 2187.5 1318.2 2186.0 1323.2 2187.4 1328.2 2186.8 1333.2 2185.7 1338.2 2186.8 1343.2 2186.2 1348.2 2183.5 1353.2 2187.3 1358.2 2185.2 1363.2 2186.0 1368.2 2185.0 1373.2 2187.3 1378.2 2184.0 1383.2 2182.4 1388.2 2181.8 1393.2 2183.3 1398.2 2185.8 1403.2 2184.6 1408.2 2186.5 1413.2 2183.1 1418.2 2186.1 1423.2 2183.0 1428.2 2185.5 1433.2 2182.8 1438.2 2183.8 1443.2 2184.2 1448.2 2186.0 1453.2 2183.7 1458.2 2185.1 1463.2 2181.5 1468.2 2184.5 1473.2 2183.5 1478.2 2183.2 1483.2 2185.2 1488.2 2182.5 1493.2 2183.0 1498.2 2183.0 1503.2 2181.5 1508.2 2180.2 1513.2 2181.1 1518.2 2180.6 1523.2 2182.0 1528.2 2181.3 1533.2 2179.4 1538.2 2181.7 1543.2 2183.5 1548.2 2182.4 1553.2 2180.4 1558.2 2179.8 1563.2 2182.7 1568.2 2181.0 1573.2 2181.7 1578.2 2178.6 1583.2 2181.3 1588.2 2182.4 1593.2 2179.5 1598.2 2178.7 1603.2 2180.1 1608.2 2181.9 1613.2 2181.5 1618.2 2177.5 1623.2 2176.7 1628.2 2180.1 1633.2 2178.7 1638.2 2180.8 1643.2 2178.9 1648.2 2180.1 1653.2 2177.3 1658.2 2180.0 1663.2 2178.3 1668.2 2175.3 1673.2 2175.3 1678.2 2174.6 1683.2 2175.9 1688.2 2178.8" stroke="#a29cf2" stroke-width="14" stroke-opacity="0.6"/>
<path d="M253.2 2150.9 258.2 2152.5 263.2 2154.2 268.2 2155.3 273.2 2157.3 278.2 2156.4 283.2 2158.4 288.2 2156.3 293.2 2157.5 298.2 2158.3 303.2 2157.9 308.2 2161.0 313.2 2160.1 318.2 2162.5 323.2 2164.3 328.2 2161.6 333.2 2164.3 338.2 2164.9 343.2 2164.7 348.2 2161.8 353.2 2163.3 358.2 2164.8 363.2 2163.9 368.2 2163.6 373.2 2164.1 378.2 2164.3 383.2 2167.2 388.2 2166.1 393.2 2166.4 398.2 2167.9 403.2 2170.1 408.2 2167.8 413.2 2166.2 418.2 2170.6 423.2 2171.5 428.2 2171.9 433.2 2170.9 438.2 2169.5 443.2 2168.9 448.2 2169.8 453.2 2171.0 458.2 2169.6 463.2 2172.5 468.2 2173.6 473.2 2170.6 478.2 2173.8 483.2 2173.1 488.2 2175.0 493.2 2173.4 498.2 2174.5 503.2 2173.2 508.2 2173.5 513.2 2173.1 518.2 2170.6 523.2 2170.4 528.2 2170.8 533.2 2171.8 538.2 2171.9 543.2 2172.7 548.2 2173.6 553.2 2172.5 558.2 2171.8 563.2 2172.5 568.2 2174.9 573.2 2174.8 578.2 2174.1 583.2 2174.6 588.2 2171.9 593.2 2170.4 598.2 2169.8 603.2 2169.5 608.2 2168.5 613.2 2170.9 618.2 2172.7 623.2 2168.9 628.2 2170.2 633.2 2171.2 638.2 2170.1 643.2 2166.3 648.2 2167.3 653.2 2165.7 658.2 2165.6 663.2 2165.7 668.2 2169.3 673.2 2173.7 678.2 2172.3 683.2 2172.7 688.2 2174.4 693.2 2173.7 698.2 2175.9 703.2 2178.2 708.2 2177.8 713.2 2175.9 718.2 2175.5 723.2 2176.5 728.2 2179.3 733.2 2181.6 738.2 2180.4 743.2 2178.3 748.2 2178.3 753.2 2179.5 758.2 2178.5 763.2 2178.4 768.2 2180.0 773.2 2182.7 778.2 2180.6 783.2 2183.4 788.2 2184.3 793.2 2182.5 798.2 2181.0 803.2 2180.5 808.2 2182.9 813.2 2184.5 818.2 2185.3 823.2 2182.4 828.2 2182.7 833.2 2180.9 838.2 2181.8 843.2 2182.2 848.2 2181.5 853.2 2181.2 858.2 2185.7 863.2 2183.7 868.2 2184.1 873.2 2184.5 878.2 2184.4 883.2 2184.9 888.2 2184.7 893.2 2184.7 898.2 2182.7 903.2 2184.8 908.2 2185.7 913.2 2186.3 918.2 2184.5 923.2 2184.7 928.2 2186.5 933.2 2186.7 938.2 2183.5 943.2 2184.0 948.2 2183.4 953.2 2185.9 958.2 2185.1 963.2 2184.9 968.2 2184.1 973.2 2185.0 978.2 2186.6 983.2 2186.7 988.2 2184.7 993.2 2185.0 998.2 2186.3 1003.2 2183.9 1008.2 2187.4 1013.2 2184.1 1018.2 2186.1 1023.2 2184.4 1028.2 2187.9 1033.2 2187.7 1038.2 2185.3 1043.2 2186.0 1048.2 2187.9 1053.2 2188.6 1058.2 2187.9 1063.2 2187.5 1068.2 2188.0 1073.2 2189.0 1078.2 2187.3 1083.2 2187.3 1088.2 2188.2 1093.2 2187.1 1098.2 2185.3 1103.2 2186.6 1108.2 2185.8 1113.2 2187.4 1118.2 2188.1 1123.2 2189.0 1128.2 2185.4 1133.2 2183.9 1138.2 2187.9 1143.2 2188.1 1148.2 2189.5 1153.2 2189.0 1158.2 2189.6 1163.2 2185.8 1168.2 2184.8 1173.2 2186.6 1178.2 2187.9 1183.2 2185.1 1188.2 2188.4 1193.2 2185.8 1198.2 2184.9 1203.2 2185.8 1208.2 2184.8 1213.2 2184.0 1218.2 2183.8 1223.2 2183.4 1228.2 2183.9 1233.2 2186.7 1238.2 2188.0 1243.2 2188.4 1248.2 2186.7 1253.2 2187.9 1258.2 2185.1 1263.2 2187.9 1268.2 2186.5 1273.2 2184.7 1278.2 2185.4 1283.2 2184.6 1288.2 2187.1 1293.2 2185.9 1298.2 2183.8 1303.2 2184.0 1308.2 2183.4 1313.2 2187.5 1318.2 2186.0 1323.2 2187.4 1328.2 2186.8 1333.2 2185.7 1338.2 2186.8 1343.2 2186.2 1348.2 2183.5 1353.2 2187.3 1358.2 2185.2 1363.2 2186.0 1368.2 2185.0 1373.2 2187.3 1378.2 2184.0 1383.2 2182.4 1388.2 2181.8 1393.2 2183.3 1398.2 2185.8 1403.2 2184.6 1408.2 2186.5 1413.2 2183.1 1418.2 2186.1 1423.2 2183.0 1428.2 2185.5 1433.2 2182.8 1438.2 2183.8 1443.2 2184.2 1448.2 2186.0 1453.2 2183.7 1458.2 2185.1 1463.2 2181.5 1468.2 2184.5 1473.2 2183.5 1478.2 2183.2 1483.2 2185.2 1488.2 2182.5 1493.2 2183.0 1498.2 2183.0 1503.2 2181.5 1508.2 2180.2 1513.2 2181.1 1518.2 2180.6 1523.2 2182.0 1528.2 2181.3 1533.2 2179.4 1538.2 2181.7 1543.2 2183.5 1548.2 2182.4 1553.2 2180.4 1558.2 2179.8 1563.2 2182.7 1568.2 2181.0 1573.2 2181.7 1578.2 2178.6 1583.2 2181.3 1588.2 2182.4 1593.2 2179.5 1598.2 2178.7 1603.2 2180.1 1608.2 2181.9 1613.2 2181.5 1618.2 2177.5 1623.2 2176.7 1628.2 2180.1 1633.2 2178.7 1638.2 2180.8 1643.2 2178.9 1648.2 2180.1 1653.2 2177.3 1658.2 2180.0 1663.2 2178.3 1668.2 2175.3 1673.2 2175.3 1678.2 2174.6 1683.2 2175.9 1688.2 2178.8" stroke="#1a128a" stroke-width="8"/>
<path d="M253.2 2262.0 258.2 2263.9 263.2 2262.2 268.2 2264.4 273.2 2265.4 278.2 2266.1 283.2 2264.5 288.2 2264.1 293.2 2266.1 298.2 2268.6 303.2 2267.7 308.2 2268.8 313.2 2268.8 318.2 2271.4 323.2 2272.9 328.2 2271.4 333.2 2273.8 338.2 2270.8 343.2 2273.5 348.2 2274.9 353.2 2272.5 358.2 2274.5 363.2 2274.8 368.2 2276.9 373.2 2274.6 378.2 2275.6 383.2 2277.7 388.2 2277.6 393.2 2276.4 398.2 2275.4 403.2 2279.0 408.2 2278.4 413.2 2280.8 418.2 2278.1 423.2 2280.4 428.2 2281.4 433.2 2282.5 438.2 2279.2 443.2 2280.0 448.2 2279.3 453.2 2282.4 458.2 2282.0 463.2 2284.9 468.2 2283.6 473.2 2285.3 478.2 2286.5 483.2 2284.4 488.2 2285.3 493.2 2287.5 498.2 2286.4 503.2 2285.3 508.2 2284.6 513.2 2286.6 518.2 2284.6 523.2 2285.8 528.2 2286.0 533.2 2286.0 538.2 2284.2 543.2 2285.9 548.2 2287.6 553.2 2285.5 558.2 2284.9 563.2 2287.2 568.2 2286.5 573.2 2285.0 578.2 2283.4 583.2 2286.1 588.2 2285.2 593.2 2285.4 598.2 2284.6 603.2 2286.0 608.2 2286.9 613.2 2285.5 618.2 2284.2 623.2 2287.9 628.2 2288.8 633.2 2285.4 638.2 2287.0 643.2 2288.2 648.2 2287.6 653.2 2289.1 658.2 2290.8 663.2 2290.0 668.2 2289.4 673.2 2289.2 678.2 2290.2 683.2 2290.7 688.2 2291.5 693.2 2292.9 698.2 2296.6 703.2 2296.9 708.2 2298.5 713.2 2299.8 718.2 2300.1 723.2 2297.1 728.2 2300.2 733.2 2297.7 738.2 2300.0 743.2 2301.1 748.2 2300.8 753.2 2299.8 758.2 2298.2 763.2 2297.9 768.2 2300.3 773.2 2299.4 778.2 2300.5 783.2 2299.9 788.2 2299.3 793.2 2299.9 798.2 2302.0 803.2 2301.7 808.2 2301.4 813.2 2301.8 818.2 2302.3 823.2 2302.4 828.2 2302.3 833.2 2304.6 838.2 2304.4 843.2 2302.2 848.2 2302.1 853.2 2301.5 858.2 2302.2 863.2 2301.1 868.2 2303.9 873.2 2304.0 878.2 2303.5 883.2 2305.5 888.2 2303.7 893.2 2304.3 898.2 2306.0 903.2 2305.0 908.2 2305.0 913.2 2304.0 918.2 2306.4 923.2 2306.2 928.2 2304.2 933.2 2303.9 938.2 2304.9 943.2 2304.9 948.2 2305.0 953.2 2303.7 958.2 2305.0 963.2 2306.0 968.2 2306.6 973.2 2305.4 978.2 2305.1 983.2 2305.3 988.2 2305.6 993.2 2305.4 998.2 2303.5 1003.2 2304.0 1008.2 2307.3 1013.2 2307.6 1018.2 2306.2 1023.2 2307.1 1028.2 2305.0 1033.2 2304.7 1038.2 2305.7 1043.2 2306.8 1048.2 2304.3 1053.2 2305.5 1058.2 2307.8 1063.2 2307.2 1068.2 2308.7 1073.2 2305.3 1078.2 2307.8 1083.2 2308.3 1088.2 2304.9 1093.2 2306.1 1098.2 2307.5 1103.2 2305.6 1108.2 2306.8 1113.2 2308.1 1118.2 2308.2 1123.2 2306.7 1128.2 2304.7 1133.2 2306.1 1138.2 2305.0 1143.2 2306.2 1148.2 2305.4 1153.2 2305.5 1158.2 2306.4 1163.2 2307.8 1168.2 2309.0 1173.2 2306.8 1178.2 2304.5 1183.2 2307.0 1188.2 2305.9 1193.2 2307.4 1198.2 2308.2 1203.2 2305.0 1208.2 2307.0 1213.2 2305.7 1218.2 2305.5 1223.2 2305.5 1228.2 2306.4 1233.2 2305.4 1238.2 2306.1 1243.2 2305.5 1248.2 2304.6 1253.2 2304.8 1258.2 2306.8 1263.2 2305.7 1268.2 2305.0 1273.2 2305.4 1278.2 2304.9 1283.2 2308.0 1288.2 2308.1 1293.2 2305.3 1298.2 2305.1 1303.2 2305.6 1308.2 2306.1 1313.2 2305.6 1318.2 2306.0 1323.2 2307.1 1328.2 2304.8 1333.2 2305.8 1338.2 2304.3 1343.2 2305.4 1348.2 2304.8 1353.2 2306.6 1358.2 2307.5 1363.2 2308.0 1368.2 2305.7 1373.2 2305.9 1378.2 2303.9 1383.2 2305.6 1388.2 2306.4 1393.2 2305.0 1398.2 2304.1 1403.2 2305.7 1408.2 2306.0 1413.2 2306.3 1418.2 2304.1 1423.2 2303.2 1428.2 2302.9 1433.2 2302.5 1438.2 2301.5 1443.2 2301.7 1448.2 2303.3 1453.2 2303.4 1458.2 2305.4 1463.2 2303.7 1468.2 2302.3 1473.2 2305.1 1478.2 2302.2 1483.2 2302.4 1488.2 2304.2 1493.2 2302.8 1498.2 2305.1 1503.2 2304.8 1508.2 2302.8 1513.2 2304.5 1518.2 2305.2 1523.2 2303.6 1528.2 2301.4 1533.2 2300.6 1538.2 2303.3 1543.2 2304.4 1548.2 2303.6 1553.2 2303.9 1558.2 2304.0 1563.2 2301.5 1568.2 2300.6 1573.2 2303.1 1578.2 2303.7 1583.2 2302.1 1588.2 2300.8 1593.2 2299.5 1598.2 2300.5 1603.2 2302.9 1608.2 2300.5 1613.2 2300.2 1618.2 2298.9 1623.2 2300.7 1628.2 2299.0 1633.2 2301.1 1638.2 2300.9 1643.2 2300.5 1648.2 2299.6 1653.2 2299.4 1658.2 2301.9 1663.2 2302.8 1668.2 2302.2 1673.2 2299.6 1678.2 2298.8 1683.2 2299.1" stroke="#ff98f2" stroke-width="15.2" stroke-opacity="0.7"/>
<path d="M253.2 2262.0 258.2 2263.9 263.2 2262.2 268.2 2264.4 273.2 2265.4 278.2 2266.1 283.2 2264.5 288.2 2264.1 293.2 2266.1 298.2 2268.6 303.2 2267.7 308.2 2268.8 313.2 2268.8 318.2 2271.4 323.2 2272.9 328.2 2271.4 333.2 2273.8 338.2 2270.8 343.2 2273.5 348.2 2274.9 353.2 2272.5 358.2 2274.5 363.2 2274.8 368.2 2276.9 373.2 2274.6 378.2 2275.6 383.2 2277.7 388.2 2277.6 393.2 2276.4 398.2 2275.4 403.2 2279.0 408.2 2278.4 413.2 2280.8 418.2 2278.1 423.2 2280.4 428.2 2281.4 433.2 2282.5 438.2 2279.2 443.2 2280.0 448.2 2279.3 453.2 2282.4 458.2 2282.0 463.2 2284.9 468.2 2283.6 473.2 2285.3 478.2 2286.5 483.2 2284.4 488.2 2285.3 493.2 2287.5 498.2 2286.4 503.2 2285.3 508.2 2284.6 513.2 2286.6 518.2 2284.6 523.2 2285.8 528.2 2286.0 533.2 2286.0 538.2 2284.2 543.2 2285.9 548.2 2287.6 553.2 2285.5 558.2 2284.9 563.2 2287.2 568.2 2286.5 573.2 2285.0 578.2 2283.4 583.2 2286.1 588.2 2285.2 593.2 2285.4 598.2 2284.6 603.2 2286.0 608.2 2286.9 613.2 2285.5 618.2 2284.2 623.2 2287.9 628.2 2288.8 633.2 2285.4 638.2 2287.0 643.2 2288.2 648.2 2287.6 653.2 2289.1 658.2 2290.8 663.2 2290.0 668.2 2289.4 673.2 2289.2 678.2 2290.2 683.2 2290.7 688.2 2291.5 693.2 2292.9 698.2 2296.6 703.2 2296.9 708.2 2298.5 713.2 2299.8 718.2 2300.1 723.2 2297.1 728.2 2300.2 733.2 2297.7 738.2 2300.0 743.2 2301.1 748.2 2300.8 753.2 2299.8 758.2 2298.2 763.2 2297.9 768.2 2300.3 773.2 2299.4 778.2 2300.5 783.2 2299.9 788.2 2299.3 793.2 2299.9 798.2 2302.0 803.2 2301.7 808.2 2301.4 813.2 2301.8 818.2 2302.3 823.2 2302.4 828.2 2302.3 833.2 2304.6 838.2 2304.4 843.2 2302.2 848.2 2302.1 853.2 2301.5 858.2 2302.2 863.2 2301.1 868.2 2303.9 873.2 2304.0 878.2 2303.5 883.2 2305.5 888.2 2303.7 893.2 2304.3 898.2 2306.0 903.2 2305.0 908.2 2305.0 913.2 2304.0 918.2 2306.4 923.2 2306.2 928.2 2304.2 933.2 2303.9 938.2 2304.9 943.2 2304.9 948.2 2305.0 953.2 2303.7 958.2 2305.0 963.2 2306.0 968.2 2306.6 973.2 2305.4 978.2 2305.1 983.2 2305.3 988.2 2305.6 993.2 2305.4 998.2 2303.5 1003.2 2304.0 1008.2 2307.3 1013.2 2307.6 1018.2 2306.2 1023.2 2307.1 1028.2 2305.0 1033.2 2304.7 1038.2 2305.7 1043.2 2306.8 1048.2 2304.3 1053.2 2305.5 1058.2 2307.8 1063.2 2307.2 1068.2 2308.7 1073.2 2305.3 1078.2 2307.8 1083.2 2308.3 1088.2 2304.9 1093.2 2306.1 1098.2 2307.5 1103.2 2305.6 1108.2 2306.8 1113.2 2308.1 1118.2 2308.2 1123.2 2306.7 1128.2 2304.7 1133.2 2306.1 1138.2 2305.0 1143.2 2306.2 1148.2 2305.4 1153.2 2305.5 1158.2 2306.4 1163.2 2307.8 1168.2 2309.0 1173.2 2306.8 1178.2 2304.5 1183.2 2307.0 1188.2 2305.9 1193.2 2307.4 1198.2 2308.2 1203.2 2305.0 1208.2 2307.0 1213.2 2305.7 1218.2 2305.5 1223.2 2305.5 1228.2 2306.4 1233.2 2305.4 1238.2 2306.1 1243.2 2305.5 1248.2 2304.6 1253.2 2304.8 1258.2 2306.8 1263.2 2305.7 1268.2 2305.0 1273.2 2305.4 1278.2 2304.9 1283.2 2308.0 1288.2 2308.1 1293.2 2305.3 1298.2 2305.1 1303.2 2305.6 1308.2 2306.1 1313.2 2305.6 1318.2 2306.0 1323.2 2307.1 1328.2 2304.8 1333.2 2305.8 1338.2 2304.3 1343.2 2305.4 1348.2 2304.8 1353.2 2306.6 1358.2 2307.5 1363.2 2308.0 1368.2 2305.7 1373.2 2305.9 1378.2 2303.9 1383.2 2305.6 1388.2 2306.4 1393.2 2305.0 1398.2 2304.1 1403.2 2305.7 1408.2 2306.0 1413.2 2306.3 1418.2 2304.1 1423.2 2303.2 1428.2 2302.9 1433.2 2302.5 1438.2 2301.5 1443.2 2301.7 1448.2 2303.3 1453.2 2303.4 1458.2 2305.4 1463.2 2303.7 1468.2 2302.3 1473.2 2305.1 1478.2 2302.2 1483.2 2302.4 1488.2 2304.2 1493.2 2302.8 1498.2 2305.1 1503.2 2304.8 1508.2 2302.8 1513.2 2304.5 1518.2 2305.2 1523.2 2303.6 1528.2 2301.4 1533.2 2300.6 1538.2 2303.3 1543.2 2304.4 1548.2 2303.6 1553.2 2303.9 1558.2 2304.0 1563.2 2301.5 1568.2 2300.6 1573.2 2303.1 1578.2 2303.7 1583.2 2302.1 1588.2 2300.8 1593.2 2299.5 1598.2 2300.5 1603.2 2302.9 1608.2 2300.5 1613.2 2300.2 1618.2 2298.9 1623.2 2300.7 1628.2 2299.0 1633.2 2301.1 1638.2 2300.9 1643.2 2300.5 1648.2 2299.6 1653.2 2299.4 1658.2 2301.9 1663.2 2302.8 1668.2 2302.2 1673.2 2299.6 1678.2 2298.8 1683.2 2299.1" stroke="#ee10bc" stroke-width="9.2"/>
</g>
<g id="axes" filter="url(#soft2)">
<line x1="240.3" y1="1053.3" x2="1692.5" y2="1053.3" stroke="#3a3a3a" stroke-width="6.5"/>
<line x1="306" y1="1053.3" x2="306" y2="1074.3" stroke="#3a3a3a" stroke-width="7"/>
<line x1="431.65" y1="1053.3" x2="431.65" y2="1066.3" stroke="#3a3a3a" stroke-width="7"/>
<line x1="557.3" y1="1053.3" x2="557.3" y2="1074.3" stroke="#3a3a3a" stroke-width="7"/>
<line x1="682.95" y1="1053.3" x2="682.95" y2="1066.3" stroke="#3a3a3a" stroke-width="7"/>
<line x1="808.6" y1="1053.3" x2="808.6" y2="1074.3" stroke="#3a3a3a" stroke-width="7"/>
<line x1="934.25" y1="1053.3" x2="934.25" y2="1066.3" stroke="#3a3a3a" stroke-width="7"/>
<line x1="1059.9" y1="1053.3" x2="1059.9" y2="1074.3" stroke="#3a3a3a" stroke-width="7"/>
<line x1="1185.55" y1="1053.3" x2="1185.55" y2="1066.3" stroke="#3a3a3a" stroke-width="7"/>
<line x1="1311.2" y1="1053.3" x2="1311.2" y2="1074.3" stroke="#3a3a3a" stroke-width="7"/>
<line x1="1436.85" y1="1053.3" x2="1436.85" y2="1066.3" stroke="#3a3a3a" stroke-width="7"/>
<line x1="1562.5" y1="1053.3" x2="1562.5" y2="1074.3" stroke="#3a3a3a" stroke-width="7"/>
<line x1="1689" y1="1053.3" x2="1689" y2="1066.3" stroke="#3a3a3a" stroke-width="7"/>
<line x1="243.5" y1="2376.5" x2="1695" y2="2376.5" stroke="#3a3a3a" stroke-width="6.5"/>
<line x1="309.4" y1="2376.5" x2="309.4" y2="2397.5" stroke="#3a3a3a" stroke-width="7"/>
<line x1="435.05" y1="2376.5" x2="435.05" y2="2389.5" stroke="#3a3a3a" stroke-width="7"/>
<line x1="560.7" y1="2376.5" x2="560.7" y2="2397.5" stroke="#3a3a3a" stroke-width="7"/>
<line x1="686.35" y1="2376.5" x2="686.35" y2="2389.5" stroke="#3a3a3a" stroke-width="7"/>
<line x1="812" y1="2376.5" x2="812" y2="2397.5" stroke="#3a3a3a" stroke-width="7"/>
<line x1="937.65" y1="2376.5" x2="937.65" y2="2389.5" stroke="#3a3a3a" stroke-width="7"/>
<line x1="1063.3" y1="2376.5" x2="1063.3" y2="2397.5" stroke="#3a3a3a" stroke-width="7"/>
<line x1="1188.95" y1="2376.5" x2="1188.95" y2="2389.5" stroke="#3a3a3a" stroke-width="7"/>
<line x1="1314.6" y1="2376.5" x2="1314.6" y2="2397.5" stroke="#3a3a3a" stroke-width="7"/>
<line x1="1440.25" y1="2376.5" x2="1440.25" y2="2389.5" stroke="#3a3a3a" stroke-width="7"/>
<line x1="1565.9" y1="2376.5" x2="1565.9" y2="2397.5" stroke="#3a3a3a" stroke-width="7"/>
<line x1="1691.5" y1="2376.5" x2="1691.5" y2="2389.5" stroke="#3a3a3a" stroke-width="7"/>
<text x="291.5" y="1118" font-size="52" textLength="28" lengthAdjust="spacingAndGlyphs" text-anchor="start" fill="#262626">4</text>
<text x="542.8" y="1118" font-size="52" textLength="28" lengthAdjust="spacingAndGlyphs" text-anchor="start" fill="#262626">6</text>
<text x="794.1" y="1118" font-size="52" textLength="28" lengthAdjust="spacingAndGlyphs" text-anchor="start" fill="#262626">8</text>
<text x="1032.3" y="1118" font-size="52" textLength="56" lengthAdjust="spacingAndGlyphs" text-anchor="start" fill="#262626">10</text>
<text x="1283.6" y="1118" font-size="52" textLength="56" lengthAdjust="spacingAndGlyphs" text-anchor="start" fill="#262626">12</text>
<text x="1534.9" y="1118" font-size="52" textLength="56" lengthAdjust="spacingAndGlyphs" text-anchor="start" fill="#262626">14</text>
<text x="294.9" y="2441.5" font-size="49" textLength="28" lengthAdjust="spacingAndGlyphs" text-anchor="start" fill="#262626">4</text>
<text x="546.2" y="2441.5" font-size="49" textLength="28" lengthAdjust="spacingAndGlyphs" text-anchor="start" fill="#262626">6</text>
<text x="797.5" y="2441.5" font-size="49" textLength="28" lengthAdjust="spacingAndGlyphs" text-anchor="start" fill="#262626">8</text>
<text x="1035.7" y="2441.5" font-size="49" textLength="56" lengthAdjust="spacingAndGlyphs" text-anchor="start" fill="#262626">10</text>
<text x="1287" y="2441.5" font-size="49" textLength="56" lengthAdjust="spacingAndGlyphs" text-anchor="start" fill="#262626">12</text>
<text x="1538.3" y="2441.5" font-size="49" textLength="56" lengthAdjust="spacingAndGlyphs" text-anchor="start" fill="#262626">14</text>
<line x1="152.6" y1="401.6" x2="152.6" y2="750.7" stroke="#000" stroke-width="11.5"/>
<polygon points="152.6,378.8 136.1,405.6 169.1,405.6" fill="#000" stroke="#000" stroke-width="2" stroke-linejoin="round"/>
<line x1="152.6" y1="1655.7" x2="152.6" y2="2002" stroke="#000" stroke-width="11.5"/>
<polygon points="152.6,1631.9 136.1,1659.7 169.1,1659.7" fill="#000" stroke="#000" stroke-width="2" stroke-linejoin="round"/>
</g>
<g id="labels">
<text font-size="78" fill="#111"><tspan x="58" y="75.6" textLength="30" lengthAdjust="spacingAndGlyphs">(</tspan><tspan x="90" y="85" font-size="90" textLength="46" lengthAdjust="spacingAndGlyphs" stroke="#111" stroke-width="0.8">a</tspan><tspan x="137" y="75.6" textLength="30" lengthAdjust="spacingAndGlyphs">)</tspan></text>
<text x="351" y="201.5" font-size="52" textLength="249" lengthAdjust="spacingAndGlyphs" text-anchor="start" fill="#151515">d=<tspan class="n" font-size="48.0294">22.89</tspan> Å</text>
<text x="1254.5" y="92" font-size="52" textLength="219" lengthAdjust="spacingAndGlyphs" text-anchor="start" fill="#151515">d=<tspan class="n" font-size="48.0294">7.19</tspan> Å</text>
<text class="n" x="1728.35" y="149.15" font-size="63.0294" textLength="111.3" lengthAdjust="spacingAndGlyphs" text-anchor="start" fill="#151515">GO</text>
<text class="n" x="1729.35" y="458.65" font-size="62.0294" textLength="232.3" lengthAdjust="spacingAndGlyphs" text-anchor="start" fill="#151515">C16<tspan class="b">-</tspan>GS</text>
<text class="n" x="1442.35" y="547.15" font-size="60.0294" textLength="645.3" lengthAdjust="spacingAndGlyphs" text-anchor="start" fill="#151515">C16<tspan class="b">-</tspan>GS in CPI (wt%)</text>
<text class="n" x="1722.35" y="629.25" font-size="60.0294" textLength="365.3" lengthAdjust="spacingAndGlyphs" text-anchor="start" fill="#151515">0 (pure CPI)</text>
<text class="n" x="1723.85" y="720.15" font-size="57.5294" textLength="114.3" lengthAdjust="spacingAndGlyphs" text-anchor="start" fill="#151515">0.25</text>
<text class="n" x="1723.85" y="811.65" font-size="57.5294" textLength="114.3" lengthAdjust="spacingAndGlyphs" text-anchor="start" fill="#151515">0.50</text>
<text class="n" x="1723.85" y="904.35" font-size="57.5294" textLength="114.3" lengthAdjust="spacingAndGlyphs" text-anchor="start" fill="#151515">0.75</text>
<text class="n" x="1723.85" y="987.45" font-size="57.5294" textLength="115.3" lengthAdjust="spacingAndGlyphs" text-anchor="start" fill="#151515">1.00</text>
<text font-size="76" fill="#151515"><tspan x="746.2" y="1233.3" textLength="44.5" lengthAdjust="spacingAndGlyphs">2</tspan><tspan class="th" x="788.5" y="1233" font-size="64.372" textLength="52" lengthAdjust="spacingAndGlyphs">θ</tspan> <tspan x="864.6" y="1233.3" textLength="307.5" lengthAdjust="spacingAndGlyphs">(degree)</tspan></text>
<text font-size="78" fill="#111"><tspan x="43.5" y="1399.6" textLength="30" lengthAdjust="spacingAndGlyphs">(</tspan><tspan x="82.5" y="1408" font-size="85" textLength="49" lengthAdjust="spacingAndGlyphs" stroke="#111" stroke-width="0.8">b</tspan><tspan x="132" y="1399.6" textLength="30" lengthAdjust="spacingAndGlyphs">)</tspan></text>
<text x="947" y="1357.2" font-size="52" textLength="246" lengthAdjust="spacingAndGlyphs" text-anchor="start" fill="#151515">d=<tspan class="n" font-size="48.0294">11.99</tspan> Å</text>
<text x="337" y="1494.6" font-size="51" textLength="246" lengthAdjust="spacingAndGlyphs" text-anchor="start" fill="#151515">d=<tspan class="n" font-size="47.0294">25.96</tspan> Å</text>
<text class="n" x="1739.35" y="1456.45" font-size="56.5294" textLength="327.3" lengthAdjust="spacingAndGlyphs" text-anchor="start" fill="#151515">Na<tspan dy="-21" font-size="44">+</tspan><tspan dy="21"><tspan class="b">-</tspan>MMT</tspan></text>
<text class="n" x="1734.85" y="1674.65" font-size="56.5294" textLength="312.3" lengthAdjust="spacingAndGlyphs" text-anchor="start" fill="#151515">C16<tspan class="b">-</tspan>MMT</text>
<text class="n" x="1381.35" y="1768.35" font-size="57.0294" textLength="728.3" lengthAdjust="spacingAndGlyphs" text-anchor="start" fill="#151515">C16<tspan class="b">-</tspan>MMT in CPI (wt%)</text>
<text class="n" x="1739.85" y="1857.05" font-size="57.0294" textLength="369.3" lengthAdjust="spacingAndGlyphs" text-anchor="start" fill="#151515">0 (pure CPI)</text>
<text class="n" x="1738.85" y="1967.45" font-size="56.5294" textLength="115.3" lengthAdjust="spacingAndGlyphs" text-anchor="start" fill="#151515">0.25</text>
<text class="n" x="1738.85" y="2082.15" font-size="56.5294" textLength="115.3" lengthAdjust="spacingAndGlyphs" text-anchor="start" fill="#151515">0.50</text>
<text class="n" x="1738.85" y="2193.15" font-size="56.5294" textLength="115.3" lengthAdjust="spacingAndGlyphs" text-anchor="start" fill="#151515">0.75</text>
<text class="n" x="1738.85" y="2310.45" font-size="56.5294" textLength="115.3" lengthAdjust="spacingAndGlyphs" text-anchor="start" fill="#151515">1.00</text>
<text x="547.5" y="2147.2" font-size="52" textLength="246" lengthAdjust="spacingAndGlyphs" text-anchor="start" fill="#151515">d=<tspan class="n" font-size="48.0294">13.12</tspan> Å</text>
<text font-size="74" fill="#151515"><tspan x="746.2" y="2556.5" textLength="44.5" lengthAdjust="spacingAndGlyphs">2</tspan><tspan class="th" x="788.5" y="2556.2" font-size="62.678" textLength="52" lengthAdjust="spacingAndGlyphs">θ</tspan> <tspan x="864.6" y="2556.5" textLength="307.5" lengthAdjust="spacingAndGlyphs">(degree)</tspan></text>
<text transform="translate(72.7 563.25) rotate(-90)" x="0" y="0" font-size="86.0882" textLength="294" lengthAdjust="spacingAndGlyphs" text-anchor="middle" class="i" fill="#151515">Intensity</text>
<text transform="translate(72.7 1817.3) rotate(-90)" x="0" y="0" font-size="86.0882" textLength="294" lengthAdjust="spacingAndGlyphs" text-anchor="middle" class="i" fill="#151515">Intensity</text>
</g>
</g>
</svg>
</body></html>
